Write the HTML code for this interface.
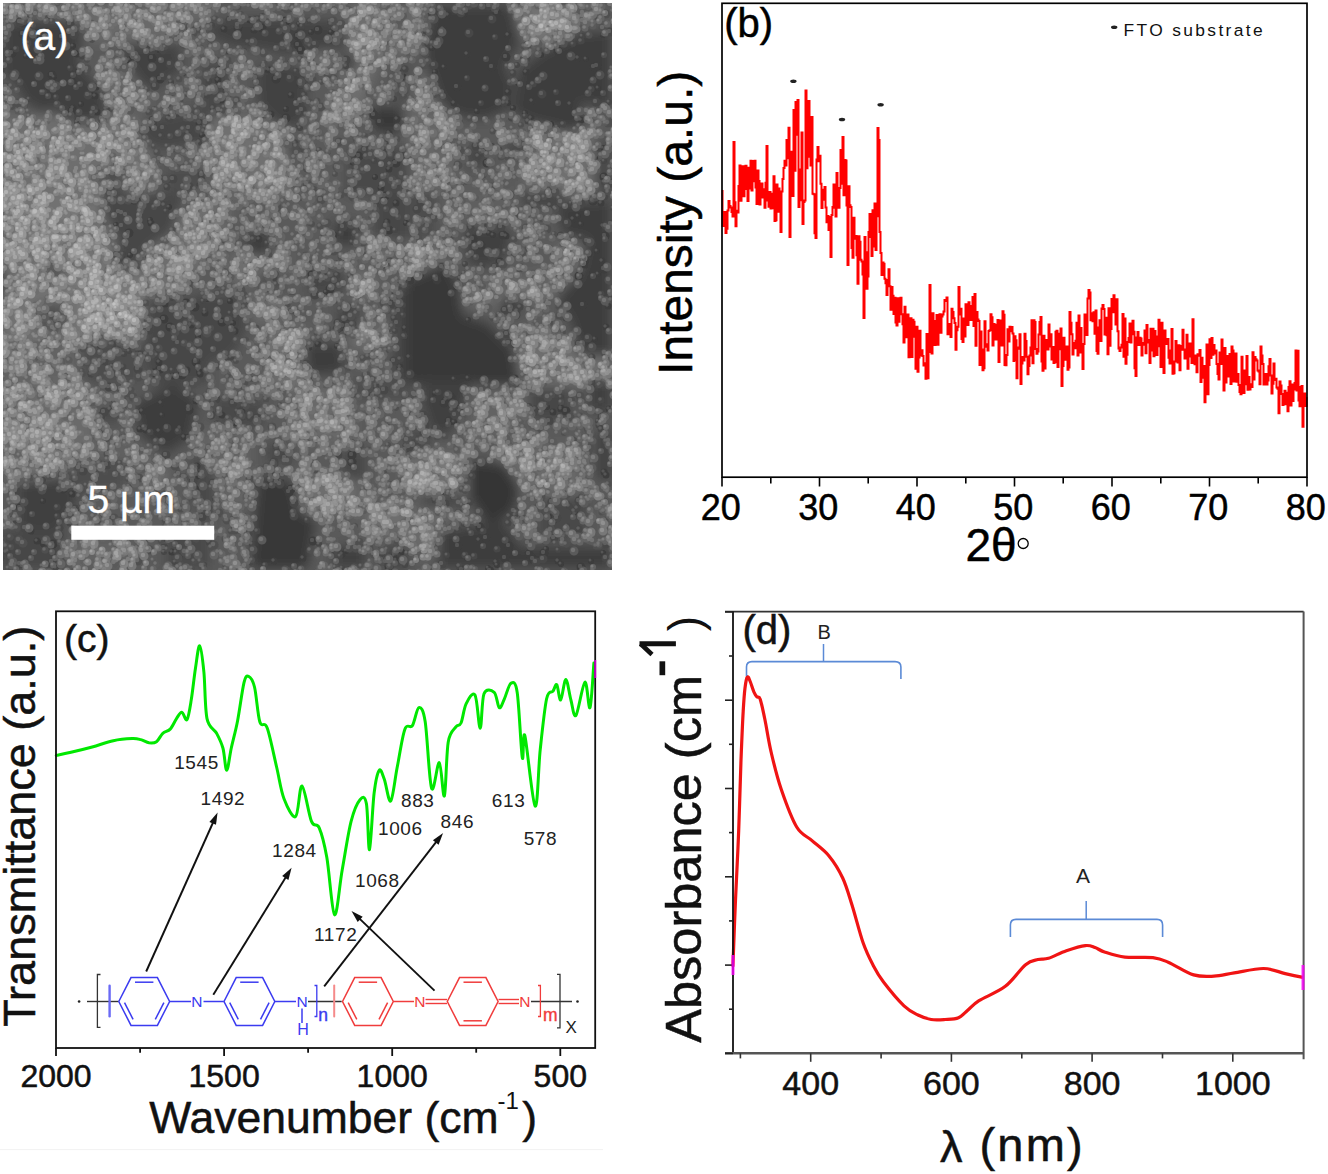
<!DOCTYPE html>
    <html><head><meta charset="utf-8"><style>html,body{margin:0;padding:0;background:#fff;width:1328px;height:1174px;overflow:hidden}
    svg{display:block} text{font-family:"Liberation Sans", sans-serif}</style></head><body>
    <svg width="1328" height="1174" viewBox="0 0 1328 1174">
    <defs><clipPath id="semclip"><rect x="3" y="3" width="609" height="567"/></clipPath><filter id="semblur" x="-5%" y="-5%" width="110%" height="110%"><feGaussianBlur stdDeviation="6"/></filter><filter id="semp" x="-5%" y="-5%" width="110%" height="110%"><feGaussianBlur stdDeviation="0.7"/></filter></defs>
<g clip-path="url(#semclip)"><g filter="url(#semblur)">
<rect x="-20" y="-20" width="660" height="620" fill="#5a5a5a"/>
<rect x="3" y="3" width="207" height="17" fill="#696969"/>
<rect x="90" y="10" width="86" height="32" fill="#696969"/>
<rect x="100" y="66" width="50" height="37" fill="#696969"/>
<rect x="0" y="116" width="150" height="79" fill="#6e6e6e"/>
<rect x="196" y="116" width="14" height="42" fill="#696969"/>
<polygon points="350,3 380,3 380,60 360,110 333,130 325,115 350,70" fill="#6e6e6e"/>
<rect x="293" y="50" width="40" height="16" fill="#696969"/>
<rect x="200" y="116" width="91" height="79" fill="#707070"/>
<rect x="383" y="42" width="27" height="16" fill="#696969"/>
<polygon points="513,5 571,5 571,37 546,47 521,37" fill="#757575"/>
<rect x="578" y="80" width="34" height="23" fill="#696969"/>
<rect x="405" y="0" width="25" height="50" fill="#696969"/>
<rect x="405" y="75" width="50" height="120" fill="#666666"/>
<rect x="468" y="91" width="40" height="17" fill="#696969"/>
<rect x="525" y="126" width="68" height="69" fill="#707070"/>
<rect x="3" y="193" width="140" height="147" fill="#727272"/>
<rect x="80" y="273" width="63" height="67" fill="#797979"/>
<polygon points="146,240 190,207 210,207 210,260 170,290 146,290" fill="#6e6e6e"/>
<rect x="0" y="340" width="80" height="45" fill="#646464"/>
<rect x="200" y="190" width="30" height="50" fill="#696969"/>
<rect x="233" y="253" width="53" height="30" fill="#707070"/>
<rect x="350" y="273" width="24" height="25" fill="#707070"/>
<rect x="366" y="240" width="25" height="16" fill="#6e6e6e"/>
<rect x="270" y="330" width="38" height="55" fill="#6e6e6e"/>
<rect x="350" y="323" width="50" height="25" fill="#6e6e6e"/>
<rect x="250" y="296" width="33" height="27" fill="#696969"/>
<rect x="405" y="243" width="42" height="33" fill="#6b6b6b"/>
<polygon points="463,290 560,270 588,276 588,300 500,306 463,306" fill="#696969"/>
<rect x="560" y="243" width="19" height="23" fill="#757575"/>
<rect x="518" y="340" width="94" height="45" fill="#6e6e6e"/>
<rect x="438" y="190" width="83" height="38" fill="#5f5f5f"/>
<rect x="3" y="383" width="90" height="97" fill="#6b6b6b"/>
<rect x="100" y="443" width="50" height="28" fill="#626262"/>
<rect x="146" y="466" width="20" height="22" fill="#6e6e6e"/>
<rect x="50" y="540" width="83" height="23" fill="#646464"/>
<rect x="300" y="476" width="58" height="37" fill="#6e6e6e"/>
<rect x="366" y="505" width="44" height="25" fill="#6e6e6e"/>
<rect x="291" y="386" width="62" height="57" fill="#696969"/>
<rect x="200" y="430" width="50" height="75" fill="#646464"/>
<rect x="405" y="453" width="63" height="43" fill="#6e6e6e"/>
<rect x="496" y="446" width="83" height="50" fill="#6b6b6b"/>
<rect x="405" y="510" width="42" height="45" fill="#696969"/>
<rect x="471" y="388" width="54" height="50" fill="#646464"/>
<polygon points="3,25 22,18 73,20 83,33 78,63 105,93 106,116 93,123 70,123 55,108 41,113 23,100 15,83 3,75" fill="#414141"/>
<polygon points="120,45 179,43 183,70 159,86 150,93 136,80 126,63" fill="#424242"/>
<polygon points="141,120 166,116 199,108 210,116 210,150 191,145 166,150 145,146 136,133" fill="#464646"/>
<rect x="166" y="166" width="44" height="29" fill="#4d4d4d"/>
<rect x="100" y="169" width="26" height="26" fill="#505050"/>
<polygon points="207,23 242,17 300,20 333,20 350,47 325,50 293,56 263,50 233,47 210,37" fill="#424242"/>
<polygon points="255,66 293,63 316,75 306,91 308,116 293,130 271,123 258,103" fill="#424242"/>
<rect x="200" y="63" width="30" height="53" fill="#494949"/>
<polygon points="371,106 403,108 403,133 373,133" fill="#383838"/>
<polygon points="286,143 303,143 305,158 290,158" fill="#3c3c3c"/>
<polygon points="341,55 358,56 354,71 343,70" fill="#3c3c3c"/>
<rect x="346" y="146" width="64" height="49" fill="#494949"/>
<rect x="396" y="63" width="14" height="40" fill="#464646"/>
<polygon points="432,5 513,5 521,42 505,66 513,83 511,108 485,120 455,116 438,100 427,66 423,42" fill="#3c3c3c"/>
<polygon points="518,70 555,42 579,33 612,30 612,108 579,103 588,125 571,133 538,125 513,113" fill="#3c3c3c"/>
<polygon points="463,146 488,146 491,166 468,169" fill="#464646"/>
<polygon points="505,141 531,141 528,158 508,158" fill="#464646"/>
<rect x="596" y="141" width="16" height="54" fill="#464646"/>
<polygon points="100,193 183,193 174,232 150,248 133,276 113,270 116,240 103,215" fill="#464646"/>
<polygon points="146,300 191,298 210,290 210,385 150,385 141,340" fill="#464646"/>
<polygon points="80,340 116,336 141,348 141,385 83,385" fill="#4d4d4d"/>
<rect x="0" y="273" width="10" height="20" fill="#494949"/>
<rect x="36" y="303" width="30" height="28" fill="#505050"/>
<rect x="46" y="263" width="17" height="17" fill="#4d4d4d"/>
<polygon points="241,233 271,233 271,256 250,256" fill="#3c3c3c"/>
<polygon points="333,220 358,223 358,246 333,245" fill="#3c3c3c"/>
<rect x="374" y="193" width="36" height="47" fill="#464646"/>
<polygon points="200,296 241,293 250,323 233,356 200,364" fill="#464646"/>
<polygon points="308,270 350,273 346,293 308,296" fill="#464646"/>
<polygon points="338,306 358,306 358,331 338,331" fill="#3f3f3f"/>
<polygon points="303,343 341,343 346,373 306,376" fill="#3c3c3c"/>
<rect x="391" y="290" width="19" height="95" fill="#464646"/>
<rect x="258" y="270" width="25" height="26" fill="#4d4d4d"/>
<polygon points="405,280 447,261 460,290 463,315 488,323 513,348 521,385 405,385" fill="#383838"/>
<polygon points="463,227 511,227 508,256 488,268 468,265" fill="#3f3f3f"/>
<polygon points="555,203 612,200 612,356 579,356 571,323 555,298 579,273 588,240 563,236" fill="#3c3c3c"/>
<polygon points="501,298 521,298 521,311 505,313" fill="#313131"/>
<rect x="405" y="190" width="33" height="50" fill="#4d4d4d"/>
<rect x="521" y="190" width="42" height="17" fill="#424242"/>
<polygon points="133,403 174,383 199,400 191,438 166,455 141,438" fill="#3c3c3c"/>
<polygon points="17,483 66,476 80,496 66,521 50,538 17,526" fill="#3f3f3f"/>
<rect x="0" y="530" width="66" height="39" fill="#464646"/>
<rect x="66" y="460" width="59" height="28" fill="#4d4d4d"/>
<rect x="166" y="526" width="44" height="43" fill="#494949"/>
<rect x="100" y="407" width="20" height="16" fill="#464646"/>
<rect x="191" y="455" width="19" height="50" fill="#494949"/>
<polygon points="258,476 291,480 300,510 316,521 308,569 250,569 255,505" fill="#383838"/>
<polygon points="213,397 266,400 263,430 233,430 213,421" fill="#494949"/>
<rect x="266" y="443" width="27" height="20" fill="#464646"/>
<rect x="341" y="450" width="25" height="30" fill="#464646"/>
<rect x="333" y="546" width="33" height="23" fill="#3f3f3f"/>
<rect x="383" y="546" width="27" height="23" fill="#424242"/>
<rect x="350" y="380" width="60" height="20" fill="#4d4d4d"/>
<rect x="200" y="471" width="16" height="50" fill="#494949"/>
<polygon points="468,460 505,463 521,488 513,513 488,526 468,496" fill="#353535"/>
<polygon points="422,380 471,380 463,413 447,438 430,430 422,405" fill="#3f3f3f"/>
<polygon points="438,530 505,521 521,546 612,546 612,569 438,569" fill="#3c3c3c"/>
<rect x="588" y="380" width="24" height="33" fill="#3f3f3f"/>
<rect x="596" y="430" width="16" height="50" fill="#3f3f3f"/>
<rect x="530" y="388" width="41" height="33" fill="#464646"/>
<rect x="422" y="493" width="41" height="13" fill="#424242"/>
<rect x="538" y="496" width="50" height="42" fill="#494949"/>
<rect x="405" y="430" width="25" height="25" fill="#494949"/>
</g>
<g filter="url(#semp)" stroke-linecap="round" fill="none">
<path d="M444 12h0m-145 12h0m12 8h0m20 0h0m2-3h0m270 6h0m-597 1h0m31 4h0m36 6h0m-47 10h0m108 1h0m298-9h0m109 7h0m45 4h0m-372 12h0m220-6h0m10 2h0m-393 15h0m3-5h0m381-5h0m83 11h0m-427 12h0m507-7h0m-517 16h0m427-1h0m-222 6h0m191 2h0m36-3h0m12 5h0m26 11h0m-349 11h0m401 13h0m-228 29h0m-214 20h0m441 0h0m-433 10h0m-53 18h0m34-5h0m191 3h0m65 0h0m172-7h0m3 8h0m-97 6h0m5 3h0m4 2h0m104 16h0m-467 4h0m291 20h0m177-1h0m-391 25h0m119-7h0m-96 9h0m3 22h0m235-3h0m-270 16h0m139 10h0m2 0h0m66-9h0m190 2h0m-286 9h0m-110 23h0m255 8h0m14-1h0m-33 15h0m112 14h0m-385 8h0m298-7h0m-6 14h0m22 43h0m-195 16h0m-238 20h0m511 20h0m-348 14h0m140 16h0m200-2h0m-152 7h0m0-2h0m2 6h0m6-8h0m65 6h0m124 3h0m12-8h0m-214 13h0m99 2h0m9-3h0m64-1h0" stroke="#3c3c3c" stroke-width="6"/>
<path d="M250 20h0m198-5h0m-417 16h0m193-2h0m30 1h0m189-1h0m65 6h0m-177 5h0m109 2h0m-410 12h0m47 0h0m83-4h0m307 4h0m111 4h0m-449 2h0m5 5h0m85 5h0m46-1h0m4 1h0m-51 10h0m308-8h0m-430 15h0m195 8h0m217-3h0m-413 4h0m126 4h0m233 3h0m78-2h0m38 3h0m-497 4h0m24 4h0m174 2h0m101-3h0m25 8h0m134-1h0m-379 9h0m429-7h0m-192 13h0m-36 29h0m42 1h0m-6 6h0m-8 19h0m-247 13h0m262 2h0m205 0h0m-475 12h0m250-9h0m-225 17h0m236-1h0m186-3h0m30 7h0m-344 13h0m75-4h0m172 1h0m-385 21h0m372-3h0m96 0h0m13 7h0m-158 8h0m4 0h0m137-4h0m-129 22h0m-126 2h0m-165 15h0m443 2h0m-403 7h0m-19 12h0m5 0h0m44 6h0m170-3h0m201-1h0m-288 17h0m-180 10h0m271 3h0m-250 5h0m28 8h0m123-1h0m90-2h0m-227 9h0m27-2h0m315 4h0m76 9h0m-430 16h0m35-2h0m250-1h0m-304 11h0m80 4h0m331-3h0m8-4h0m0 1h0m48 0h0m-469 20h0m6 1h0m13 1h0m21-3h0m55-5h0m-51 14h0m13 29h0m407 6h0m2 3h0m-410 14h0m-124 5h0m503 20h0m-26 3h0m8 1h0m-526 13h0m6 10h0m442-1h0m-307 12h0m7 5h0m95 4h0m29-3h0m39-4h0m45 5h0m109 3h0m62-1h0" stroke="#3c3c3c" stroke-width="7"/>
<path d="M491 6h0m-468 17h0m263-2h0m177-7h0m34-1h0m-474 21h0m215-6h0m24 0h0m56 2h0m-256 7h0m236 8h0m0-9h0m-286 17h0m122 5h0m18 0h0m149-8h0m205 7h0m52-6h0m-478 19h0m412-3h0m102 0h0m3-1h0m-545 9h0m20 7h0m88-3h0m116 0h0m127-1h0m-102 6h0m156 3h0m-385 24h0m214 7h0m88-3h0m-174 8h0m180-1h0m-21 34h0m37 7h0m91 0h0m114-4h0m3 18h0m-219 19h0m208 5h0m-464 32h0m260-3h0m84 9h0m30-4h0m102 1h0m-124 9h0m19 17h0m85-2h0m-273 15h0m292-6h0m-194 11h0m27 0h0m142-4h0m-249 13h0m-144 14h0m9 4h0m388-2h0m-419 14h0m58 3h0m-52 5h0m170 0h0m3-1h0m-183 43h0m36-7h0m-42 11h0m28 2h0m262 28h0m7-6h0m-262 13h0m51 3h0m1-1h0m325-1h0m-399 16h0m282-6h0m-260 17h0m163 17h0m0 7h0m-155 13h0m-134 14h0m228 0h0m-2 3h0m-269 16h0m529 2h0m-69 17h0m6 11h0m-442 5h0m9 1h0m260-3h0m145 5h0m51 0h0m-4 12h0m24-4h0m4 5h0m11-6h0m-155 14h0m73 3h0m28 1h0m91-4h0" stroke="#3c3c3c" stroke-width="9"/>
<path d="M28 19h0m20 1h0m214-4h0m68 5h0m-298 13h0m180-9h0m90 1h0m-238 18h0m85 1h0m161 1h0m24-9h0m161 0h0m78 7h0m9-8h0m-544 22h0m45-6h0m49 0h0m3 1h0m109-2h0m-174 17h0m226 3h0m50-5h0m171-1h0m-435 7h0m89 10h0m38-1h0m191-8h0m67 5h0m48 3h0m-471 11h0m172-5h0m37 3h0m182-1h0m121 3h0m-527 7h0m27-2h0m338 2h0m87 4h0m128-1h0m-501 6h0m60 10h0m10-4h0m27 4h0m320-2h0m-448 6h0m77 2h0m51 3h0m95 1h0m257-1h0m-173 22h0m108-3h0m-118 15h0m230 0h0m-252 10h0m55 16h0m197-5h0m-33 21h0m-405 8h0m447-3h0m-189 11h0m3 8h0m-86 6h0m20-5h0m34 2h0m186 6h0m-314 7h0m85-1h0m-229 12h0m342 10h0m-150 21h0m81 1h0m64-8h0m-288 20h0m230-4h0m-226 16h0m27-9h0m2 9h0m198-5h0m-173 8h0m11-1h0m162 3h0m109 3h0m-316 6h0m142 6h0m2-2h0m8 5h0m47-2h0m-295 15h0m24 8h0m5-3h0m28 4h0m70 3h0m-115 8h0m60 4h0m7-1h0m17-9h0m-42 21h0m222 4h0m0 2h0m95 3h0m120-6h0m-348 22h0m286 0h0m11 1h0m6-3h0m15-7h0m-459 20h0m135-6h0m303 11h0m58-1h0m-173 13h0m-67 15h0m-7 13h0m-156 9h0m79 7h0m-231 2h0m410 17h0m12 5h0m-388 12h0m438 1h0m29-8h0m-487 9h0m250 4h0m157 4h0m14-7h0m89 9h0m-401 13h0m278-10h0m25 1h0m82 6h0m13 1h0m-556 14h0m40-7h0m204 0h0m67 0h0m239 6h0m-394 2h0m11 10h0m1-10h0m164 4h0m42-2h0m65 1h0m-433 12h0m1-1h0m1-2h0m40 4h0m128 1h0m20-4h0m61 0h0m77 3h0m46 3h0m17-6h0m33 6h0m146 1h0" stroke="#464646" stroke-width="6"/>
<path d="M443 10h0m-185 9h0m52 2h0m-54 6h0m75-3h0m95 7h0m-398 12h0m220-1h0m180 2h0m153-3h0m-573 15h0m8-7h0m66 7h0m70-5h0m75 0h0m59 14h0m5-3h0m114 7h0m122-3h0m-14 7h0m-306 22h0m94-10h0m3 10h0m89-10h0m140-1h0m58 5h0m-87 14h0m-398 6h0m64 10h0m43-11h0m-9 23h0m95-6h0m229-4h0m35 3h0m-402 12h0m27-3h0m2 3h0m9 6h0m96 1h0m84 3h0m7 0h0m0-2h0m16 11h0m97-5h0m99-2h0m-208 16h0m88-8h0m-312 24h0m1 7h0m0-7h0m23 6h0m163 1h0m253-6h0m-14 19h0m-428 5h0m370 1h0m16-1h0m-204 14h0m124 7h0m-217 13h0m11-6h0m8 2h0m61 4h0m136-4h0m2-7h0m-344 18h0m-6 12h0m202 17h0m14 0h0m145-10h0m-161 17h0m258 2h0m-374 14h0m34-3h0m30-7h0m332 6h0m-253 13h0m169 4h0m3-4h0m-284 10h0m158 1h0m172 0h0m-386 12h0m19-6h0m148 5h0m6-5h0m-240 20h0m291-8h0m-286 14h0m108 8h0m5-1h0m169 2h0m192-2h0m-487 5h0m18 5h0m277 3h0m-309 4h0m21-2h0m326 20h0m-249 15h0m24-6h0m41-1h0m347 0h0m-503 15h0m12-6h0m18 2h0m7 7h0m84-7h0m23 6h0m8 1h0m202-8h0m8 1h0m75-2h0m67 3h0m-424 19h0m39-7h0m209 1h0m173 0h0m2 4h0m-451 3h0m277 5h0m-88 18h0m67-9h0m0 3h0m205 10h0m1 1h0m-140 16h0m-257 22h0m220 2h0m27 2h0m8 0h0m112-5h0m-525 10h0m510-3h0m2 2h0m5 5h0m3-3h0m-507 15h0m96 3h0m6-2h0m17 3h0m263 0h0m56-4h0m1-7h0m-449 12h0m0 7h0m130 1h0m3-3h0m56 1h0m8-3h0m201-1h0m25 1h0m96-2h0m-370 13h0m130 6h0m158 1h0m115-5h0m-611 14h0m5-6h0m244 10h0m81-8h0m59 8h0m75-7h0m9 1h0m-426 8h0m301 6h0m110-4h0m76 8h0" stroke="#464646" stroke-width="7"/>
<path d="M489 6h0m-469 16h0m1 0h0m4-3h0m205 1h0m25 0h0m176-8h0m30 1h0m31 6h0m-460 7h0m38-2h0m4 11h0m164-10h0m231 8h0m141-1h0m-569 15h0m274-3h0m21-6h0m-173 12h0m363 9h0m-525 10h0m169-5h0m176-4h0m88 5h0m-271 11h0m22-4h0m71 6h0m34 0h0m19-2h0m-221 19h0m67-9h0m72 5h0m315 3h0m54 8h0m-502 7h0m208 1h0m210 7h0m-433 3h0m74 0h0m10 8h0m26 0h0m176 22h0m26 5h0m85-9h0m8 6h0m119 3h0m-248 6h0m-182 18h0m29-4h0m-1 10h0m194-2h0m217 0h0m-474 17h0m283 2h0m183-6h0m-485 16h0m3 1h0m4 2h0m250-8h0m41 2h0m164-5h0m-459 22h0m221 1h0m43-1h0m97 1h0m18 0h0m66-4h0m39 3h0m5-2h0m-50 12h0m26 5h0m-95 15h0m-50 11h0m53 0h0m-222 10h0m125 9h0m6-3h0m-89 12h0m81-2h0m215 2h0m-220 9h0m5-3h0m3 10h0m106-1h0m6 1h0m-173 12h0m59 0h0m119-8h0m-367 15h0m25-2h0m58 3h0m105-2h0m11-3h0m159 8h0m-329 9h0m331 0h0m5 1h0m65 0h0m9-6h0m-447 17h0m-3 14h0m168-5h0m46-1h0m42-2h0m-80 15h0m96-2h0m181 9h0m-482 4h0m275 3h0m-168 9h0m17 4h0m140-7h0m-269 16h0m107 3h0m46 3h0m166-3h0m3 3h0m29-3h0m78-3h0m69 5h0m-478 3h0m43 8h0m269 0h0m113-7h0m19-1h0m-144 13h0m-258 22h0m111-9h0m132 1h0m-302 18h0m167-1h0m0-2h0m11-4h0m-202 13h0m110 0h0m78 5h0m-255 15h0m177-10h0m20 2h0m46 1h0m18-2h0m3 2h0m14 19h0m146-8h0m112 7h0m27-1h0m-504 8h0m370-5h0m69 7h0m-503 12h0m2-3h0m189-3h0m92-1h0m160 11h0m103-9h0m-532 10h0m184 0h0m231 8h0m114 2h0m3-4h0m-393 14h0m442-4h0m-554 18h0m334 0h0m150 0h0m7-3h0m63-1h0m-586 6h0m324 10h0m98-10h0" stroke="#464646" stroke-width="9"/>
<path d="M222 1h0m60 7h0m9 1h0m19-2h0m31-6h0m120 6h0m49 4h0m-486 11h0m28-1h0m189-7h0m152 4h0m201 0h0m-561 7h0m205 8h0m45-9h0m56 1h0m247 3h0m-494 12h0m64-1h0m9 8h0m18-1h0m249-3h0m-346 6h0m36 3h0m86 6h0m56-7h0m25-2h0m38 5h0m85 4h0m12-5h0m62 6h0m118-4h0m-517 5h0m147 7h0m15-2h0m15-2h0m11 3h0m67-3h0m2 1h0m163 2h0m105 2h0m-539 7h0m14-3h0m148 11h0m86-1h0m80-8h0m7 8h0m-366 10h0m34-5h0m4-3h0m22 11h0m45-6h0m24-1h0m15 6h0m249 1h0m94-8h0m74 6h0m-595 6h0m4 8h0m13-1h0m23-10h0m20 2h0m104 0h0m52 9h0m164-10h0m1 7h0m1-4h0m14-4h0m154 7h0m-466 10h0m62-4h0m68 2h0m76 1h0m8 2h0m58-1h0m-222 15h0m139-7h0m123-1h0m1 11h0m99-8h0m17 2h0m15-1h0m71-2h0m-437 14h0m122 3h0m73-4h0m27 4h0m84 4h0m2-1h0m-324 4h0m13 0h0m3 8h0m149-4h0m9 2h0m52-7h0m81 10h0m5-6h0m15 2h0m-313 8h0m29 5h0m115-5h0m78 5h0m75-8h0m-304 22h0m41-5h0m115-5h0m18 6h0m51 1h0m-281 14h0m199-9h0m10 9h0m81-5h0m72-2h0m17 7h0m122-7h0m-295 17h0m192-2h0m41 0h0m15 1h0m-405 9h0m232 2h0m135 0h0m14 3h0m8-5h0m12 1h0m1 1h0m-247 14h0m3 1h0m74 1h0m12-8h0m130 0h0m85 7h0m-374 10h0m82 4h0m49-6h0m92-3h0m92 5h0m51 5h0m-274 10h0m166 2h0m8 0h0m14-1h0m31-2h0m-218 4h0m4 11h0m140-6h0m47-3h0m30 0h0m-330 13h0m53 7h0m34-8h0m20 1h0m117-3h0m17 9h0m37-8h0m-286 19h0m61 0h0m31-4h0m43-4h0m35 0h0m16 6h0m3-6h0m31 1h0m158-1h0m-403 14h0m58 7h0m216-2h0m-304 7h0m319 9h0m28-9h0m-313 20h0m305-8h0m6 5h0m45 4h0m-405 4h0m66 1h0m113 2h0m13 0h0m53-1h0m173 3h0m-465 11h0m13 1h0m279-3h0m2-5h0m190 10h0m-357 11h0m-143 14h0m30-1h0m95 1h0m29-10h0m104-1h0m7 7h0m2 1h0m15 1h0m-281 5h0m18 4h0m5-4h0m146 5h0m85-1h0m45-4h0m4 3h0m205 4h0m-398 14h0m58-2h0m123 1h0m3-1h0m88-3h0m51 0h0m23 4h0m13 1h0m47-10h0m1-1h0m-486 17h0m141 2h0m4-6h0m21 8h0m74-9h0m28 1h0m51 3h0m40 4h0m88-2h0m-292 7h0m108 1h0m19-2h0m12 0h0m-285 14h0m21 5h0m243-1h0m61-2h0m90-1h0m-431 16h0m23-7h0m58 10h0m164 0h0m7-1h0m7-3h0m47-2h0m5 4h0m54 1h0m92-8h0m10 7h0m-298 6h0m26 6h0m86-7h0m-284 19h0m16-1h0m82-1h0m93-5h0m86 3h0m2 1h0m209 1h0m-487 10h0m23 7h0m74-3h0m177-7h0m-293 16h0m5-2h0m30 8h0m8-5h0m82 1h0m82-7h0m97 4h0m75 7h0m-379 6h0m113 6h0m1-5h0m16 2h0m232-7h0m0 1h0m91 7h0m74-9h0m-581 22h0m67 1h0m39-5h0m60 4h0m240-9h0m24 0h0m54 7h0m21 0h0m-534 15h0m97-6h0m13 6h0m124-11h0m7 0h0m6 5h0m90 4h0m6-2h0m9 3h0m161-2h0m-513 15h0m55-10h0m70 6h0m16-2h0m24 4h0m29-5h0m2-4h0m130 8h0m63-1h0m79-2h0m52-5h0m-512 19h0m150-6h0m6 8h0m181-7h0m8-1h0m4 0h0m6 8h0m4-6h0m17 6h0m96-3h0m72-3h0m47-2h0m-408 20h0m6 0h0m52-1h0m65-8h0m90 1h0m-399 15h0m34-2h0m62-2h0m88 4h0m33-3h0m16 3h0m76 6h0m18-7h0m26-1h0m9 4h0m23 3h0m33-3h0m2-1h0m9 1h0m31 5h0m33-5h0m67 2h0" stroke="#505050" stroke-width="6"/>
<path d="M238 7h0m81 4h0m268-11h0m11 7h0m-586 14h0m18 2h0m14-6h0m0 1h0m32 1h0m139 0h0m228-6h0m-414 18h0m170-1h0m5-4h0m61 7h0m14-2h0m15-4h0m295 8h0m-449 6h0m60 4h0m11 1h0m216-8h0m97 8h0m40-2h0m1-3h0m-457 7h0m192 11h0m222-3h0m17-6h0m-530 10h0m171 10h0m37-10h0m11 0h0m168 3h0m28 3h0m4-5h0m-408 21h0m51 0h0m82-2h0m17-2h0m9 1h0m74-3h0m3-3h0m78 5h0m58-1h0m118 5h0m83-2h0m18-3h0m-600 9h0m297 3h0m97 2h0m80-3h0m103 5h0m-569 10h0m38 1h0m49 0h0m62 0h0m28 3h0m33-3h0m32 0h0m56-3h0m188-2h0m-434 16h0m8-3h0m34-3h0m36 3h0m37 6h0m284 0h0m-381 4h0m94 7h0m99-7h0m83-2h0m7 11h0m121 0h0m86-5h0m-436 6h0m166 11h0m47-4h0m2 0h0m39 0h0m113-1h0m11 1h0m-364 13h0m25-3h0m114-3h0m36-1h0m39 4h0m19 5h0m-217 9h0m3-2h0m190-5h0m32 2h0m103-1h0m10 9h0m10-4h0m76 1h0m13 4h0m-247 3h0m120 5h0m31-1h0m-319 15h0m266-6h0m31 3h0m29 2h0m-408 11h0m0-3h0m15 5h0m171-3h0m42-3h0m48-1h0m141 5h0m78-7h0m-232 18h0m139 5h0m21-9h0m-268 21h0m52-1h0m52-9h0m38 8h0m10 1h0m121-7h0m-373 18h0m4-7h0m73 9h0m56-8h0m3 0h0m25 6h0m26-4h0m159 6h0m-292 6h0m56-1h0m56-3h0m186 8h0m50-9h0m-422 15h0m117 2h0m85-3h0m102 9h0m131-6h0m-446 9h0m258-1h0m24 10h0m101-6h0m2-2h0m-195 11h0m-175 18h0m31-3h0m20 1h0m20-1h0m1-4h0m41 8h0m27-5h0m48 2h0m46-5h0m65 4h0m-305 10h0m98 4h0m2-5h0m94 7h0m47 2h0m172-5h0m52-6h0m-364 12h0m41 2h0m68-1h0m146 9h0m8-6h0m21-2h0m-386 13h0m111 1h0m61 5h0m11-4h0m24-5h0m2 5h0m38-3h0m165-1h0m-467 22h0m22-8h0m72 4h0m52-3h0m78-1h0m5-1h0m179-2h0m7 7h0m-371 5h0m12 6h0m13-6h0m190 11h0m14-1h0m5-2h0m18-6h0m-266 14h0m20 1h0m111 6h0m125-7h0m-148 13h0m105 3h0m50 3h0m8-7h0m-260 14h0m36 3h0m39 2h0m176-10h0m102-1h0m3 2h0m1 5h0m19-6h0m11 0h0m16 7h0m74-7h0m-490 22h0m5-7h0m123 6h0m2-8h0m1 1h0m17 0h0m0 0h0m106 8h0m52-9h0m-196 20h0m14-2h0m128-3h0m9 2h0m27-7h0m2 3h0m116 1h0m56 4h0m-480 9h0m4 5h0m26-8h0m106-2h0m134 1h0m1 7h0m92 3h0m76-4h0m48 1h0m1 2h0m-466 8h0m12 0h0m22 3h0m38-4h0m45-5h0m137 9h0m61-4h0m8-1h0m161 5h0m-409 6h0m164-1h0m7 4h0m221 4h0m-509 11h0m15-1h0m4-1h0m57-3h0m24-4h0m23 6h0m270 5h0m-443 11h0m19-1h0m17-3h0m55-2h0m65 5h0m4-3h0m71-5h0m2 4h0m3-4h0m23 0h0m26 1h0m24 3h0m44 4h0m-324 12h0m2-6h0m37 6h0m115-5h0m45-1h0m7 3h0m7-1h0m124 6h0m66-2h0m5-8h0m141 3h0m-529 12h0m17-4h0m61 5h0m30 5h0m4-5h0m206-5h0m195 1h0m-433 20h0m22-4h0m112 3h0m11-1h0m8 4h0m221-5h0m66-5h0m3 7h0m-537 4h0m171 1h0m219-1h0m150 4h0m-595 17h0m7-9h0m63 0h0m33 8h0m78 1h0m5 2h0m22-6h0m13-2h0m111-2h0m11 9h0m89 1h0m94-8h0m12 0h0m20 3h0m-562 12h0m39 4h0m15-8h0m90 7h0m61-2h0m99 3h0m23-8h0m48 3h0m7-5h0m49 9h0m2-4h0m66-5h0m58 3h0m3 1h0m30 2h0m3 0h0m-350 11h0m132 6h0m14-11h0m-363 18h0m15 4h0m61-10h0m4 9h0m44 0h0m25-8h0m22 2h0m40 0h0m40 7h0m4-4h0m30 2h0m15-6h0m53 7h0m5-7h0m41 2h0m139 5h0m23-3h0" stroke="#505050" stroke-width="7"/>
<path d="M213 3h0m56 6h0m18 0h0m1-1h0m52-8h0m129 5h0m26 3h0m15 0h0m-479 13h0m302 0h0m101-2h0m172-5h0m-604 20h0m187 1h0m1-8h0m3 6h0m8-8h0m85 4h0m55-5h0m262 4h0m-419 8h0m27 2h0m42 4h0m30 3h0m25-4h0m131 0h0m88 5h0m-286 6h0m23 1h0m161 0h0m146 3h0m-484 13h0m145-2h0m14-2h0m18 1h0m-249 8h0m24 2h0m172-2h0m17 9h0m32-10h0m41 9h0m11-2h0m16-6h0m215 2h0m57-1h0m-594 12h0m50-1h0m146 3h0m48 2h0m186 1h0m-419 11h0m91-2h0m71 0h0m50-1h0m8 1h0m3 4h0m69-2h0m12 4h0m-300 3h0m81 9h0m94-1h0m23-8h0m45 4h0m182-4h0m168 8h0m-415 11h0m7-6h0m0-1h0m146 7h0m107-6h0m75 1h0m74-1h0m-269 19h0m-165 6h0m123 5h0m74 2h0m89-6h0m65-4h0m83 4h0m-448 10h0m177 8h0m44-11h0m77 9h0m50-9h0m106 11h0m-501 7h0m53 5h0m141-11h0m49 4h0m1-4h0m45 6h0m-95 10h0m53 7h0m32-11h0m93 9h0m64 2h0m-439 3h0m211 6h0m26-8h0m6 5h0m52-5h0m105 3h0m45-3h0m6 10h0m34-5h0m-454 10h0m136 0h0m-16 20h0m8-6h0m58 2h0m13-3h0m11 4h0m77 2h0m6-8h0m-174 12h0m158 8h0m33-3h0m75-7h0m4 2h0m15-2h0m2 1h0m-213 22h0m29-9h0m166 6h0m61-6h0m-473 13h0m2 1h0m149-1h0m38 1h0m1 4h0m35-3h0m20-3h0m0-1h0m28 9h0m120-8h0m-194 20h0m69-9h0m1-1h0m65 5h0m1 5h0m51-10h0m-313 20h0m26 0h0m186-1h0m57 3h0m150-6h0m-391 14h0m23-4h0m2 5h0m319-5h0m52-2h0m-435 18h0m4 3h0m0-4h0m104-2h0m52-3h0m45 3h0m154 7h0m-478 10h0m88-1h0m80 1h0m19-8h0m45 0h0m59 4h0m142 1h0m67-1h0m-385 16h0m11-8h0m21 9h0m115-4h0m-132 17h0m55-5h0m59 6h0m288 0h0m-509 1h0m69 6h0m86 1h0m67-5h0m300 3h0m-520 9h0m132 4h0m-123 6h0m45 5h0m11-4h0m46 8h0m48 1h0m84 1h0m38-8h0m7 5h0m142 2h0m-401 5h0m7 2h0m3-2h0m2 6h0m67-9h0m17 8h0m35-4h0m160 7h0m9-1h0m1 1h0m33 0h0m34-5h0m26 0h0m24 1h0m-413 12h0m3 4h0m11-10h0m80 8h0m335-8h0m23 4h0m9-5h0m1 5h0m-453 17h0m112-5h0m180 3h0m150 1h0m-370 10h0m20-2h0m52 2h0m270 2h0m-435 8h0m18 1h0m282 2h0m19 1h0m166-5h0m17 5h0m-501 13h0m86-9h0m156 1h0m240 2h0m-498 17h0m22-1h0m61 2h0m92 1h0m6-3h0m12-3h0m3 0h0m-226 14h0m17-7h0m49 1h0m11 9h0m40-4h0m5 3h0m19-4h0m47 5h0m16-6h0m17 3h0m100-1h0m-341 16h0m39 0h0m304-2h0m-361 14h0m133-7h0m4 2h0m3 3h0m0-5h0m0 7h0m7-10h0m1 8h0m267 2h0m20 1h0m82-6h0m25-2h0m38 7h0m-588 13h0m5-5h0m50 5h0m11-11h0m105 4h0m32 5h0m222-8h0m18 8h0m20-1h0m60-6h0m8 5h0m-433 7h0m6 3h0m46-1h0m7 6h0m54-6h0m6 0h0m14 7h0m276-8h0m-409 9h0m30 11h0m50-3h0m32 3h0m9-9h0m4-1h0m5 8h0m194-8h0m96 5h0m2-3h0m15-1h0m-532 10h0m4 3h0m126 7h0m65-5h0m39 5h0m96-2h0m5-4h0m2 4h0m4 0h0m9 0h0m29-7h0m130 2h0m18-3h0m17 0h0m-494 15h0m69 6h0m40-3h0m7-6h0m3 0h0m186 2h0m-366 19h0m68-3h0m126-4h0m22 6h0m11-2h0m50 0h0m69-2h0m145 5h0" stroke="#505050" stroke-width="9"/>
<path d="M23 7h0m3 3h0m181-1h0m12-4h0m26-2h0m139-1h0m12 2h0m2 4h0m2 2h0m33-4h0m32 4h0m53-8h0m53 1h0m13 4h0m9-6h0m-588 17h0m35-3h0m6 6h0m31 0h0m141-9h0m186 4h0m21-1h0m151-3h0m-397 14h0m4 1h0m152 1h0m6 4h0m0 0h0m79 1h0m-417 12h0m106 1h0m1-2h0m85 3h0m331-1h0m-373 2h0m45 8h0m28 2h0m13-10h0m18 1h0m19-1h0m6 11h0m13-5h0m60 0h0m1 5h0m152-11h0m23 3h0m16 0h0m12 0h0m-523 10h0m125-1h0m41 3h0m100 5h0m16 3h0m17-1h0m-256 2h0m17 6h0m7 3h0m79-8h0m51 8h0m164-6h0m17 8h0m-397 7h0m17-6h0m77 11h0m80-7h0m2-2h0m0-2h0m27 1h0m18 4h0m77-3h0m17 6h0m54-5h0m55 5h0m79-8h0m-496 22h0m85-10h0m52 9h0m2-2h0m10-4h0m10 6h0m17-7h0m28 8h0m3-6h0m65 3h0m4-3h0m27-4h0m64 2h0m20 0h0m32-2h0m-415 15h0m1 5h0m33-8h0m23 11h0m71-9h0m41 2h0m16 0h0m37-3h0m327 9h0m17-8h0m-140 11h0m58 7h0m19-5h0m15 8h0m29-2h0m22-6h0m8 0h0m-456 19h0m186-10h0m117 8h0m5-2h0m14-2h0m-167 10h0m24 5h0m1-2h0m29-3h0m46 2h0m115-3h0m-216 17h0m7-3h0m163 5h0m44-6h0m75 5h0m-415 6h0m119 9h0m29-10h0m58 8h0m91-7h0m4 5h0m24-1h0m13 0h0m-332 13h0m126 0h0m31-2h0m54 2h0m4-4h0m89 0h0m20 3h0m28 2h0m-438 6h0m44 0h0m9-1h0m45 1h0m10 2h0m83 4h0m160-7h0m28 6h0m34-3h0m83-3h0m1 4h0m-325 18h0m3-9h0m15 2h0m2 8h0m181-1h0m63-10h0m1 11h0m53-2h0m-287 8h0m107-4h0m22 4h0m11-3h0m29 3h0m68 0h0m-373 18h0m3-1h0m59-7h0m104 1h0m28 4h0m106 3h0m81-5h0m0 4h0m26-4h0m-405 7h0m131 2h0m7 5h0m15 3h0m45-2h0m21-5h0m11 7h0m15-9h0m33 2h0m118 0h0m3-1h0m-247 12h0m40-3h0m37 10h0m5-9h0m57 6h0m11-4h0m3-2h0m58 5h0m-413 6h0m80 10h0m24-3h0m5 3h0m46-10h0m34 1h0m25 9h0m20-3h0m2-3h0m56 4h0m1 0h0m148 2h0m-557 4h0m11 2h0m236 3h0m69-7h0m18 4h0m5 5h0m13-7h0m0 3h0m52 4h0m79 1h0m75-4h0m1 3h0m20-9h0m-404 15h0m3 1h0m206 2h0m0-6h0m132 1h0m85 9h0m-558 13h0m134-4h0m2-7h0m41 2h0m100 7h0m19-9h0m1 2h0m19 6h0m11-6h0m112 5h0m28 0h0m38-6h0m-244 11h0m13 7h0m1 4h0m26-5h0m19 1h0m0 2h0m10-6h0m21-3h0m142 10h0m-387 4h0m49-1h0m33 3h0m71 3h0m47 3h0m-234 4h0m8 5h0m32-3h0m19-2h0m140 0h0m39-2h0m168 2h0m61 5h0m-547 16h0m34-10h0m8 1h0m23 2h0m15-2h0m19 5h0m79-6h0m12 4h0m123 2h0m6 1h0m16-6h0m11 0h0m9-1h0m-375 15h0m72-2h0m6 4h0m105 1h0m8 3h0m58-5h0m98 0h0m10-3h0m-254 10h0m14 10h0m26-4h0m73 3h0m5-6h0m3-1h0m3 3h0m22 3h0m43-1h0m20 4h0m8-3h0m43 1h0m224-3h0m6-3h0m-478 10h0m58 4h0m83-1h0m12 5h0m33-4h0m39-2h0m13-2h0m28 8h0m147-9h0m-331 12h0m33 6h0m164 5h0m46-4h0m32-4h0m15 4h0m7 1h0m9-2h0m-421 8h0m37 5h0m76-5h0m9 3h0m31 1h0m22-5h0m1 8h0m9-6h0m5 8h0m68-8h0m16 1h0m37-2h0m133 2h0m35 1h0m5-4h0m-483 20h0m2-8h0m20 0h0m3 10h0m121-4h0m47 3h0m63-9h0m35 0h0m11 6h0m85-2h0m2-1h0m34-3h0m-430 17h0m31 1h0m2-2h0m70-3h0m5 6h0m43-7h0m6 5h0m32-4h0m3-1h0m252 6h0m31-7h0m11 2h0m3-2h0m-448 21h0m17-7h0m3 5h0m4-3h0m34-1h0m24 7h0m91-3h0m77-7h0m5 5h0m9 6h0m78-10h0m2 9h0m15-9h0m3 8h0m85-8h0m22 6h0m-494 8h0m18 3h0m21-3h0m55-3h0m109 9h0m17-6h0m82-2h0m179 1h0m-527 21h0m13-6h0m1 5h0m56-8h0m78-1h0m61 10h0m130-2h0m-373 4h0m204 2h0m16 8h0m116-2h0m20 2h0m6-6h0m-248 13h0m15 3h0m235-2h0m58-7h0m99 0h0m46 3h0m-584 9h0m84 1h0m6 4h0m2 3h0m45-5h0m52 0h0m112 7h0m45-2h0m8-1h0m74 2h0m-379 9h0m84 0h0m41 2h0m144-5h0m21 0h0m127 4h0m39-2h0m58-4h0m-429 22h0m64 0h0m2-2h0m118-1h0m13-8h0m20 7h0m14 1h0m28 3h0m40-6h0m119 1h0m32-1h0m12-4h0m-513 15h0m29 0h0m53 0h0m142 7h0m47-2h0m44-8h0m12 10h0m12-9h0m130 1h0m38-2h0m-590 15h0m8-4h0m13 6h0m3-6h0m18 0h0m8 9h0m51-1h0m34 3h0m8-3h0m1-5h0m34 1h0m46 1h0m84-1h0m52 5h0m25 2h0m73-5h0m47-5h0m10 10h0m-480 8h0m159-2h0m22 0h0m11-5h0m57 2h0m31 2h0m14 2h0m136-1h0m37 2h0m25-2h0m4 6h0m24-1h0m41 0h0m7-8h0" stroke="#5a5a5a" stroke-width="6"/>
<path d="M57 3h0m71 2h0m121 1h0m19-1h0m57-4h0m6 1h0m73-1h0m36 7h0m42-2h0m35-4h0m57 5h0m21-2h0m18 6h0m-605 11h0m0-4h0m16-1h0m8 0h0m144 2h0m7-5h0m37 7h0m10-9h0m11 9h0m27 2h0m52-11h0m78 4h0m22 4h0m11-1h0m144 4h0m5-6h0m-392 17h0m16-9h0m5 2h0m220 5h0m164-6h0m-587 13h0m20 8h0m84-2h0m40-3h0m13-3h0m41 3h0m83 2h0m105-4h0m-384 13h0m33 3h0m43-5h0m6 6h0m1-6h0m46 7h0m101-4h0m88-1h0m9 5h0m203-4h0m-419 14h0m133-3h0m21 5h0m50-2h0m14-4h0m52 0h0m3-3h0m-340 22h0m147-10h0m53 4h0m26-2h0m51-3h0m54 11h0m9-6h0m122 4h0m24-1h0m73-8h0m-558 17h0m88 4h0m2-5h0m35-1h0m1 7h0m3-6h0m45 7h0m80-8h0m88 2h0m37 4h0m-430 14h0m101-10h0m57 10h0m7-5h0m36 2h0m14-4h0m96 4h0m72-5h0m113 3h0m-480 9h0m142 3h0m42 2h0m157 2h0m81-10h0m135 5h0m24 0h0m1 5h0m-511 6h0m214-1h0m62 0h0m32 4h0m9 3h0m50-8h0m31 0h0m16 4h0m90 1h0m12-7h0m-460 18h0m33-5h0m27 7h0m110-1h0m4 0h0m26 3h0m16-7h0m21 2h0m70 4h0m8 2h0m54-11h0m83 2h0m-284 10h0m174 10h0m28-1h0m86 2h0m-414 9h0m5-2h0m102-5h0m25 6h0m279 0h0m-478 9h0m36 2h0m1 2h0m263 3h0m17-7h0m56 6h0m22 0h0m82-8h0m-444 21h0m55 0h0m1 0h0m86-7h0m11-4h0m44 2h0m57 2h0m19 0h0m25 6h0m9-6h0m21-1h0m22 1h0m5 0h0m25 6h0m-430 12h0m10-1h0m22-5h0m109 7h0m39-2h0m42-8h0m8 4h0m67-3h0m11 1h0m41 2h0m7 4h0m3 0h0m32-3h0m12 0h0m-399 11h0m33 2h0m145-5h0m4-1h0m18 8h0m41 2h0m19-2h0m138-6h0m9-1h0m-408 16h0m126 4h0m13-2h0m14 2h0m2-4h0m6-3h0m37 6h0m63 2h0m49-9h0m5 3h0m37-1h0m5 6h0m18-2h0m28-6h0m-274 17h0m34-4h0m24 4h0m34-4h0m98-1h0m100 3h0m35 5h0m-397 2h0m109 5h0m16 3h0m5-5h0m79 0h0m12 0h0m65 2h0m19-4h0m7 5h0m5-2h0m55-3h0m-282 19h0m31 2h0m16-7h0m25 1h0m111 7h0m9-6h0m11-4h0m132 0h0m-536 20h0m3-8h0m71 3h0m91 6h0m50 0h0m80-2h0m28-8h0m13 5h0m8 3h0m8 3h0m2-10h0m62 4h0m92 3h0m-509 6h0m133 9h0m47-10h0m4 10h0m7-5h0m44-5h0m12 8h0m99-6h0m-227 15h0m138 5h0m4-9h0m11 7h0m20-1h0m6-1h0m8 2h0m104-8h0m-308 21h0m7-1h0m3-7h0m30-1h0m111 0h0m41 3h0m122 0h0m-404 17h0m128-3h0m100-1h0m76-5h0m116 0h0m4 0h0m15 11h0m7-5h0m43-2h0m-497 14h0m228-2h0m29 2h0m8 4h0m182-10h0m20 8h0m16-7h0m9 2h0m62 4h0m-508 7h0m3 6h0m15-2h0m14 1h0m0 0h0m5 4h0m108-3h0m16-1h0m48 1h0m77-2h0m0-3h0m-384 18h0m75-3h0m96-3h0m25 4h0m58 3h0m89-6h0m35-1h0m130 8h0m8-3h0m58-8h0m-576 21h0m15-8h0m53-1h0m31 1h0m147 8h0m2-3h0m7 5h0m104-2h0m7-1h0m-296 9h0m79 3h0m6-7h0m12 4h0m45 5h0m103-9h0m3 7h0m203 3h0m1-8h0m-293 10h0m36 8h0m60-8h0m79 9h0m61 0h0m56-7h0m66 0h0m-496 16h0m8 1h0m6 0h0m119-6h0m57 9h0m65-11h0m12 1h0m11 2h0m41 3h0m55 5h0m-343 4h0m146 8h0m85-5h0m38-1h0m13-3h0m8 5h0m3 4h0m45 0h0m15-4h0m2-5h0m42 2h0m12 2h0m79-2h0m3-4h0m-230 16h0m6 6h0m133-3h0m8-3h0m18 4h0m-448 8h0m13 7h0m48-2h0m27 0h0m3-7h0m43 6h0m28 3h0m0-5h0m20 5h0m24-1h0m8-4h0m3 2h0m67 0h0m9-2h0m72-4h0m25 8h0m66-9h0m36 8h0m-460 13h0m98-8h0m105 4h0m22-6h0m99 6h0m-395 17h0m10-7h0m22 3h0m3-3h0m58 1h0m2-5h0m95 7h0m254-3h0m-470 17h0m27 2h0m7-11h0m64 11h0m42-3h0m7-6h0m9 6h0m9-1h0m16-6h0m8 7h0m77-2h0m93-5h0m-392 18h0m23-1h0m12-1h0m87 2h0m49-2h0m11 1h0m66 4h0m46-5h0m48-3h0m31 8h0m5 1h0m17-9h0m182 4h0m14 0h0m-475 9h0m50 8h0m7-10h0m62-1h0m134 5h0m29-4h0m15 6h0m12-4h0m26 1h0m72 2h0m3-2h0m60 4h0m19-8h0m-453 13h0m32 1h0m29 3h0m3-4h0m28 1h0m174 4h0m31 5h0m81-4h0m21 0h0m2 2h0m37 2h0m7-7h0m4 3h0m4 2h0m-602 3h0m1 4h0m39 6h0m26-5h0m13 3h0m2-7h0m6-1h0m5 2h0m5 7h0m44-9h0m18 0h0m178 9h0m1-1h0m1-2h0m75-6h0m34 5h0m60-2h0m13 0h0m20-2h0m-466 13h0m8 5h0m42-1h0m21-6h0m8 2h0m43-1h0m23 7h0m17-2h0m123 2h0m30 2h0m60 1h0m73-8h0m59 1h0m-586 12h0m135 4h0m4-5h0m102-1h0m76 8h0m16-10h0m264 4h0m13 1h0m-497 18h0m103-11h0m3 0h0m1 10h0m12-5h0m146 3h0m-357 4h0m39 10h0m13-8h0m4 5h0m44-6h0m2 0h0m14 8h0m17-9h0m22 3h0m62-2h0m26 10h0m30-3h0m5-3h0m69-3h0m63 7h0m20 1h0m19-6h0m75 3h0m17 0h0m20 2h0" stroke="#5a5a5a" stroke-width="7"/>
<path d="M289 5h0m16 0h0m43 5h0m108-1h0m3-3h0m15-3h0m15-2h0m25 0h0m51 0h0m32 7h0m17-1h0m-584 5h0m6 2h0m47 4h0m150-3h0m11 3h0m32-1h0m14 1h0m110 2h0m42-6h0m141 2h0m0-3h0m0 8h0m-576 13h0m3-7h0m23 7h0m50-5h0m8-5h0m90 2h0m77 0h0m43 9h0m37 0h0m83-11h0m6 2h0m15 6h0m-376 14h0m51-5h0m3 4h0m48-7h0m9 2h0m3-2h0m11 4h0m0-3h0m145 2h0m50 0h0m29-4h0m22 7h0m101 0h0m22-5h0m2-2h0m-524 12h0m75 4h0m21 2h0m109-2h0m11-3h0m83 6h0m72-4h0m-369 8h0m85 8h0m6 3h0m2-6h0m19 2h0m95 2h0m31-2h0m8-1h0m24 4h0m0-10h0m6 8h0m25-8h0m81 2h0m102 0h0m-510 14h0m87 2h0m29 5h0m57-2h0m3-5h0m17-1h0m102 2h0m28 6h0m12-9h0m60 5h0m8-1h0m-368 7h0m43 2h0m76 6h0m1-5h0m11 3h0m20 4h0m14-5h0m17-6h0m85 4h0m54 5h0m18-2h0m16-6h0m30 0h0m-258 16h0m23-3h0m50-1h0m161 6h0m5 2h0m14-1h0m-299 6h0m46-1h0m14 8h0m47-6h0m72 4h0m49 2h0m3-3h0m94 4h0m44 0h0m5-1h0m8-2h0m68-4h0m7 0h0m6 0h0m-510 9h0m12 6h0m188-4h0m59 4h0m26 3h0m43-2h0m36 3h0m9-4h0m48-1h0m1 5h0m26-1h0m-223 9h0m157 5h0m57-11h0m88 7h0m-440 16h0m24-10h0m94-1h0m15 0h0m77 3h0m65 1h0m47 6h0m10 0h0m-385 12h0m37-4h0m1-1h0m139 1h0m13-6h0m13 10h0m10-5h0m17-1h0m117-1h0m58 3h0m-423 15h0m25-4h0m66-5h0m19 8h0m0-8h0m83 11h0m27-7h0m20-4h0m11 5h0m126-1h0m8 0h0m29-2h0m-326 10h0m15 8h0m1 2h0m3-5h0m89 0h0m122-4h0m30-1h0m37 7h0m48 4h0m63-5h0m-474 14h0m9-2h0m4 1h0m51 4h0m10-10h0m35 4h0m127 4h0m4-8h0m83 2h0m41 7h0m-343 3h0m321 6h0m85 0h0m28-4h0m-334 10h0m42-1h0m12 1h0m70 6h0m4 0h0m44 4h0m40-1h0m6-10h0m31 10h0m23 0h0m20-10h0m-301 20h0m5-7h0m5 4h0m1 1h0m24-6h0m38 2h0m63 3h0m75 3h0m96-3h0m3-5h0m19 10h0m2-1h0m45-9h0m-395 12h0m0 11h0m20-4h0m38-7h0m46 2h0m12 6h0m27-5h0m163 5h0m9-6h0m-319 19h0m46-2h0m31-3h0m22 0h0m7 1h0m37-4h0m1 5h0m21-1h0m113-5h0m7 1h0m82 8h0m-528 4h0m85 0h0m10 0h0m65 4h0m16 4h0m1 0h0m44-4h0m26-1h0m41-2h0m3 2h0m83 2h0m24 3h0m27-3h0m60 4h0m73-7h0m-604 14h0m181 4h0m46 2h0m39-10h0m1 7h0m21-2h0m9-6h0m4 6h0m99-5h0m76 7h0m15-3h0m67-2h0m6-3h0m11 8h0m-399 14h0m29-4h0m30 1h0m1 0h0m2 4h0m158-5h0m112 5h0m-448 9h0m95-7h0m134-1h0m94 9h0m13-6h0m71-2h0m18 7h0m41 2h0m19-6h0m2 0h0m55-3h0m-570 15h0m4 6h0m6-4h0m105 3h0m121 1h0m20-3h0m12 0h0m201 1h0m28-3h0m-479 11h0m132 1h0m22 1h0m54 4h0m281-7h0m35 4h0m-497 10h0m56 2h0m62-1h0m20-5h0m43 0h0m40 10h0m224-11h0m-407 16h0m45 4h0m86-3h0m18 5h0m343-4h0m-549 8h0m34 0h0m86 6h0m31 1h0m87-8h0m8 9h0m34 1h0m41-4h0m-316 10h0m89 5h0m70-1h0m7 0h0m8 2h0m99 0h0m10-7h0m32-3h0m103 7h0m29 0h0m30 3h0m-310 4h0m9 8h0m153-7h0m22-2h0m114 0h0m-441 15h0m41 6h0m6-6h0m11-5h0m54 8h0m56-8h0m8 11h0m11-9h0m110 3h0m66 3h0m15-5h0m-347 11h0m16 7h0m154-1h0m88 1h0m147-1h0m-396 7h0m127-2h0m28 4h0m110-2h0m139 4h0m13 2h0m12-8h0m8 3h0m11-3h0m-465 22h0m138-4h0m119-4h0m2 0h0m50 5h0m33 3h0m51-4h0m3 4h0m4-11h0m5 6h0m35 4h0m37-9h0m-455 19h0m3-3h0m5 1h0m4 2h0m62-4h0m39-2h0m35 0h0m55-2h0m64 7h0m207-6h0m-398 16h0m87-5h0m17 10h0m19-3h0m43-7h0m89 7h0m2 0h0m13-1h0m-417 9h0m1 6h0m78-8h0m47 3h0m402-4h0m-576 16h0m3-3h0m45 4h0m0 2h0m119-6h0m2 4h0m18 1h0m161-2h0m221 7h0m-400 12h0m33-2h0m29-4h0m118-4h0m0 3h0m10 6h0m26-10h0m52 1h0m72 6h0m8 1h0m51 3h0m-515 8h0m35 1h0m46 2h0m160-2h0m9 2h0m25 0h0m94-5h0m95 5h0m-448 13h0m33-5h0m4 2h0m28-3h0m63 3h0m13-7h0m14-1h0m100 6h0m0 5h0m102-3h0m83 3h0m-412 4h0m41 3h0m45-3h0m49 8h0m80-11h0m3 3h0m22-3h0m22 3h0m71-1h0m4-1h0m69 7h0m19 1h0m40 0h0m35 0h0m-567 3h0m18 4h0m51-2h0m43 7h0m77 1h0m6-5h0m21-5h0m70 0h0m49 1h0m0 2h0m9-3h0m44 11h0m97-5h0m5-6h0m10 0h0m28 11h0m16-11h0m3 1h0m20 8h0m-600 13h0m59-10h0m5 5h0m37 6h0m17-7h0m67-1h0m32 6h0m187-3h0m17-4h0m179 3h0m-601 8h0m209 6h0m24-5h0m115 7h0m147-7h0m59 9h0m17-4h0" stroke="#5a5a5a" stroke-width="9"/>
<path d="M33 6h0m12-1h0m12-3h0m49 0h0m19 8h0m57 1h0m6-11h0m34 1h0m8 7h0m49 0h0m14 0h0m10-4h0m45-4h0m28 8h0m47 2h0m9-7h0m83 2h0m60 0h0m13 2h0m-585 15h0m77-3h0m75 4h0m134-3h0m71-8h0m1 0h0m60 0h0m0 5h0m172 5h0m-524 9h0m18-6h0m40 4h0m63 1h0m1-6h0m2 7h0m199-1h0m12-2h0m-219 11h0m9 7h0m17 1h0m162-10h0m6 9h0m26-1h0m1-8h0m150 9h0m11-8h0m0-2h0m5 0h0m-498 17h0m44 0h0m28-2h0m77 1h0m135 4h0m30 0h0m2 0h0m6-2h0m7-1h0m-399 12h0m103 3h0m18-8h0m70 0h0m140 0h0m27 6h0m-262 12h0m23 0h0m133 4h0m56-7h0m22 4h0m278-3h0m-494 12h0m4 7h0m20-3h0m29-6h0m26 5h0m40-7h0m5 6h0m92-4h0m49 1h0m43-1h0m-310 20h0m149 1h0m51-4h0m60-7h0m45 5h0m-356 12h0m54-3h0m16 9h0m37-6h0m1 3h0m81-2h0m15 3h0m41-3h0m48-1h0m8 4h0m86-5h0m5-2h0m28 9h0m111-3h0m-502 10h0m60 2h0m108-2h0m50-6h0m58 7h0m42 1h0m43-3h0m144-3h0m-573 15h0m62 3h0m15-8h0m104 0h0m99 0h0m13 0h0m3 7h0m106 1h0m1 3h0m37-4h0m42-6h0m7 5h0m16-2h0m71-2h0m-455 18h0m41 2h0m15 0h0m77-3h0m26-5h0m24 1h0m72 2h0m93 3h0m-375 6h0m1 4h0m30-1h0m27-4h0m23 5h0m268 2h0m23-1h0m-367 15h0m9-7h0m15 5h0m151 1h0m8 0h0m98 1h0m12-6h0m105 4h0m66-7h0m-480 13h0m78 5h0m65 1h0m39 3h0m78-1h0m13-6h0m29 2h0m25-3h0m26-2h0m38 1h0m51-1h0m56 6h0m-497 12h0m4-6h0m23-1h0m1 3h0m76-3h0m9 2h0m8-1h0m7 4h0m14 2h0m13 3h0m3-2h0m93-5h0m41 1h0m53 5h0m30-7h0m37 0h0m27 1h0m15-3h0m11 10h0m-461 13h0m25 0h0m154-2h0m26-7h0m162-1h0m1 2h0m40 3h0m43-4h0m-454 21h0m77-9h0m11-2h0m19 2h0m106 4h0m39-1h0m77-5h0m18 11h0m43-10h0m0 5h0m5 1h0m-390 6h0m85 10h0m5-4h0m25 4h0m30-9h0m53 0h0m12 0h0m153 3h0m37-4h0m3 3h0m6-1h0m12-1h0m4 6h0m-427 9h0m20 6h0m69-3h0m33 1h0m32 2h0m19-4h0m2 2h0m13-3h0m24-6h0m6 10h0m55-5h0m155 1h0m-399 8h0m71 0h0m10 0h0m2 2h0m6 7h0m13-2h0m16 0h0m80-6h0m61 2h0m22 4h0m21-9h0m-326 21h0m48 1h0m23 0h0m7-2h0m29-7h0m18 10h0m27-8h0m61-1h0m67 2h0m7-3h0m9 0h0m88 10h0m16 0h0m61-5h0m-532 14h0m136 1h0m53 1h0m74-2h0m198-7h0m32 10h0m11-4h0m-539 11h0m40 3h0m3 0h0m6 2h0m140-11h0m5 3h0m44 4h0m7 3h0m7-3h0m15-3h0m10-1h0m40 5h0m40-1h0m15 1h0m8 1h0m92 0h0m11-8h0m114 3h0m-608 8h0m307 3h0m45 2h0m1-5h0m11 6h0m9 1h0m90-5h0m20 2h0m72-4h0m-550 20h0m49-1h0m313-6h0m11-1h0m116 8h0m34 0h0m15-3h0m-407 15h0m110-4h0m5 1h0m15-4h0m33 4h0m2-3h0m76 9h0m169-7h0m-508 13h0m43-1h0m29-3h0m23 3h0m256 3h0m124 0h0m-501 5h0m33 8h0m0-1h0m95 2h0m6 2h0m113-4h0m36 0h0m8 0h0m35-7h0m5 0h0m171 2h0m99 2h0m-598 14h0m25-1h0m4 2h0m16 1h0m11-1h0m35 1h0m151 0h0m92-5h0m6-3h0m25 2h0m142-2h0m7 3h0m-529 10h0m2 4h0m21 5h0m18-7h0m21 3h0m35 1h0m77-3h0m47 5h0m13 1h0m0-8h0m7 3h0m19 5h0m3-1h0m36-7h0m27 7h0m2-2h0m7-3h0m11 3h0m204 3h0m10-8h0m45 6h0m-591 5h0m4 8h0m68-1h0m9-3h0m25 4h0m64-9h0m103 9h0m8-1h0m6-6h0m4 7h0m32-8h0m15 6h0m139-5h0m19 4h0m8 0h0m6-2h0m-406 11h0m165 7h0m67 1h0m23-8h0m10 6h0m8 1h0m5-2h0m16-2h0m54 3h0m31 2h0m11-5h0m63 2h0m-571 5h0m1 4h0m8 4h0m19-3h0m63 4h0m0-3h0m21-2h0m22 3h0m0-4h0m60 6h0m23-9h0m129 4h0m21 5h0m17-9h0m93 10h0m52-1h0m29-1h0m38-6h0m8 6h0m-600 4h0m212 4h0m4 5h0m17-7h0m6 8h0m4-3h0m77-3h0m54 5h0m7 1h0m4-10h0m8 2h0m1 8h0m0-7h0m57 2h0m26-6h0m33 9h0m1-9h0m63 6h0m10 2h0m-561 11h0m96 4h0m5 0h0m1-3h0m71 0h0m13 3h0m3-10h0m46 3h0m34 4h0m12-4h0m21 2h0m8-1h0m4-1h0m2 3h0m43-2h0m6 0h0m4-1h0m3 0h0m65-1h0m11 1h0m17 5h0m41-7h0m43 1h0m2 4h0m-561 16h0m16-2h0m51-7h0m31 8h0m13-4h0m61 5h0m51-10h0m4 1h0m17 7h0m14 0h0m16-8h0m11-1h0m3 0h0m13 0h0m63 5h0m29-5h0m25 1h0m46-1h0m28 5h0m7 5h0m56-10h0m-556 23h0m130-8h0m34 5h0m0-6h0m41 8h0m13-6h0m4 3h0m8-3h0m50-2h0m56 9h0m34-4h0m9 1h0m107-3h0m20-2h0m86 5h0m-595 13h0m13-7h0m68 5h0m19-1h0m141 5h0m5 0h0m51-3h0m10 1h0m11-6h0m47 7h0m77-2h0m82-7h0m15 8h0m37-6h0m-547 16h0m29-2h0m3 3h0m49 1h0m6-8h0m20 8h0m70-1h0m74-1h0m138 0h0m26-6h0m62 4h0m4 1h0m10 1h0m0 1h0m1 1h0m39-4h0m-566 15h0m78 1h0m3 2h0m41-9h0m59-1h0m9 8h0m2 0h0m50-2h0m2-6h0m55 9h0m50 0h0m25-2h0m20-2h0m5 1h0m56 0h0m76 1h0m42-2h0m5 0h0m-523 17h0m59-4h0m3-1h0m32 2h0m1-2h0m17-3h0m32 6h0m18-7h0m1 3h0m138-2h0m3 2h0m12-3h0m1 6h0m15-6h0m12-1h0m189 2h0m10 2h0m2-2h0m-608 15h0m18-2h0m55 7h0m5-9h0m7 1h0m18 1h0m57-3h0m46 8h0m39 2h0m81-9h0m14 8h0m55-1h0m3-1h0m9-2h0m34-3h0m1 8h0m24-3h0m5-3h0m61-4h0m76-1h0m-518 14h0m12 9h0m6-6h0m30-1h0m15 4h0m6 1h0m11 2h0m161-10h0m68 4h0m5 3h0m23-5h0m-346 12h0m29 2h0m19 1h0m27 1h0m11-7h0m58 1h0m9 10h0m8-2h0m4-7h0m114 9h0m5-7h0m34 5h0m26-3h0m178-6h0m-549 18h0m53 1h0m18-6h0m62-1h0m33 9h0m13-4h0m97-1h0m5 5h0m41-1h0m0-2h0m34-5h0m-395 16h0m29-5h0m8 1h0m46 0h0m10 7h0m13-3h0m11 5h0m119-4h0m78-2h0m48 5h0m32-1h0m29 0h0m18 1h0m136-6h0m22 0h0" stroke="#646464" stroke-width="6"/>
<path d="M79 5h0m10 1h0m2 0h0m1-4h0m6 1h0m12-2h0m48 9h0m8-1h0m26 1h0m68-5h0m7-1h0m57 6h0m16-7h0m52 7h0m20-1h0m14-9h0m0 0h0m0 10h0m70-6h0m15 6h0m27-4h0m14 0h0m28-1h0m2-3h0m20 4h0m-548 9h0m12-1h0m0 1h0m3-1h0m28-2h0m4 11h0m21-10h0m28 3h0m39-2h0m2 6h0m43-6h0m19 6h0m10-2h0m38-3h0m16 3h0m76 2h0m127-6h0m81 4h0m-527 11h0m25-4h0m25 2h0m58 8h0m22-8h0m146 4h0m38 4h0m10-3h0m187-4h0m20 5h0m2-9h0m-562 13h0m149 10h0m4-6h0m3-3h0m87-2h0m112 1h0m5 1h0m-317 19h0m33-3h0m76 5h0m38-7h0m80-1h0m14 7h0m55 1h0m8-10h0m11 10h0m13-7h0m-305 14h0m1-4h0m12-2h0m61 9h0m3 2h0m10-10h0m15 10h0m16 0h0m7-6h0m4 2h0m88-3h0m70-2h0m14-2h0m-349 23h0m130-9h0m162 1h0m15 8h0m21 0h0m-242 12h0m38-11h0m60 6h0m83-4h0m11 0h0m3 8h0m18-7h0m25 2h0m7-4h0m38 2h0m179 1h0m-490 18h0m10-6h0m48 5h0m79 2h0m47-8h0m23-2h0m15 10h0m6-9h0m56 9h0m24-11h0m-380 17h0m171 3h0m13-1h0m11-6h0m17 4h0m5 1h0m49-5h0m13 4h0m115-2h0m74 7h0m79-2h0m-549 5h0m16 0h0m12 10h0m30-7h0m20 7h0m18-1h0m2-7h0m6 0h0m119 7h0m11-1h0m3-8h0m42 0h0m147 5h0m26-4h0m50 3h0m-412 16h0m1-4h0m143-3h0m1 9h0m28-2h0m63-3h0m57 4h0m10 0h0m63-2h0m3-4h0m10-4h0m21 7h0m29-5h0m18 5h0m5-1h0m12-3h0m-423 14h0m6 3h0m15 3h0m108-3h0m73-8h0m57 5h0m31 3h0m19-7h0m20 7h0m25-2h0m66-5h0m-595 11h0m110 0h0m195 5h0m2 4h0m47-4h0m117 3h0m15-1h0m124-1h0m-598 12h0m113-5h0m2 7h0m76-8h0m82 2h0m38 7h0m30-4h0m2 4h0m54 1h0m20-8h0m5 2h0m25 2h0m32 2h0m5-8h0m24 6h0m87-2h0m-483 13h0m7 3h0m67-7h0m25 10h0m42 0h0m9-4h0m25-7h0m8 7h0m125-2h0m40-1h0m68 3h0m51-2h0m-493 9h0m45 6h0m11 3h0m23-9h0m71-1h0m7-1h0m35 3h0m11 1h0m1 2h0m6-4h0m69 0h0m4 7h0m40-1h0m13-7h0m20 10h0m3-2h0m77-3h0m37 1h0m-467 10h0m75 5h0m9 0h0m2-3h0m0 0h0m14-3h0m15-1h0m6 5h0m32-4h0m40 2h0m9-5h0m3 8h0m125-7h0m24 0h0m29-2h0m-388 13h0m37 3h0m1 6h0m44-9h0m3 7h0m22 1h0m7-7h0m41 4h0m50-4h0m2 3h0m11-4h0m107 3h0m26 0h0m-341 12h0m14 3h0m93-5h0m3 1h0m25 7h0m10-6h0m72 3h0m54-3h0m17 7h0m33-5h0m22 0h0m26-5h0m3 1h0m68 8h0m-550 2h0m123 2h0m77 3h0m1-4h0m79 2h0m5 1h0m9-4h0m16 11h0m17-9h0m40 9h0m12-3h0m2-8h0m10 10h0m18 0h0m2-10h0m2 6h0m30-3h0m76 8h0m4-8h0m-518 19h0m132-5h0m165 6h0m1-5h0m0-1h0m49 6h0m6-7h0m5 4h0m10-5h0m43 4h0m19 0h0m20-4h0m1 6h0m117 2h0m-373 1h0m21 1h0m32 1h0m3 4h0m42-3h0m53 1h0m28-3h0m160 9h0m33-9h0m-422 13h0m29 9h0m2 0h0m2-11h0m2 1h0m9 8h0m91-4h0m24-2h0m11-2h0m9 10h0m34-6h0m29 0h0m8-5h0m90 4h0m0-2h0m70 5h0m-552 8h0m38 7h0m104-2h0m120-3h0m42-3h0m47 4h0m129-4h0m8 8h0m17 1h0m-343 10h0m45 1h0m37 1h0m25 0h0m40-6h0m6-1h0m155 6h0m66-1h0m-543 9h0m47 5h0m186-11h0m10 8h0m230-4h0m16-1h0m9 1h0m33 0h0m5-3h0m10 4h0m-405 16h0m17 1h0m19-8h0m18 6h0m74-2h0m7-4h0m16 0h0m31 2h0m12-3h0m25-1h0m137 11h0m0-9h0m20 3h0m3 2h0m12-2h0m12-4h0m-547 14h0m3 4h0m23 4h0m32-5h0m2 3h0m15-3h0m2 0h0m66-5h0m114 3h0m14 3h0m53 4h0m2-9h0m16 6h0m40-2h0m150-3h0m-508 15h0m29-3h0m52 5h0m88-6h0m6 2h0m39 2h0m1 3h0m62-5h0m41 5h0m39 1h0m15-10h0m120 11h0m55-11h0m-566 19h0m42-2h0m2-5h0m44 9h0m71-1h0m18 0h0m42 3h0m150-7h0m0 7h0m209-10h0m-577 11h0m21 6h0m23 2h0m11 3h0m4-5h0m58 3h0m139-2h0m22-5h0m22 9h0m0-11h0m6 0h0m38 11h0m249-11h0m6 6h0m-593 11h0m4-3h0m39 0h0m19 4h0m8-6h0m104 9h0m57 0h0m21-2h0m113 0h0m20-5h0m119 7h0m19-6h0m74-1h0m-604 16h0m2-1h0m6 6h0m94-11h0m100 9h0m67-9h0m17 0h0m4 5h0m51 3h0m7-3h0m10 6h0m45-1h0m109-9h0m64 5h0m8-4h0m-581 21h0m14-6h0m77 4h0m19-5h0m143-1h0m3 6h0m25-8h0m49 5h0m0 3h0m13 2h0m10-4h0m118-5h0m27 0h0m-490 17h0m12 0h0m27 0h0m2 0h0m40 3h0m8-5h0m135 2h0m6 3h0m60 1h0m6 0h0m3-5h0m4-5h0m15 9h0m17-1h0m51 1h0m105 0h0m1-3h0m-506 12h0m26 1h0m12 2h0m54-8h0m131 0h0m5 4h0m7 5h0m2-9h0m5 8h0m41-5h0m8 1h0m21-6h0m25 10h0m32-4h0m27-3h0m11-2h0m21-1h0m40 10h0m2-1h0m18-3h0m9-3h0m104 0h0m2-2h0m-544 16h0m20-3h0m142 7h0m17-1h0m43-4h0m130 7h0m3-1h0m1-5h0m16 2h0m17-6h0m13 2h0m35 2h0m9-3h0m5 3h0m29 2h0m27-1h0m16 4h0m-582 3h0m67 5h0m5-2h0m4-2h0m5-1h0m1 7h0m56-4h0m35 4h0m0-2h0m41-6h0m26 1h0m132 9h0m95 1h0m65-8h0m9 4h0m40 4h0m3-3h0m1-7h0m-448 12h0m10 5h0m13-3h0m49 0h0m29 4h0m51 0h0m50 4h0m6-4h0m34-2h0m9-4h0m13-1h0m17 5h0m17 5h0m25 1h0m112-10h0m4 10h0m5-9h0m2 2h0m5 3h0m-511 14h0m62 0h0m14-9h0m5 8h0m138 1h0m36-8h0m17 2h0m20 4h0m10-2h0m4 0h0m82 3h0m104-2h0m-457 13h0m27-3h0m13 6h0m35-6h0m7 7h0m28-4h0m23 2h0m46-2h0m80-4h0m3-1h0m13 9h0m8-5h0m12-5h0m111 7h0m29-7h0m15 2h0m27 2h0m-522 8h0m4 6h0m98 1h0m29-3h0m16-4h0m25 2h0m69 2h0m2 5h0m12-7h0m89 1h0m31 0h0m15 7h0m6-7h0m125 2h0m-578 16h0m3-9h0m227 4h0m8 3h0m4-6h0m74 6h0m29-8h0m59 3h0m108 8h0m5-11h0m23 6h0m31-1h0m29-3h0m-534 13h0m13-1h0m16 7h0m11 1h0m10-3h0m94-5h0m19-1h0m126 5h0m9-6h0m57 1h0m133-1h0m20 3h0m-535 14h0m73 4h0m64-6h0m54-3h0m85 9h0m2-9h0m40 10h0m9-7h0m5 8h0m13-1h0m184-8h0m-555 21h0m61 0h0m25-9h0m111 0h0m7 4h0m18 3h0m179-3h0m-351 7h0m24 9h0m54-4h0m0-1h0m170-4h0m96 7h0m19 2h0m10-2h0m19-4h0m73 2h0" stroke="#646464" stroke-width="7"/>
<path d="M4 3h0m28 0h0m9 2h0m3-2h0m1-1h0m78 1h0m7 5h0m11-2h0m20-4h0m22-2h0m15 6h0m16-4h0m22-1h0m0 4h0m36 2h0m46-1h0m20-3h0m30-1h0m93 1h0m49 0h0m6 8h0m71-9h0m-546 14h0m19-1h0m15-1h0m135-2h0m23 3h0m36-1h0m27-1h0m18 6h0m47-6h0m15 8h0m5-4h0m0 5h0m37-1h0m99-4h0m0 0h0m53-4h0m16 10h0m-581 6h0m83-5h0m0 3h0m5 7h0m4-3h0m21 4h0m119 0h0m187-8h0m132 8h0m13-9h0m-426 18h0m15 2h0m58 0h0m72-8h0m40 1h0m-245 12h0m20 8h0m27-10h0m58 4h0m12-3h0m9 5h0m47-4h0m132 4h0m30-7h0m6 3h0m-245 14h0m26-2h0m35 8h0m11-3h0m9 3h0m18-6h0m15-4h0m16 8h0m60-7h0m27 6h0m1-2h0m-396 10h0m220-3h0m12 4h0m71-5h0m39 2h0m17-1h0m39 5h0m19 4h0m8-1h0m8-3h0m-329 9h0m14 2h0m83 0h0m7 1h0m4-2h0m20 4h0m6 0h0m10 0h0m131-1h0m10 3h0m13-4h0m19 0h0m14 0h0m-215 7h0m20 9h0m3-8h0m17 8h0m174-1h0m-434 14h0m178-11h0m3 4h0m57 7h0m20-7h0m172-1h0m20 2h0m7 5h0m-420 6h0m29 5h0m67-6h0m3 0h0m8 6h0m1-6h0m157-2h0m41 0h0m16-1h0m62 6h0m3 5h0m34-6h0m88 0h0m9 6h0m34 0h0m-456 9h0m54-2h0m140 4h0m31-1h0m30-4h0m24 3h0m55-8h0m32 1h0m10 6h0m7 3h0m12 1h0m3-2h0m19-5h0m-533 16h0m24-6h0m23 9h0m78-7h0m46-3h0m140-1h0m23 8h0m2-4h0m20-3h0m8 10h0m8-7h0m128 7h0m14-4h0m73 3h0m3-5h0m-572 11h0m91-1h0m2-3h0m44 10h0m7-6h0m135 2h0m14-1h0m14-5h0m56 1h0m22 3h0m12 7h0m2 0h0m55-5h0m14 5h0m21-1h0m-430 12h0m5-9h0m11 0h0m82 2h0m122 6h0m127 2h0m4-2h0m-356 10h0m27-3h0m16 6h0m3-4h0m74 4h0m111-6h0m2-3h0m5 5h0m6 4h0m2-6h0m17-2h0m80-2h0m8 5h0m27-5h0m17 6h0m14 0h0m55-1h0m18 6h0m-427 7h0m16-2h0m24 1h0m5 3h0m41-4h0m6 0h0m4 7h0m1-5h0m8 1h0m26 3h0m35-3h0m20 3h0m30-9h0m14 6h0m29-3h0m3 5h0m-230 12h0m52-9h0m9 2h0m30 9h0m0-2h0m17 2h0m11-7h0m62-4h0m36 8h0m56-2h0m7-4h0m22 6h0m27 2h0m29-2h0m-407 8h0m78 1h0m20-2h0m120-2h0m10 6h0m19-7h0m42 5h0m1-1h0m77-2h0m52 2h0m-436 16h0m44-8h0m57 7h0m14 3h0m9-2h0m8-7h0m24 2h0m12 4h0m2 2h0m28-2h0m22-1h0m36 1h0m46-6h0m25 10h0m10-6h0m14-5h0m-354 12h0m68 9h0m20-9h0m27 8h0m52-7h0m6 10h0m51-11h0m32 0h0m21 7h0m7 3h0m14 0h0m37 1h0m10-2h0m11-5h0m91 6h0m14-2h0m-442 14h0m32-10h0m3 1h0m49 9h0m13-2h0m15-5h0m30 7h0m16 1h0m66-6h0m4-1h0m49-1h0m29 7h0m9-4h0m93 1h0m-426 11h0m11 0h0m80 0h0m21 2h0m31 3h0m3-10h0m24-1h0m13 5h0m32 0h0m55-2h0m69-3h0m0 4h0m23 6h0m9-4h0m65 3h0m9-3h0m-368 11h0m17 6h0m52-5h0m203 3h0m35 1h0m17 1h0m2-10h0m32 3h0m15 4h0m5-2h0m-399 17h0m18-9h0m49 1h0m118-3h0m37 5h0m78 3h0m32 2h0m63-10h0m-524 18h0m4 4h0m9-8h0m128 7h0m13-3h0m47 0h0m36 4h0m266-3h0m28-1h0m-410 16h0m21-7h0m8-2h0m31 3h0m29-4h0m3 2h0m24 9h0m25-2h0m22 1h0m190-2h0m5-5h0m47-3h0m6 5h0m-284 15h0m35-4h0m15 6h0m22-1h0m0 0h0m8-3h0m3 5h0m8-10h0m138 6h0m11-4h0m6 0h0m3 3h0m25-6h0m-536 20h0m4-2h0m10 4h0m10-9h0m4 9h0m15-2h0m10-1h0m16-3h0m11 4h0m148 1h0m76-8h0m9 0h0m217 0h0m8 1h0m0-1h0m10 7h0m2-8h0m-566 14h0m16 8h0m20-7h0m2 4h0m67 1h0m38-8h0m113 9h0m14-2h0m13 2h0m7-5h0m55 0h0m32 3h0m169-5h0m-550 12h0m11 7h0m11-2h0m8-4h0m6 3h0m3 3h0m4-1h0m9-6h0m5 0h0m79 1h0m1-3h0m73 6h0m56 2h0m7-3h0m89 3h0m24-3h0m200 1h0m17 1h0m-568 13h0m26-2h0m13-1h0m3 6h0m31-9h0m11 5h0m24-4h0m39-3h0m26 6h0m106-1h0m21-4h0m1 8h0m5-2h0m32-7h0m5 7h0m8-6h0m9 2h0m4 8h0m140-1h0m42-5h0m23-2h0m6-1h0m-579 17h0m17-6h0m6 7h0m3-4h0m44-4h0m109 9h0m16 0h0m20-3h0m10 0h0m9 3h0m52-8h0m48 0h0m97 4h0m31-5h0m7 10h0m3-6h0m20 0h0m5 0h0m5 1h0m23 1h0m32-1h0m-584 18h0m10-11h0m25 0h0m22 2h0m27-2h0m8 1h0m3 3h0m15 6h0m4-10h0m79 3h0m15-3h0m36 3h0m46 8h0m2-9h0m3 0h0m52 9h0m40-2h0m28-8h0m59 8h0m1-5h0m25 7h0m36-1h0m-476 10h0m48-3h0m17 2h0m144-4h0m57 7h0m6 0h0m3-5h0m17 5h0m22-4h0m26-4h0m71 5h0m48 1h0m4-6h0m0 0h0m62 0h0m13 7h0m-389 14h0m14-7h0m62-4h0m10 7h0m47 3h0m7-2h0m15-4h0m2 4h0m38-7h0m14-1h0m39 7h0m12-1h0m7-1h0m0-5h0m61 2h0m22 1h0m7 3h0m17-4h0m-582 14h0m15-1h0m1 3h0m9-1h0m19 0h0m11 0h0m67 4h0m70 2h0m24-7h0m44-1h0m30 3h0m60-2h0m77-3h0m35 5h0m16 4h0m30-5h0m1 4h0m16-7h0m38 6h0m-562 15h0m6-2h0m120 1h0m56 1h0m29 0h0m9-4h0m15 2h0m46-1h0m38-7h0m1 0h0m3 10h0m3-7h0m11-1h0m8 0h0m0-2h0m11 8h0m7 0h0m5-6h0m51 2h0m37 6h0m18-10h0m64 4h0m23-5h0m4 9h0m5-3h0m35 1h0m-586 14h0m6-6h0m5 8h0m1-1h0m47-3h0m2 1h0m62 2h0m59 0h0m171-5h0m19-4h0m186 5h0m9-4h0m-542 11h0m82 8h0m14-2h0m45-7h0m39 0h0m5 1h0m5 6h0m18-3h0m29-2h0m12 3h0m18 5h0m21-3h0m61-2h0m133 3h0m33 3h0m-499 5h0m11 4h0m56-5h0m20-2h0m61 6h0m33 1h0m10-6h0m72 3h0m30-2h0m5-1h0m13-2h0m5 6h0m18 2h0m6 0h0m125 1h0m48-9h0m-568 19h0m83-2h0m53 3h0m28 0h0m19-6h0m28 4h0m30-4h0m49 8h0m10-1h0m57-8h0m5 1h0m60-2h0m0 2h0m6 5h0m114-3h0m1 5h0m48 2h0m-513 3h0m1-1h0m41 6h0m30-4h0m4 5h0m19-4h0m21-4h0m31 9h0m14-6h0m86 1h0m4 6h0m7 1h0m13-10h0m22 3h0m65 3h0m152-6h0m-595 13h0m113 6h0m5 0h0m16 2h0m4-3h0m32-7h0m1 7h0m7-6h0m11 0h0m2 7h0m50-5h0m117 8h0m40-4h0m5-3h0m46 5h0m3-8h0m9 3h0m51 2h0m14-4h0m7-1h0m42-1h0m11 2h0m-563 10h0m29 7h0m50-5h0m45 5h0m43-2h0m16 3h0m2-3h0m7-1h0m125-4h0m3 5h0m36 1h0m55-5h0m88 5h0m19 0h0m39 4h0m25-5h0m-546 14h0m19-1h0m107 3h0m41 0h0m193-1h0m3 0h0m11-7h0m136-1h0m35 1h0m-542 15h0m8 5h0m3-8h0m24 0h0m26 7h0m7-5h0m78 0h0m175 4h0m14 1h0m208 3h0m-562 10h0m12-9h0m18 4h0m26 2h0m63-4h0m18 2h0m55 1h0m80-1h0m3-2h0m32 6h0m8 0h0m2-1h0m2-5h0m9 3h0m18 4h0m18 1h0" stroke="#646464" stroke-width="9"/>
<path d="M28 10h0m7-5h0m34-5h0m1 6h0m6-6h0m103 5h0m1 4h0m82-3h0m0-3h0m5 8h0m30-6h0m44-1h0m15 5h0m16-7h0m12 3h0m20 5h0m8-7h0m16 1h0m87 2h0m12-1h0m18 5h0m3-10h0m0 6h0m50 0h0m3 5h0m9-8h0m-609 14h0m69 0h0m44-1h0m124 0h0m42 2h0m81-6h0m60 10h0m138-9h0m17 5h0m18-3h0m5 6h0m-510 3h0m5 0h0m10 4h0m37-3h0m29 1h0m33 6h0m186-1h0m6-5h0m25 3h0m125 0h0m12 1h0m-439 9h0m2 7h0m31-2h0m19-3h0m24 5h0m32 0h0m120-4h0m77-3h0m137 3h0m-330 9h0m92 8h0m4-6h0m54 1h0m137 3h0m8-2h0m-394 10h0m60 4h0m3-3h0m25 4h0m4-4h0m57-4h0m34 8h0m81-4h0m4-6h0m125 1h0m-521 15h0m231 3h0m10-3h0m3-3h0m1-1h0m73 1h0m32 2h0m16 8h0m-360 9h0m135 0h0m66-4h0m26 0h0m123 2h0m-352 8h0m18 4h0m93-2h0m2 5h0m19-8h0m110 10h0m81-11h0m6 10h0m7-2h0m25-4h0m2 2h0m-364 12h0m16-3h0m11 6h0m152-9h0m34 7h0m130 3h0m5-3h0m12-4h0m109 8h0m127-1h0m-599 11h0m4-2h0m8 3h0m17 1h0m5-1h0m40-4h0m15-5h0m11 0h0m23 1h0m95 5h0m5-2h0m36 1h0m14 5h0m72-2h0m66-5h0m3 3h0m37-4h0m82 6h0m-508 3h0m49 3h0m23 0h0m5 2h0m132-4h0m14 1h0m7 1h0m58-2h0m134 6h0m58-1h0m6-1h0m10 1h0m11 0h0m5-5h0m16 6h0m15 4h0m25-7h0m12-2h0m-584 14h0m11-4h0m47 10h0m2 0h0m12-7h0m5 0h0m29 7h0m75-2h0m10-8h0m23 8h0m13-5h0m62 1h0m94 7h0m1-9h0m3 7h0m13-1h0m24-7h0m6 1h0m94 4h0m16-2h0m13 6h0m11 1h0m0-6h0m2 5h0m19-10h0m-602 17h0m18 0h0m35 5h0m4-2h0m2-1h0m1-4h0m36 7h0m74-7h0m36 4h0m168 1h0m49 1h0m92-3h0m1 2h0m49 2h0m-524 5h0m8-1h0m47 5h0m17-4h0m17-3h0m12 3h0m2-1h0m2-2h0m30 0h0m36 11h0m28-3h0m2-6h0m13 5h0m160 1h0m4-8h0m1 8h0m4 3h0m4 0h0m18-4h0m3-7h0m-403 16h0m28-2h0m7 5h0m2 0h0m20 0h0m17-6h0m24 4h0m87 1h0m0-3h0m18 8h0m27-7h0m128 0h0m14 2h0m28-4h0m81 8h0m10-4h0m14-2h0m18-2h0m-569 21h0m0-6h0m35-1h0m92-2h0m110-2h0m4 3h0m71-2h0m7 5h0m9 4h0m3-6h0m16-1h0m56-1h0m74 9h0m5-3h0m27 2h0m1-10h0m48 2h0m48 2h0m-605 10h0m71 0h0m3 8h0m3-8h0m137-2h0m11 3h0m11 5h0m2-8h0m6 3h0m16 0h0m47 1h0m9 2h0m19-2h0m86 3h0m57-1h0m3-1h0m39 4h0m-432 9h0m83 5h0m20-10h0m32 3h0m16 3h0m12-1h0m45-6h0m55 2h0m15 2h0m66-4h0m18 7h0m21-2h0m39 3h0m22-7h0m-529 11h0m185 10h0m52-9h0m54 10h0m65-4h0m17 4h0m3 0h0m49-1h0m105-9h0m25 7h0m-524 14h0m51-10h0m117 11h0m6-8h0m23 1h0m52-1h0m22 2h0m24 4h0m29-9h0m28 8h0m12 2h0m43-7h0m5 8h0m2-6h0m70-3h0m9 7h0m21 0h0m-526 4h0m18 10h0m8-5h0m113 1h0m73-7h0m5 11h0m19-4h0m6 2h0m9-8h0m0 5h0m4-5h0m3 0h0m1 6h0m0 3h0m37-10h0m21 9h0m44-7h0m46-2h0m78 1h0m57 7h0m11 3h0m-549 4h0m3-1h0m101 7h0m111-2h0m17 3h0m8-10h0m33 1h0m0 2h0m31-3h0m33 4h0m28-3h0m5 10h0m2-8h0m96 6h0m-484 6h0m7 6h0m18-4h0m78-5h0m52 0h0m48 4h0m8 0h0m53 7h0m15-5h0m46 1h0m6 4h0m3-4h0m20 3h0m31-7h0m76 4h0m12 2h0m36 0h0m41-6h0m-561 20h0m68-8h0m65 8h0m48-7h0m75 6h0m9 0h0m26-1h0m23-2h0m40-7h0m15 7h0m7 2h0m95 2h0m45-11h0m22 2h0m-504 12h0m10-2h0m198 0h0m52 7h0m184-6h0m41 2h0m-500 15h0m25-4h0m11 4h0m221-2h0m17 2h0m252 0h0m0-3h0m-532 11h0m53 9h0m58-3h0m146-2h0m52 4h0m55-6h0m147 3h0m10-3h0m-516 18h0m4-5h0m1 2h0m5-6h0m17 6h0m13 3h0m3-9h0m58 9h0m117-5h0m29-4h0m30 4h0m5-5h0m35 1h0m26 1h0m167 2h0m19 1h0m1 3h0m-544 15h0m13-8h0m17-3h0m1 10h0m31-8h0m205-1h0m6 3h0m243 2h0m27-6h0m1 7h0m8 3h0m18-3h0m3 1h0m24-2h0m-589 8h0m41-2h0m235 1h0m2 1h0m3 4h0m51-6h0m16 3h0m176 5h0m29 2h0m-533 13h0m10-1h0m69-8h0m9-2h0m20 10h0m144-7h0m18 6h0m26-1h0m12 2h0m12-3h0m25-2h0m178 5h0m43-7h0m-604 19h0m33-1h0m8-1h0m14-3h0m5 2h0m2-2h0m25-3h0m25 0h0m9 4h0m23-2h0m89 5h0m284-3h0m4 2h0m40-5h0m9 7h0m-530 12h0m57-3h0m17 2h0m126-6h0m80 6h0m55 0h0m86 1h0m56-7h0m-515 10h0m2 7h0m16-8h0m18 6h0m1 4h0m34-3h0m15-6h0m33 7h0m212-7h0m19 6h0m8 3h0m16-7h0m86 2h0m20-2h0m43 0h0m60-3h0m-566 22h0m17-5h0m24 2h0m10-3h0m36 3h0m15-5h0m150 6h0m43-1h0m76 1h0m17-4h0m10-1h0m3 5h0m54 3h0m64-8h0m62-1h0m5 5h0m-594 9h0m5-1h0m8 8h0m56-10h0m18 0h0m20 7h0m91-7h0m13 5h0m31 5h0m24 0h0m10-11h0m10 3h0m8 1h0m14 5h0m23-5h0m42 0h0m70 1h0m5-5h0m24 4h0m7 4h0m5 1h0m28-5h0m47 3h0m14 4h0m5-4h0m-588 16h0m31-11h0m28 2h0m6 3h0m1-4h0m11 0h0m39 0h0m9 6h0m19 1h0m85 3h0m33-10h0m18 1h0m54 3h0m84 2h0m3 1h0m132-4h0m18 0h0m-561 16h0m6-3h0m4-2h0m4-2h0m11 7h0m89-4h0m30 0h0m68 1h0m80-3h0m11 7h0m126-9h0m110 0h0m8 6h0m1 2h0m8-8h0m-530 15h0m2 2h0m2-2h0m53 8h0m28-6h0m39 0h0m55-5h0m80 6h0m13 0h0m8 2h0m19-1h0m40-6h0m62 10h0m24-10h0m64 7h0m12 2h0m30-6h0m22-1h0m-583 15h0m3-4h0m68 5h0m19 2h0m206-3h0m5-4h0m4-1h0m25 7h0m51 3h0m65-2h0m73-2h0m45 1h0m0-6h0m10 3h0m8-3h0m6 6h0m-452 12h0m5-5h0m5 4h0m4-1h0m15 0h0m3 4h0m41-7h0m5 0h0m32 8h0m54 0h0m108-9h0m49 7h0m67-6h0m38-2h0m-561 17h0m66 1h0m28 2h0m4-3h0m96-3h0m5 1h0m122 5h0m0-1h0m18-2h0m43-1h0m18 6h0m17-5h0m95 3h0m15 1h0m77-5h0m-546 12h0m101 2h0m210-5h0m6 8h0m32-10h0m6 5h0m3 4h0m159-6h0m-478 13h0m16-2h0m14 1h0m6 3h0m60-2h0m142-2h0m29 8h0m34-8h0m7-1h0m9 8h0m10 2h0m151-3h0m8-2h0m-524 8h0m4 9h0m107-4h0m53-3h0m2 5h0m90-2h0m8 2h0m34-1h0m66-4h0m-358 13h0m49-3h0m241-2h0m48 11h0m-352 9h0m49 2h0m35-6h0m26 1h0m71 1h0m22-1h0m115 5h0m156 0h0m69-1h0" stroke="#6e6e6e" stroke-width="6"/>
<path d="M18 1h0m13 5h0m10 5h0m10-8h0m15 0h0m25 6h0m68-7h0m84 1h0m20 1h0m45 2h0m5-2h0m12 3h0m5-4h0m2 0h0m61-2h0m0 3h0m7 5h0m32 2h0m99-9h0m25-1h0m4-1h0m22 6h0m28-4h0m-559 13h0m19 4h0m10-6h0m2 4h0m39 0h0m26-5h0m0 0h0m155 8h0m44-8h0m33 9h0m36 1h0m103-5h0m11-4h0m13 9h0m35-1h0m0 2h0m13-5h0m-493 9h0m14-1h0m11 7h0m6-2h0m19 0h0m222-7h0m3 10h0m48-7h0m110 6h0m-422 4h0m3 7h0m38-8h0m4 1h0m6 2h0m9 3h0m24 1h0m0 1h0m13-8h0m221 4h0m119 0h0m2-2h0m3 2h0m-369 17h0m33 2h0m55-1h0m38-5h0m19 3h0m44 3h0m9-9h0m149 3h0m-427 9h0m112-2h0m42 10h0m49-9h0m32 6h0m0-7h0m15 11h0m160-5h0m-313 16h0m49-7h0m118 3h0m-265 6h0m16 11h0m126-7h0m86-4h0m14 0h0m29 7h0m8-2h0m43 2h0m-400 10h0m85 2h0m0-6h0m10-1h0m5 6h0m20-1h0m24-3h0m88 8h0m103-3h0m8-1h0m15 0h0m59 3h0m-432 9h0m25 5h0m84-7h0m50-1h0m84 6h0m4-3h0m82 2h0m4-4h0m81 2h0m24 5h0m-405 3h0m20 4h0m179 1h0m50 2h0m58-3h0m3-6h0m18 3h0m39-3h0m5 1h0m15 8h0m14 0h0m1-2h0m0-1h0m74-6h0m77 6h0m5-3h0m-582 15h0m28 3h0m21-8h0m24 10h0m30-7h0m123 6h0m7-5h0m21 0h0m21 1h0m10-1h0m4 2h0m108 1h0m13-4h0m24-3h0m27 3h0m32-3h0m68 5h0m0 1h0m-501 5h0m22 7h0m7 0h0m65-1h0m24 2h0m13-7h0m69 2h0m29-2h0m47 2h0m72 2h0m2-2h0m26 0h0m30-2h0m13 6h0m17 3h0m73-6h0m-545 18h0m0 0h0m42-2h0m11 3h0m35-5h0m0-2h0m76-4h0m5 8h0m4-4h0m3 1h0m15 1h0m5-6h0m1 0h0m10 7h0m7 3h0m29-8h0m17 9h0m20-11h0m2 8h0m95 3h0m14-1h0m1-10h0m4 3h0m99-3h0m4 2h0m3 2h0m9-1h0m21 7h0m-534 12h0m57-8h0m60-2h0m4 4h0m27-4h0m35 9h0m17-5h0m1-1h0m9 0h0m33 0h0m9 0h0m3-1h0m74-2h0m63 4h0m1 0h0m66 7h0m31-4h0m22-6h0m20 7h0m37 3h0m-527 4h0m7 8h0m129-7h0m6 7h0m5 0h0m16-6h0m55-2h0m52 7h0m20 1h0m41-4h0m4 4h0m6-11h0m10 7h0m57-1h0m49 2h0m27-5h0m20 2h0m-553 10h0m11 3h0m1 3h0m5 0h0m52 0h0m84-8h0m58 8h0m47-6h0m42 1h0m20-2h0m83 1h0m69-2h0m3 4h0m1 6h0m79-6h0m-548 11h0m39 4h0m122 3h0m50-5h0m113-3h0m64 1h0m2-4h0m47 8h0m23-3h0m47 0h0m-476 18h0m20-8h0m83-3h0m58 3h0m23 6h0m17-2h0m34-2h0m53 3h0m59-6h0m109-1h0m5 4h0m18-3h0m10 0h0m-524 19h0m2-1h0m16-5h0m135 7h0m99-9h0m12-1h0m6 1h0m-280 19h0m77-7h0m16 7h0m34-5h0m1 6h0m12-2h0m3 2h0m1-2h0m4-7h0m32 0h0m28 1h0m62 7h0m35-1h0m62-3h0m61-1h0m2 6h0m60 2h0m14-9h0m19 9h0m-539 8h0m13 1h0m25-4h0m13-2h0m3 7h0m11 1h0m26 0h0m55-9h0m19 2h0m7 3h0m35-1h0m67-5h0m33 11h0m59-1h0m9-4h0m5-5h0m37 2h0m9-2h0m85 5h0m7 1h0m58-1h0m-537 7h0m67 3h0m6-1h0m6 8h0m25-3h0m20-8h0m15 2h0m35-2h0m48 3h0m40 0h0m33-3h0m113 9h0m37-3h0m18 1h0m14-3h0m20-2h0m7 1h0m-539 15h0m30 4h0m101-2h0m33-8h0m64 9h0m49-4h0m18 1h0m167 5h0m3-9h0m9 0h0m74 0h0m10 1h0m-562 13h0m10 4h0m4-5h0m13-2h0m107 6h0m33 1h0m14-6h0m72 2h0m35 7h0m81 0h0m91-11h0m-458 22h0m29-6h0m232-3h0m2 7h0m3-6h0m13-2h0m41 3h0m32-2h0m7 8h0m16 0h0m1-9h0m98 8h0m74-6h0m-534 19h0m113-7h0m8-2h0m176 6h0m49 1h0m110-6h0m27 10h0m27-11h0m-500 23h0m11-3h0m9 2h0m12-8h0m202 1h0m37 8h0m214-3h0m-510 14h0m7-1h0m5-9h0m16 1h0m34 3h0m12 6h0m13-3h0m32 0h0m167 0h0m5 4h0m44-2h0m25 1h0m5-1h0m1-8h0m20 3h0m160-2h0m-553 14h0m24 1h0m14 3h0m75-5h0m118 2h0m44 4h0m22-8h0m53 6h0m21 0h0m9 2h0m140-6h0m19-1h0m8 2h0m21 7h0m2 0h0m43-9h0m-592 11h0m57 2h0m4-3h0m13 4h0m172 4h0m10-3h0m13 1h0m230-3h0m1-1h0m15 6h0m12-2h0m19-4h0m1 8h0m20-7h0m14 5h0m-561 13h0m36-6h0m169 3h0m33 2h0m5 3h0m5-8h0m77 7h0m149-1h0m69 0h0m23 1h0m-586 8h0m4 4h0m35-8h0m2 2h0m11 4h0m27 2h0m109-9h0m38 5h0m23-1h0m33 0h0m16 6h0m15-6h0m4-4h0m4 8h0m7 1h0m14-1h0m104-3h0m53 5h0m3-11h0m1 9h0m47 0h0m10-7h0m-573 16h0m49 2h0m2-3h0m28-2h0m26 7h0m3-1h0m119-6h0m66 7h0m22-3h0m8-6h0m42 5h0m99 2h0m21 1h0m-489 9h0m15 3h0m20-6h0m0-3h0m5 6h0m41 1h0m7 1h0m116-1h0m136-4h0m14 4h0m56-3h0m77 7h0m-492 12h0m11-1h0m6-1h0m1 0h0m39-7h0m137 3h0m43-3h0m9 9h0m63-4h0m42-1h0m17 3h0m11 1h0m138 0h0m47-9h0m38-1h0m-597 18h0m17-2h0m1 4h0m17 1h0m8-3h0m14-1h0m53-4h0m85 2h0m23 8h0m20-3h0m49-5h0m11 0h0m22 7h0m25 1h0m3-10h0m9 5h0m3-5h0m89 7h0m23 2h0m42-9h0m18 7h0m5 1h0m2-1h0m-532 7h0m7-2h0m60 3h0m21 0h0m47 4h0m54-6h0m32 4h0m9 5h0m9-10h0m60-1h0m25 8h0m22-8h0m43 9h0m39-3h0m26 3h0m1-7h0m28 9h0m26 0h0m17-10h0m41 9h0m-565 7h0m17 5h0m7-4h0m21 4h0m75-5h0m22-2h0m27 6h0m20-4h0m92-5h0m75 7h0m9-3h0m0 4h0m78-4h0m3 0h0m29 0h0m66 1h0m16-5h0m9 3h0m31-1h0m-609 13h0m91 6h0m26-9h0m12 4h0m84-2h0m7-2h0m33 5h0m4-3h0m16 6h0m2-6h0m21 1h0m12-1h0m9 5h0m50 0h0m24-6h0m23 10h0m14-3h0m92-4h0m24 3h0m35 0h0m-469 11h0m30 3h0m26-4h0m59-5h0m20 3h0m136-2h0m178 6h0m17-6h0m8 10h0m17-5h0m2 2h0m-521 11h0m56 1h0m163-5h0m16-1h0m16 9h0m22-3h0m13-7h0m3 5h0m35 4h0m153-9h0m3 10h0m17-1h0m14-10h0m15 3h0m-496 11h0m8 1h0m34 5h0m8-4h0m138 2h0m45 4h0m5-5h0m22 0h0m55 5h0m13 1h0m23-3h0m85-5h0m-547 19h0m138-5h0m7 2h0m37 2h0m56-9h0m132 11h0m26-3h0m64-4h0m9-3h0m5 2h0m50 1h0m75 1h0m-472 15h0m116 0h0m72 3h0m61 0h0m6-7h0m128 0h0m16-2h0m27 3h0m-436 10h0m20 6h0m17-1h0m70-7h0m160 0h0m-315 20h0m8-8h0m54 2h0m91 4h0m20-3h0m71-3h0m9 0h0m50 0h0m61 1h0m-392 10h0m27 11h0m110-6h0m8 3h0m157-1h0m7-2h0m19 6h0m132-2h0" stroke="#6e6e6e" stroke-width="7"/>
<path d="M2 6h0m50 2h0m16 1h0m1-3h0m32 4h0m11-5h0m14 4h0m18-8h0m7 0h0m8 9h0m19-6h0m4 3h0m9-5h0m9 4h0m8-2h0m8 2h0m91 1h0m35 1h0m18 1h0m2-7h0m0 7h0m14-5h0m19 6h0m16-6h0m115 7h0m43-4h0m-557 6h0m66 1h0m9 4h0m15 1h0m3-7h0m2 7h0m7 3h0m12-2h0m18-7h0m11 9h0m52-8h0m66 3h0m112 6h0m142 0h0m26-7h0m22 1h0m17-2h0m-502 19h0m12-8h0m6 8h0m56-6h0m6 4h0m182-7h0m23 2h0m9 7h0m2-2h0m1 2h0m24-4h0m110-3h0m40 7h0m9-10h0m-466 23h0m11-7h0m4 3h0m7 3h0m18-5h0m19-2h0m191 6h0m11-9h0m21 1h0m14 9h0m1 1h0m8-11h0m1 10h0m159-9h0m-373 15h0m12 0h0m162 2h0m44-2h0m112 2h0m-445 13h0m24-6h0m91 2h0m0-1h0m26 0h0m58 5h0m34 2h0m24-3h0m-237 13h0m14-4h0m119 7h0m126-10h0m51 8h0m-405 10h0m125-1h0m48 1h0m47-5h0m2 2h0m30 3h0m92-4h0m-243 12h0m48-2h0m44 5h0m129 3h0m37 3h0m20-10h0m45 5h0m174 5h0m-602 11h0m46-1h0m11 1h0m47-4h0m15 2h0m22-8h0m14 9h0m30-7h0m43 2h0m96 2h0m15-3h0m7 4h0m21-6h0m47-1h0m172 11h0m18-10h0m4 4h0m-604 15h0m99-1h0m105 1h0m32 3h0m4-7h0m6 7h0m21-5h0m8-2h0m46-1h0m5 6h0m16-6h0m57 7h0m9-10h0m23 1h0m-424 16h0m24-2h0m1 8h0m11-7h0m30-4h0m4 4h0m39 5h0m98 0h0m13-4h0m20-5h0m3 8h0m13 1h0m96 1h0m28 0h0m13-9h0m27 0h0m41 5h0m12 4h0m19-2h0m18-5h0m10-1h0m17 9h0m15-8h0m20 3h0m-550 7h0m2 7h0m1-3h0m24 0h0m4 6h0m27-11h0m50 1h0m48 2h0m2 1h0m9 4h0m4-3h0m5 3h0m12 2h0m58-3h0m97 2h0m33-2h0m4 3h0m2-2h0m31-2h0m9 5h0m31-9h0m8 3h0m26 6h0m7-6h0m-495 13h0m34 3h0m18-5h0m10-3h0m11 5h0m37 5h0m9-1h0m43-1h0m60-9h0m32 7h0m13-6h0m8 8h0m113-4h0m124-5h0m17 10h0m28-9h0m-570 22h0m2-11h0m6 7h0m10 3h0m15 0h0m6-4h0m16-2h0m1-3h0m53 0h0m27 8h0m66-4h0m7 0h0m5 0h0m82-5h0m112 10h0m15 0h0m4-7h0m53 5h0m19-3h0m15 5h0m41-7h0m-508 9h0m14 4h0m72 2h0m52 2h0m200-3h0m4-3h0m10 9h0m34-11h0m67 8h0m15 1h0m31-1h0m-483 10h0m1 3h0m7 1h0m5-9h0m0 8h0m6 2h0m34-11h0m106 8h0m229-3h0m25-1h0m11-2h0m93 2h0m-601 9h0m38 4h0m156-1h0m11 3h0m20-2h0m1-1h0m48 1h0m87-4h0m9 1h0m157 3h0m-517 14h0m3-1h0m13 0h0m162-6h0m56 4h0m8 7h0m12-10h0m12-1h0m26 7h0m38-4h0m107 2h0m10 1h0m27-3h0m70 0h0m-366 20h0m2-5h0m42 1h0m40-3h0m92-4h0m0 11h0m50-7h0m30-2h0m-443 12h0m26 9h0m28-1h0m11-3h0m30 2h0m50-2h0m33-3h0m34 6h0m1-3h0m32 2h0m2 1h0m1-1h0m75-9h0m14 7h0m91-7h0m11 3h0m9 7h0m5 0h0m78-9h0m-502 20h0m122 1h0m5-5h0m36 0h0m4-2h0m3 0h0m6-2h0m33 8h0m40-8h0m115 10h0m17-8h0m1 6h0m10-4h0m10 6h0m78-3h0m25-1h0m-516 10h0m114-4h0m30 7h0m23-2h0m19-5h0m31 5h0m17 1h0m20 3h0m24-2h0m4-2h0m92 0h0m61-2h0m53 7h0m5-4h0m48-3h0m-544 11h0m10 6h0m18 0h0m81-8h0m62 0h0m65 6h0m12 4h0m6 0h0m12-6h0m11-2h0m91-3h0m2 10h0m32-10h0m108 9h0m-491 6h0m33 8h0m76-9h0m16-1h0m21 1h0m2 0h0m28 7h0m18-4h0m29 1h0m6-6h0m73 8h0m34 0h0m23-8h0m81 2h0m12 9h0m22-6h0m3 3h0m25-6h0m12 0h0m6-2h0m-551 16h0m41 5h0m19 0h0m196-9h0m21 3h0m65 4h0m120-5h0m73 5h0m-504 16h0m3-3h0m105-5h0m0 0h0m100-2h0m22 0h0m21 5h0m31 3h0m1-4h0m10 1h0m41-2h0m13 4h0m-341 15h0m26-6h0m63 6h0m169-1h0m23-5h0m26 1h0m16-4h0m174 6h0m9 0h0m-515 15h0m35-8h0m3 0h0m0 5h0m7 1h0m216-9h0m91 6h0m3-5h0m138 10h0m40-8h0m3 8h0m-559 6h0m82-2h0m20 3h0m110 3h0m37 0h0m11-9h0m7 0h0m76 11h0m15-10h0m180 8h0m33-8h0m-568 14h0m44 0h0m37 6h0m24-3h0m94 2h0m38 0h0m57-1h0m2 2h0m44-9h0m26 2h0m186 8h0m9-9h0m-495 20h0m189-7h0m14 0h0m9 2h0m1 7h0m9-1h0m28 1h0m60-5h0m140 1h0m3-5h0m12-1h0m2 5h0m14-4h0m26 5h0m13-3h0m7-1h0m-556 9h0m2 7h0m8-1h0m5-3h0m151 5h0m15-6h0m2 8h0m27-6h0m10 3h0m0-1h0m4-2h0m0 0h0m17-1h0m22 2h0m2 6h0m32-7h0m74 5h0m100-2h0m19 0h0m1-7h0m74 11h0m-607 3h0m66-1h0m36 0h0m8 0h0m132-1h0m26 0h0m27 5h0m11-5h0m16 6h0m57 3h0m30-3h0m2 4h0m62-8h0m-427 11h0m26 3h0m190-2h0m34 3h0m8-3h0m10 5h0m49-5h0m35 0h0m63 1h0m17-2h0m16 3h0m83 7h0m-571 4h0m29 3h0m14-2h0m44-2h0m25 1h0m4 8h0m67-1h0m18-3h0m7 1h0m8-1h0m30 2h0m29 0h0m3-7h0m23 3h0m13 5h0m0-10h0m43 2h0m18 8h0m30-8h0m3 5h0m58 0h0m26 3h0m1-6h0m51 2h0m19-4h0m10 1h0m-568 18h0m15 1h0m34-4h0m20 1h0m1 0h0m11-2h0m9-5h0m85 7h0m54-2h0m2 1h0m10 3h0m27-5h0m7-1h0m2 4h0m18-4h0m49 1h0m9-2h0m24 5h0m31-6h0m12 1h0m33-2h0m30 9h0m-497 7h0m24 4h0m40 0h0m44 1h0m85-1h0m107 0h0m0-3h0m34-5h0m38 2h0m108 2h0m27 1h0m19-2h0m41 8h0m-569 9h0m31 2h0m2-3h0m66 4h0m56 0h0m4-6h0m53 1h0m25 4h0m103-3h0m51-2h0m4-1h0m6-1h0m39-1h0m6 4h0m15-4h0m37-2h0m8 9h0m15-5h0m1 2h0m44-1h0m4-1h0m8 3h0m-569 15h0m9-4h0m5-4h0m38-2h0m29 1h0m101 3h0m26 1h0m37 0h0m14-4h0m25 7h0m28-5h0m1 5h0m2-4h0m6-1h0m5 4h0m30 1h0m99-6h0m46 1h0m18 4h0m28 3h0m1-3h0m-546 13h0m26-7h0m118 0h0m17 1h0m18 4h0m25-3h0m4-1h0m12 0h0m73 0h0m14 4h0m76 4h0m10-4h0m13 1h0m0 2h0m10 2h0m7-3h0m4 2h0m81-8h0m43 1h0m15 0h0m12 1h0m-575 15h0m127 3h0m27-2h0m17-7h0m140 4h0m36-2h0m7-1h0m20 8h0m8 0h0m160-8h0m35-1h0m-280 17h0m17-2h0m96 4h0m32 3h0m75-5h0m8-5h0m-532 19h0m99-1h0m85-1h0m21-5h0m23 6h0m6-5h0m7 9h0m72-6h0m48 3h0m2-6h0m80-2h0m137 6h0m-470 10h0m12 1h0m7 6h0m5-7h0m16-1h0m191 2h0m19 1h0m24 2h0m9-2h0m3 1h0m28 1h0m95-1h0m8 1h0m4 3h0m18-6h0m14 1h0m-499 12h0m13 1h0m8 1h0m31-6h0m212 5h0m76-1h0m12-6h0m190 8h0m-554 6h0m6-1h0m67 0h0m94 9h0m5-4h0m12-5h0m-218 15h0m140 0h0m171 4h0m49 2h0m39-6h0m10-1h0" stroke="#6e6e6e" stroke-width="9"/>
<path d="M74 8h0m8-7h0m49-1h0m34 5h0m22 4h0m75-2h0m1 0h0m2-2h0m38 2h0m26-1h0m59-6h0m10 6h0m142-6h0m10 1h0m4 8h0m3-5h0m53-1h0m-586 13h0m45 3h0m38 1h0m10-1h0m5 2h0m14-5h0m30-2h0m7 1h0m35 5h0m142-8h0m26 2h0m5 5h0m162 3h0m1 0h0m46-6h0m15-3h0m-471 13h0m8 6h0m34 0h0m21-7h0m154 2h0m37 5h0m152-1h0m11 1h0m-400 7h0m216 3h0m2 2h0m7-7h0m5 1h0m21 5h0m7 1h0m9-6h0m108 0h0m9 2h0m13 5h0m3 2h0m5-9h0m-468 11h0m124 8h0m30 1h0m90-6h0m25 3h0m-153 5h0m38 8h0m83 2h0m9 1h0m59-3h0m12-8h0m-276 14h0m106-1h0m15 0h0m90 9h0m27-7h0m44 5h0m0-2h0m-159 17h0m61-7h0m27 3h0m46-3h0m27 0h0m14 4h0m-425 6h0m114 5h0m50-5h0m247 5h0m15 1h0m-303 6h0m62-2h0m69 3h0m0 3h0m79-5h0m264 2h0m-584 10h0m278 9h0m66-6h0m90 1h0m141-4h0m-571 18h0m24-3h0m3-4h0m54 2h0m27-1h0m86 1h0m4 4h0m7 3h0m10 0h0m29-8h0m19 2h0m48 5h0m14 2h0m77-8h0m8-1h0m17 0h0m86 9h0m55-4h0m23-4h0m-591 12h0m5 3h0m7 6h0m32-11h0m36 8h0m2-4h0m41 5h0m61 2h0m7-5h0m2-1h0m32 0h0m36 5h0m32-8h0m101 3h0m44 3h0m69-4h0m2 6h0m22-5h0m8-4h0m37 3h0m-522 10h0m1 0h0m40 2h0m22 4h0m115-6h0m2 9h0m30 0h0m30-5h0m2-4h0m111 3h0m13 2h0m2 4h0m109 0h0m18-3h0m6 1h0m-547 10h0m5-2h0m10-1h0m49-4h0m52 11h0m154-8h0m115 8h0m4-4h0m1 0h0m64 1h0m45-5h0m0 0h0m25 0h0m-547 20h0m22 0h0m29-7h0m9 7h0m66-8h0m9 7h0m7-10h0m13 2h0m67 3h0m10 1h0m25 0h0m9-6h0m7 10h0m1-9h0m5 1h0m14 8h0m7-1h0m27 0h0m96 0h0m69-4h0m83 5h0m17-5h0m-589 10h0m31 2h0m24 4h0m3-9h0m5 9h0m16-6h0m7 4h0m125-4h0m66-2h0m36-1h0m179 3h0m49-3h0m66 1h0m-614 19h0m14 1h0m9-5h0m1 4h0m1-3h0m41 3h0m11-4h0m128 1h0m20 1h0m111 1h0m4 0h0m141 1h0m20 3h0m-449 10h0m48-7h0m93 9h0m21-5h0m16 4h0m30-6h0m42 1h0m147 1h0m12-5h0m29 2h0m5 2h0m26-5h0m-497 18h0m7 0h0m39-4h0m26 0h0m83 0h0m15 2h0m24 4h0m4 0h0m3 2h0m98-6h0m116 1h0m87 1h0m-510 16h0m25 0h0m17-2h0m91 3h0m8 0h0m11-3h0m13-4h0m113 4h0m8-7h0m70 2h0m54-2h0m14 2h0m20 0h0m76 7h0m13-2h0m-543 6h0m33 6h0m17 3h0m1-8h0m60 5h0m27 3h0m92-3h0m3-1h0m4-3h0m5 4h0m67-2h0m29-1h0m63 2h0m13-5h0m8 8h0m3 1h0m7-10h0m17 8h0m-453 10h0m11-1h0m8 3h0m23-4h0m21 0h0m5 2h0m2-1h0m37-3h0m37-1h0m23 0h0m34 7h0m15-6h0m34 5h0m3-8h0m18 1h0m80 6h0m53 2h0m92-3h0m19 5h0m40-11h0m-540 14h0m2-2h0m37 7h0m5-6h0m12 0h0m2 5h0m8-4h0m47 0h0m22 9h0m7-1h0m39-1h0m4-2h0m16-3h0m2-1h0m5-1h0m17-2h0m4 1h0m9 7h0m96-4h0m54-3h0m64 8h0m26-7h0m51 8h0m-518 2h0m35 10h0m10 1h0m54-6h0m22-2h0m5 0h0m8-2h0m115 4h0m16-2h0m15 8h0m222-3h0m4 2h0m-530 10h0m30-2h0m49 0h0m32 1h0m4 4h0m159 0h0m0-10h0m16 8h0m-277 4h0m100 8h0m168-9h0m12 1h0m6 6h0m6-6h0m10-1h0m216 1h0m10 9h0m1-1h0m-544 6h0m11 3h0m3-3h0m42-2h0m6 6h0m1-4h0m21-1h0m36 3h0m23-4h0m108 0h0m39-1h0m65 8h0m18 1h0m11-2h0m141-3h0m2 1h0m34-1h0m-558 17h0m7 1h0m10-6h0m9 5h0m27-8h0m13 6h0m9-3h0m204 2h0m11-4h0m48 2h0m1 3h0m19-7h0m0 4h0m14 5h0m146-8h0m39 5h0m-555 7h0m40 8h0m16-2h0m12-5h0m3 6h0m174-5h0m29 5h0m20 1h0m50-3h0m170 3h0m65 2h0m19-1h0m-383 9h0m77 1h0m267-8h0m3 11h0m9-11h0m14 5h0m-542 7h0m20 5h0m185 2h0m2-7h0m47 2h0m63 4h0m163 5h0m-521 9h0m7 2h0m2-4h0m6-4h0m6 3h0m17 2h0m3-3h0m24-2h0m13-1h0m27 3h0m12-3h0m115 9h0m42-6h0m14 2h0m38-2h0m4 1h0m-297 12h0m30-4h0m212 9h0m4-6h0m116 2h0m83 2h0m-429 13h0m237-4h0m2 4h0m8-8h0m23 8h0m22-5h0m7 4h0m6 0h0m25 3h0m18-5h0m76 5h0m31-3h0m6-4h0m4-1h0m61 8h0m-526 8h0m16 1h0m20 2h0m1 0h0m35-6h0m2-3h0m102 10h0m67-8h0m7-2h0m3 8h0m20-3h0m64-5h0m122 9h0m14-8h0m6 5h0m-469 15h0m9-9h0m23 10h0m37-5h0m61 5h0m14-6h0m52-1h0m52 3h0m35-6h0m47 5h0m120-5h0m67 4h0m-578 13h0m12-3h0m31 6h0m1-3h0m2 2h0m20-2h0m14 5h0m5-1h0m20-7h0m16 6h0m64-7h0m18 6h0m10-8h0m7 1h0m35 6h0m42-2h0m20 3h0m4-2h0m30 0h0m39-3h0m96 6h0m33-3h0m13 5h0m2 0h0m12-6h0m-550 13h0m13 0h0m53-6h0m8 0h0m64 11h0m67-11h0m10 10h0m98-3h0m21 4h0m49-6h0m13 2h0m4-1h0m58 3h0m49-2h0m25 4h0m21 0h0m12-2h0m0-6h0m-539 12h0m24 4h0m98-3h0m92-1h0m62-1h0m2 8h0m1 1h0m98-1h0m12 1h0m4-10h0m3 3h0m12-4h0m80 6h0m4 2h0m23 0h0m16-1h0m4 0h0m5 0h0m8-6h0m-576 15h0m13-2h0m75 9h0m8-1h0m49-5h0m38-1h0m38 5h0m7-6h0m73 7h0m21-10h0m23 0h0m0 5h0m20-2h0m50 5h0m6-5h0m6 2h0m3 5h0m13-4h0m3 0h0m14-6h0m77 2h0m-526 12h0m93-2h0m49 5h0m94-5h0m4 2h0m84 8h0m17-4h0m49 4h0m203 0h0m-592 5h0m64 7h0m12-8h0m72 3h0m16-3h0m52 1h0m6 7h0m78-5h0m26 1h0m2 4h0m1-1h0m13-6h0m35 7h0m7-2h0m3 0h0m6-2h0m38-1h0m23-2h0m143 5h0m2-4h0m-531 15h0m1-3h0m6 4h0m38 2h0m11-9h0m31 3h0m8-3h0m8 1h0m146 3h0m86 1h0m11 5h0m4-7h0m9 3h0m12-6h0m8-1h0m58 10h0m94-10h0m-522 21h0m292-4h0m29 0h0m0 5h0m16-10h0m113 11h0m71-11h0m-537 14h0m19 2h0m21 6h0m2-7h0m7 7h0m2-6h0m201 7h0m6-5h0m85 3h0m7-9h0m3 6h0m4 1h0m0-7h0m180 3h0m-508 11h0m22 8h0m29-10h0m222 3h0m-298 13h0m7 1h0m17-2h0m31-3h0m99 4h0m11 3h0m79-7h0" stroke="#787878" stroke-width="6"/>
<path d="M21 8h0m19-1h0m8-2h0m34-5h0m50 8h0m16-4h0m11-3h0m65 9h0m45-5h0m65 6h0m43 0h0m42-6h0m1-1h0m94 3h0m46 2h0m12-2h0m-560 7h0m33-2h0m62 5h0m33 5h0m11-3h0m27-2h0m9-3h0m15 1h0m0 7h0m1-1h0m162-7h0m13-1h0m9 3h0m9 1h0m19-3h0m102-2h0m21 11h0m27-10h0m22 4h0m27 4h0m-507 14h0m27-8h0m211 4h0m13-4h0m14 7h0m2-9h0m31 8h0m118 0h0m23-7h0m5 4h0m26-1h0m-454 11h0m12-4h0m50 8h0m2 1h0m168-2h0m37 0h0m6-5h0m23 1h0m126 0h0m12-1h0m-201 21h0m13-5h0m154 0h0m-414 12h0m139-3h0m54 1h0m18 2h0m1 5h0m-212 1h0m4 8h0m2 0h0m12-4h0m10 7h0m187-3h0m58-6h0m-267 15h0m15-4h0m9 7h0m31-3h0m196-3h0m21 1h0m-277 17h0m8 1h0m13-2h0m14 0h0m183-6h0m11 8h0m78-6h0m10-3h0m-424 20h0m112-8h0m10 0h0m82 10h0m43-7h0m9 3h0m53 2h0m31-7h0m98 8h0m-399 7h0m10 7h0m14 0h0m0-8h0m11 8h0m2 0h0m48-7h0m1-1h0m79 5h0m27-8h0m76 11h0m2-5h0m2-1h0m7-3h0m27 4h0m68 2h0m18-7h0m146 8h0m-510 9h0m2 2h0m5-8h0m28 1h0m0 0h0m4 5h0m1 3h0m100-1h0m7 1h0m0-3h0m7 0h0m32-5h0m89 1h0m1-1h0m12 8h0m11-2h0m46 1h0m44-3h0m13 1h0m64-5h0m52 1h0m9-2h0m10 8h0m-570 6h0m18 6h0m78 1h0m107-1h0m18-8h0m6 10h0m55 0h0m13-9h0m6 6h0m88-6h0m103 10h0m52-2h0m-564 3h0m32 1h0m112 3h0m45 3h0m19-3h0m24 4h0m23 1h0m42 2h0m20-9h0m70 4h0m26-4h0m91 8h0m14-7h0m6 8h0m48-11h0m-583 20h0m30 2h0m48-6h0m32 1h0m33-1h0m6 4h0m61-1h0m13 2h0m44-3h0m17-6h0m0 1h0m33 5h0m114-2h0m6 4h0m46-4h0m13-3h0m25 2h0m38-1h0m15 0h0m9 1h0m-556 10h0m39 6h0m7-2h0m30-1h0m14 3h0m9-5h0m17 5h0m64-2h0m13-4h0m6 6h0m30 4h0m51-11h0m100 2h0m4 3h0m64 4h0m8 2h0m29 0h0m9-9h0m-528 10h0m43 9h0m13-9h0m3 0h0m3 2h0m28-2h0m111 4h0m11-3h0m14 8h0m13-5h0m26-4h0m46 1h0m134 3h0m3 7h0m10-3h0m27 1h0m13-5h0m4-4h0m86 0h0m-586 14h0m5 7h0m30-4h0m11 1h0m18 4h0m115-1h0m28-5h0m11 4h0m12-5h0m69 5h0m28-5h0m8-2h0m111 8h0m18-2h0m46 1h0m-485 6h0m8 7h0m25-9h0m12 8h0m6 3h0m107-4h0m20-5h0m28 2h0m14 5h0m3 2h0m200-3h0m60-6h0m7 5h0m12 4h0m7-1h0m-497 3h0m4 4h0m34-3h0m36 6h0m58-2h0m34 4h0m13-2h0m59-4h0m21 5h0m221-1h0m15 1h0m-530 10h0m51-3h0m121-4h0m13 3h0m47 6h0m50-3h0m1-2h0m148-3h0m103 3h0m20 7h0m7-8h0m8-2h0m2 8h0m-575 14h0m15-8h0m13 5h0m16-2h0m32 2h0m11 2h0m69 1h0m9-8h0m27 6h0m2-6h0m11-3h0m57 9h0m6 1h0m11-5h0m26 2h0m18 3h0m43-5h0m3-4h0m9 1h0m41 3h0m3-1h0m13 0h0m125 7h0m-538 7h0m48 2h0m44-8h0m36 2h0m37 4h0m25 4h0m2-10h0m2 11h0m2-7h0m48 1h0m36 4h0m86-1h0m35-8h0m95 3h0m10 7h0m35-9h0m0-1h0m-530 20h0m1 2h0m39-7h0m8 4h0m5-6h0m14 2h0m8 3h0m2 1h0m69-2h0m3 2h0m2-6h0m1 9h0m309 1h0m26-5h0m31-5h0m15-1h0m-502 19h0m5-5h0m25 9h0m6-1h0m4-7h0m29 5h0m3 3h0m4-6h0m8 0h0m120 5h0m281-2h0m-518 12h0m57-7h0m33 3h0m139 1h0m23 4h0m42-9h0m40 9h0m106-9h0m66 0h0m-515 22h0m15-4h0m0 0h0m19-3h0m56-3h0m155 7h0m55-3h0m56-4h0m-377 22h0m12-3h0m9-5h0m1 3h0m15-4h0m49 4h0m11 1h0m23-3h0m11 3h0m4 2h0m116-1h0m11 3h0m121-8h0m0 6h0m121-6h0m19 1h0m31 0h0m-552 10h0m1 6h0m6-5h0m32 7h0m7-3h0m0-3h0m24 3h0m9 3h0m26-8h0m11 0h0m139 0h0m1 3h0m3-1h0m96-3h0m161 5h0m27-3h0m-530 18h0m10 2h0m15-6h0m25-1h0m212 8h0m16-10h0m9 3h0m246 3h0m-491 13h0m7 0h0m157-5h0m9 6h0m36 1h0m14 0h0m77-4h0m5 0h0m215-5h0m27 2h0m-594 13h0m32 7h0m1-6h0m16-2h0m0 7h0m200-4h0m270-2h0m1 1h0m16 3h0m12-1h0m-531 8h0m35 0h0m29 4h0m138 2h0m118-8h0m139 7h0m9 3h0m10 0h0m-493 1h0m20 8h0m14 0h0m35-7h0m16 4h0m109-5h0m72 1h0m59 10h0m138-6h0m24-1h0m8 0h0m76 7h0m-569 5h0m38 4h0m26-2h0m9 4h0m3-2h0m25-7h0m11 4h0m144-5h0m47 0h0m6 1h0m12 10h0m38-2h0m38-9h0m67 8h0m0 2h0m2-9h0m-436 11h0m7 10h0m188 1h0m1-1h0m42-1h0m12-5h0m14 4h0m1-5h0m11-1h0m30 0h0m60 5h0m56-3h0m55 7h0m-518 8h0m17 4h0m0-9h0m0 0h0m49 8h0m129-4h0m20 4h0m9-7h0m47-1h0m2 8h0m68 0h0m51-7h0m3-3h0m72 2h0m0 3h0m19 1h0m28-1h0m-487 18h0m43-8h0m9 7h0m129-5h0m78-3h0m102 3h0m22 5h0m13-3h0m3 2h0m63-4h0m56 6h0m1-7h0m35 0h0m-582 14h0m21-2h0m20-3h0m20 0h0m65 6h0m6-1h0m22-1h0m1-3h0m2 6h0m17-5h0m5-3h0m1 10h0m23-4h0m1-4h0m14 9h0m6-4h0m2-7h0m160 3h0m11 8h0m16-1h0m16-9h0m2 8h0m15-3h0m3 0h0m59 0h0m2-1h0m36 1h0m6 5h0m-554 1h0m126 2h0m27 5h0m135-6h0m9 6h0m81-7h0m6 9h0m13-8h0m14 1h0m22-1h0m13 8h0m75-9h0m66 0h0m-587 18h0m3 4h0m6-7h0m116 8h0m53-10h0m50 8h0m21-3h0m85 2h0m6 3h0m39 0h0m15-8h0m7 2h0m24-4h0m5-1h0m6 4h0m100-3h0m19 7h0m-383 5h0m128 5h0m8-4h0m53-1h0m22 0h0m151-1h0m2 4h0m63 0h0m-595 16h0m102 1h0m5-7h0m48-1h0m0 7h0m71-2h0m116-4h0m62 0h0m1 8h0m10-2h0m109 0h0m83-6h0m-522 18h0m5-4h0m10 6h0m0-10h0m43 1h0m26 3h0m156-2h0m87 0h0m112 8h0m4-1h0m-449 14h0m5-6h0m32 3h0m5-1h0m8 0h0m15-6h0m7 7h0m86-7h0m111 9h0m10-5h0m21-5h0m133 0h0m71 8h0m20 2h0m-541 11h0m17-4h0m10-3h0m35 8h0m1 1h0m9-9h0m8 7h0m202-7h0m52 1h0m25-2h0m-329 19h0m1-6h0m16 5h0m-89 14h0m24 1h0m17-3h0m58 3h0m119-3h0m91 1h0m110 3h0m84 0h0m68-1h0" stroke="#787878" stroke-width="7"/>
<path d="M7 2h0m71 2h0m50 7h0m27-7h0m5 5h0m36-1h0m6 2h0m35-9h0m62 10h0m66-3h0m4-5h0m44 7h0m114-2h0m25-4h0m2-1h0m41 2h0m2 5h0m-585 8h0m55-3h0m14-2h0m3 10h0m3-4h0m85 1h0m219-8h0m9 3h0m168 1h0m7 3h0m12-3h0m-235 17h0m3 2h0m41-2h0m17-6h0m121 2h0m15-5h0m26 5h0m-487 8h0m50-1h0m19 6h0m26 0h0m3 1h0m6 3h0m19-9h0m139 6h0m4-7h0m15 4h0m27-2h0m21 0h0m0 4h0m-328 10h0m21 2h0m100 0h0m32 5h0m128 0h0m23-7h0m13-2h0m-288 12h0m119 6h0m6-1h0m77 2h0m52 0h0m22-6h0m-295 13h0m10 6h0m7-6h0m76 5h0m54-7h0m-140 13h0m85 7h0m3-6h0m57 5h0m65-7h0m23 9h0m2-2h0m-330 7h0m98-3h0m1 6h0m20-3h0m1 2h0m34 2h0m9-3h0m6-5h0m49 8h0m123 1h0m3-3h0m26-1h0m2-5h0m28 6h0m10-1h0m2 2h0m6-6h0m-425 18h0m2-7h0m116 5h0m1-1h0m1-4h0m211 8h0m16-2h0m9-4h0m65 1h0m18 5h0m148-3h0m-572 10h0m96 6h0m15 1h0m5-2h0m89-7h0m29 10h0m3-5h0m56 2h0m40 3h0m53-3h0m23-6h0m15 6h0m55-2h0m39-1h0m6 3h0m-520 9h0m12 3h0m82 3h0m12-10h0m81 1h0m15 9h0m16-8h0m44-3h0m44 4h0m5-4h0m46 10h0m73-8h0m18 3h0m31 4h0m1-9h0m7 6h0m48-1h0m23 0h0m-546 16h0m4 0h0m2-8h0m12-1h0m9 1h0m1 6h0m5-6h0m13 1h0m19 2h0m42 3h0m49 3h0m14-7h0m32-1h0m36 9h0m41 0h0m274-9h0m-544 12h0m21-2h0m20 11h0m58-1h0m3-8h0m22 4h0m41-6h0m21 11h0m3-9h0m17 1h0m33 0h0m1-1h0m25 7h0m0-1h0m17-6h0m119 3h0m66 2h0m23-4h0m2-2h0m17 5h0m1-6h0m36 5h0m6 4h0m-596 7h0m27-1h0m3-2h0m3 0h0m2 8h0m23 1h0m0-9h0m1 9h0m19-2h0m5-2h0m36-6h0m16 1h0m73 0h0m0 2h0m49 5h0m1 2h0m15-7h0m20 4h0m22-2h0m193 2h0m17-4h0m8 3h0m7-6h0m19 11h0m34-9h0m-581 16h0m24 5h0m2-10h0m29 10h0m14-10h0m21 9h0m3-6h0m34 6h0m3-6h0m86 2h0m7 1h0m26-2h0m30-4h0m137 2h0m32 6h0m19-6h0m-474 15h0m1 2h0m10-3h0m3-5h0m3 11h0m75-2h0m96-6h0m28 5h0m45 0h0m5-7h0m4 5h0m14-4h0m131 2h0m35-3h0m54 2h0m69 3h0m-544 9h0m16 4h0m25 0h0m178 1h0m105-6h0m6-1h0m72 6h0m14 1h0m7 3h0m10-8h0m9 5h0m9-3h0m-471 15h0m30 3h0m1-7h0m3-3h0m18 10h0m21-11h0m0 8h0m1-5h0m98 1h0m1-3h0m33 4h0m46 2h0m8 3h0m25-9h0m156 5h0m0-5h0m17 4h0m41-1h0m-505 11h0m11-2h0m24 1h0m5 8h0m14 0h0m12-4h0m28-3h0m81 3h0m95-3h0m24-1h0m79 8h0m151-5h0m-521 15h0m11 3h0m2 0h0m8-11h0m38 5h0m13-5h0m1 7h0m7-2h0m99 4h0m13-2h0m3 3h0m4-6h0m18 2h0m2 1h0m51 1h0m32-3h0m47 6h0m21-9h0m6-1h0m30 6h0m95 0h0m4 2h0m32 0h0m31 2h0m-525 8h0m3-1h0m5 5h0m9-9h0m0 3h0m36 3h0m46 2h0m44-8h0m2-1h0m21 2h0m30 1h0m33 3h0m47 4h0m17-6h0m33 1h0m63-4h0m15 2h0m73-2h0m8 5h0m15-1h0m4-4h0m9 6h0m-535 8h0m26-1h0m38-2h0m2 3h0m22 7h0m13-5h0m42-3h0m26 2h0m83-4h0m16-1h0m18 3h0m53 8h0m47-8h0m15-3h0m36 11h0m70-2h0m28-3h0m-551 16h0m8-6h0m20-4h0m58 7h0m15 2h0m9 1h0m13 0h0m13-6h0m17 6h0m26-8h0m16 7h0m9-3h0m36-2h0m97 7h0m4-9h0m18 7h0m89-7h0m31 8h0m3-4h0m2-6h0m40 3h0m-528 18h0m13-1h0m78-7h0m4 3h0m28 6h0m17-7h0m9 2h0m112 6h0m91-10h0m102 1h0m64 3h0m-515 15h0m15-1h0m39-7h0m48 9h0m3 1h0m3 0h0m19 0h0m144-10h0m18 1h0m28-1h0m148 7h0m59-6h0m-509 11h0m46 6h0m53 1h0m6-4h0m237-1h0m-346 17h0m50 4h0m63-8h0m137-2h0m87 2h0m7-2h0m161 5h0m13 1h0m-538 7h0m119 2h0m8 4h0m144-2h0m25 1h0m212-7h0m-508 15h0m259 0h0m297 4h0m6-6h0m46 8h0m-608 11h0m12 0h0m5-6h0m205 3h0m59 2h0m65-2h0m-329 7h0m12 8h0m230 0h0m5 1h0m37-6h0m69-3h0m190 9h0m10 0h0m10-2h0m22-5h0m2-2h0m-608 13h0m6 8h0m23 1h0m47-5h0m46 2h0m92 2h0m22-9h0m40 11h0m22-2h0m45 0h0m129-2h0m8 4h0m23-4h0m106-7h0m-599 19h0m26 1h0m36-3h0m49 2h0m83 3h0m96 0h0m40 1h0m28-3h0m39-2h0m70 2h0m0 0h0m-444 15h0m54-6h0m199 0h0m59-4h0m22 10h0m19-10h0m24 10h0m97-8h0m3 4h0m9-3h0m-513 19h0m44-8h0m34 0h0m195 8h0m37-6h0m17 2h0m20 2h0m18-6h0m12 5h0m36-5h0m40 6h0m19 2h0m14-10h0m1-1h0m37 2h0m-532 12h0m17 5h0m8 2h0m2-5h0m79 0h0m26 0h0m92 5h0m37-4h0m11-3h0m100 5h0m6 3h0m81 0h0m85-7h0m-520 11h0m19 9h0m15 0h0m143-2h0m16-4h0m29-2h0m57-2h0m16 7h0m5-7h0m13 6h0m55 0h0m73 0h0m4 2h0m1-6h0m4 7h0m11-7h0m31 1h0m36 5h0m-531 11h0m51-1h0m11-6h0m12-1h0m88 9h0m27-3h0m96 3h0m2-5h0m9 6h0m17 0h0m0-5h0m49 5h0m43-10h0m17 7h0m11-5h0m9-1h0m94 3h0m16 1h0m0 3h0m-564 8h0m8 3h0m115 3h0m18-7h0m98 2h0m39-2h0m11 7h0m9-4h0m28 5h0m67-8h0m42 0h0m2 1h0m81-1h0m-435 15h0m36 4h0m42 0h0m71-5h0m55-5h0m22 0h0m6 1h0m13 10h0m9 0h0m225 0h0m7-5h0m7-3h0m-474 12h0m9-2h0m210 6h0m22 2h0m15 0h0m27-2h0m-310 9h0m47 4h0m95-7h0m6 0h0m4 2h0m82 8h0m8-10h0m8-1h0m3 1h0m3 4h0m44-3h0m12 6h0m126-6h0m-447 14h0m8-2h0m39 5h0m66-7h0m46 7h0m83-6h0m29 8h0m40-6h0m34 3h0m7 5h0m34-10h0m143 7h0m-531 6h0m40 0h0m38 8h0m175-7h0m19 0h0m30 3h0m0-4h0m28 1h0m22-2h0m5 0h0m95 0h0m66 3h0m12-1h0m11 5h0m0-6h0m-489 21h0m17 0h0m1-7h0m227-3h0m-285 12h0m21 9h0m38-6h0m287-4h0m-389 20h0m4 3h0m55 0h0m7-9h0m24 0h0m40 5h0m64-7h0m115 7h0m85 3h0m156 0h0" stroke="#787878" stroke-width="9"/>
<path d="M5 6h0m26-5h0m42-1h0m2 2h0m32 9h0m7 0h0m4-8h0m1 6h0m61-6h0m7 1h0m9 7h0m22-7h0m134 7h0m63-11h0m2 10h0m106-7h0m43 8h0m4-5h0m-508 9h0m17 3h0m22 4h0m26-3h0m13-2h0m43 3h0m173-1h0m12 0h0m18-3h0m1 6h0m155-7h0m4 7h0m-454 8h0m13-4h0m43 5h0m21 0h0m5-6h0m8 2h0m7 5h0m158-5h0m33 0h0m153 7h0m-427 3h0m5 7h0m27-7h0m216 7h0m23-4h0m25 5h0m11-8h0m115 7h0m-218 15h0m42-9h0m5 3h0m26-5h0m2 11h0m8-1h0m-80 6h0m19 7h0m44-7h0m8 3h0m2-6h0m-279 13h0m4 0h0m3 18h0m4-8h0m14 1h0m11 7h0m192 2h0m19-7h0m73 1h0m-425 16h0m135 1h0m7-8h0m102-1h0m90 3h0m77 6h0m1-1h0m-407 11h0m109-1h0m2 2h0m291-8h0m15 9h0m-297 13h0m94-7h0m26 1h0m192-1h0m7 6h0m87 2h0m-533 8h0m10-2h0m77 4h0m3-4h0m19-4h0m26 10h0m89-1h0m19-4h0m171 0h0m7-6h0m6 6h0m108-4h0m6-1h0m41 1h0m-515 18h0m7-8h0m24 1h0m37 0h0m283 1h0m26 5h0m5 4h0m6-6h0m105 6h0m3-6h0m18-2h0m-560 12h0m96 5h0m7-1h0m28 0h0m76 4h0m94-1h0m89-5h0m9 6h0m25-7h0m89 4h0m9-3h0m33-3h0m7-1h0m-564 12h0m31 0h0m4 10h0m9-10h0m14 8h0m6-1h0m31-7h0m38 3h0m72 7h0m20-4h0m14-1h0m14-6h0m24 6h0m127-1h0m13-2h0m93 0h0m8 1h0m7 7h0m-538 10h0m54-4h0m3 4h0m17-4h0m1 4h0m9-6h0m37 0h0m11-3h0m139 11h0m141-2h0m27-8h0m3 7h0m9-7h0m29 5h0m-430 7h0m30 8h0m112-1h0m9 0h0m17 2h0m44-6h0m198-1h0m4 0h0m1 2h0m96-4h0m-552 11h0m13 7h0m4 1h0m23 0h0m21-6h0m25 6h0m88-4h0m4-4h0m10 1h0m107 5h0m-297 12h0m0-3h0m2-1h0m5 8h0m8-5h0m8 1h0m49 0h0m92 3h0m36 2h0m7-10h0m38 0h0m232 3h0m7-4h0m-486 13h0m26 10h0m28-10h0m18-1h0m15 11h0m5-11h0m-74 17h0m4 4h0m22-5h0m35 4h0m3-4h0m0 1h0m69 1h0m34-3h0m12 4h0m14 1h0m1 0h0m178 2h0m6-1h0m6 0h0m17-5h0m13 4h0m4 3h0m99-4h0m-525 12h0m26 4h0m5-10h0m5 10h0m23-10h0m7 3h0m11 0h0m51 1h0m10 2h0m8-3h0m20 0h0m37 5h0m38-3h0m2 3h0m20-8h0m127 1h0m5 9h0m15-5h0m-427 10h0m93 7h0m26-2h0m22-4h0m8 2h0m34 3h0m38-1h0m12-2h0m9-1h0m24-4h0m12 3h0m80-2h0m9 2h0m3 2h0m7 2h0m4-9h0m19 4h0m6 1h0m-384 16h0m0-7h0m0 8h0m36-1h0m35-4h0m10 2h0m1-2h0m8-4h0m136 4h0m303 0h0m-544 8h0m43 2h0m44 4h0m6-6h0m8-1h0m32 5h0m218-3h0m6 1h0m2 2h0m96-4h0m2 2h0m8 8h0m8-7h0m-479 10h0m23 2h0m71-3h0m13 10h0m20-7h0m130 6h0m0-5h0m7 4h0m260-6h0m14 3h0m-542 15h0m3-9h0m25 7h0m5 2h0m2-2h0m34-2h0m24 2h0m15-3h0m29 7h0m245-7h0m-364 19h0m25-6h0m45 4h0m24 0h0m151-4h0m9 3h0m5-5h0m13 4h0m28-2h0m43-1h0m12 5h0m147-7h0m-497 11h0m72-1h0m0 2h0m166 8h0m33-9h0m64 6h0m16 1h0m140-6h0m39 4h0m11 2h0m4-5h0m-535 12h0m26 4h0m194 0h0m101-2h0m23 0h0m154 0h0m5 6h0m5-10h0m34 0h0m-525 22h0m227-9h0m260-1h0m4 2h0m3 5h0m19 3h0m-526 7h0m7 3h0m34-3h0m215-4h0m2-2h0m14 11h0m225-1h0m8-7h0m47 3h0m-569 13h0m22-7h0m235 1h0m-267 20h0m43 2h0m34-4h0m212-2h0m7 2h0m12-3h0m7 7h0m1-6h0m12 2h0m6 1h0m66 3h0m87-4h0m23-1h0m-455 10h0m16 3h0m1-2h0m4 5h0m1-9h0m234 10h0m13-10h0m142 0h0m-460 15h0m6 4h0m9-2h0m59-6h0m8 6h0m238-3h0m15 5h0m126-6h0m17 2h0m-491 12h0m7 4h0m4-7h0m3 6h0m76-7h0m142 8h0m66-4h0m14 3h0m155 0h0m13-4h0m16 3h0m19 2h0m10-4h0m-485 14h0m92 3h0m99-7h0m1 5h0m73-7h0m31 2h0m167 3h0m68-5h0m1 6h0m2 4h0m-536 9h0m10 2h0m5-3h0m179-3h0m184-3h0m7 11h0m15-5h0m-425 10h0m115-1h0m108 3h0m186 3h0m109-9h0m14 3h0m2 5h0m-403 13h0m3 0h0m11-4h0m139-4h0m16 1h0m22 0h0m10 8h0m2-2h0m53-8h0m123 9h0m30 0h0m16-2h0m3 0h0m-352 10h0m125 1h0m42 5h0m145-10h0m-428 13h0m131 0h0m84 1h0m3-1h0m25 6h0m2-6h0m25 3h0m5 5h0m-250 3h0m231 5h0m36 3h0m13-3h0m25 5h0m161-6h0m-508 18h0m287-9h0m46 5h0m11-1h0m-350 8h0m33 9h0m1-6h0m3 0h0m2-5h0m4 4h0m14 3h0m268-2h0m-329 12h0m1 0h0m51 3h0m2-4h0m11 7h0m270-3h0m-340 10h0" stroke="#828282" stroke-width="6"/>
<path d="M5 11h0m1-10h0m7 7h0m68-1h0m35 2h0m11-3h0m11-4h0m11 2h0m31 1h0m19-4h0m82 2h0m3 3h0m12 5h0m49-10h0m17 5h0m47-3h0m2 1h0m117-1h0m7-2h0m14 9h0m-528 4h0m78-1h0m2 0h0m64 6h0m21-2h0m180-5h0m49 0h0m-316 17h0m31-4h0m9 3h0m31 4h0m181-7h0m17 8h0m8 2h0m24-2h0m11 1h0m111-8h0m-399 10h0m287 5h0m-52 8h0m33 7h0m-282 9h0m252 5h0m18-8h0m7-2h0m14 1h0m-290 19h0m18-2h0m116-1h0m111 6h0m0 18h0m4 3h0m-219 4h0m197 5h0m1 3h0m104-7h0m-421 13h0m35 8h0m6-10h0m51 3h0m13-3h0m108 3h0m3 6h0m21-7h0m15 6h0m58-8h0m21 7h0m70 1h0m8-6h0m11-2h0m6 4h0m0 7h0m6-4h0m161 3h0m-613 12h0m7-10h0m25 5h0m2 0h0m53 4h0m33-1h0m12 0h0m81-6h0m61 6h0m15-3h0m1 1h0m133 3h0m1 1h0m19-7h0m84 6h0m42-6h0m17 2h0m-571 14h0m13 2h0m2 0h0m1-6h0m31 4h0m2-7h0m4 4h0m30 1h0m25 3h0m130 0h0m2 2h0m198-3h0m84-5h0m41 6h0m-563 10h0m5-1h0m1 4h0m11-4h0m9 6h0m23-5h0m2-6h0m39 3h0m18-3h0m74 3h0m14 4h0m15-3h0m8 7h0m7-11h0m10 10h0m15 1h0m12-11h0m7 6h0m128 5h0m14-5h0m21-4h0m73 7h0m-521 4h0m100 6h0m6-4h0m12 0h0m10 2h0m7 1h0m1-1h0m10-5h0m73 1h0m18 0h0m13-1h0m12 0h0m14 6h0m32-5h0m111 2h0m21 0h0m4 2h0m2 6h0m138 0h0m-569 6h0m7-2h0m1 8h0m63-3h0m39-5h0m16 4h0m108-3h0m28 2h0m8-6h0m4 4h0m250-3h0m22-1h0m-555 20h0m26-8h0m49 9h0m4-4h0m5 1h0m124 4h0m1-6h0m10-4h0m29 5h0m15 6h0m19-6h0m216-4h0m80 2h0m-572 16h0m27-5h0m19 4h0m43 4h0m80-3h0m43-7h0m34 4h0m25 3h0m177-1h0m28-1h0m-468 12h0m14 2h0m18 2h0m40-6h0m110 7h0m61-4h0m14-2h0m176-2h0m24 0h0m-428 15h0m14-4h0m122 0h0m1 10h0m16-6h0m15-4h0m-183 16h0m2-3h0m1 5h0m2 3h0m17-9h0m28 8h0m133-7h0m158 0h0m2 6h0m0-1h0m22 0h0m20-4h0m110 5h0m34-5h0m4 1h0m-525 19h0m44-1h0m85 1h0m9-4h0m147-7h0m66 10h0m6 0h0m12-10h0m1 2h0m6 1h0m-406 13h0m9 1h0m2 4h0m27 2h0m15-9h0m48 2h0m22 4h0m11-2h0m10-5h0m4 2h0m71 2h0m2 2h0m1-3h0m18-2h0m30 3h0m84 6h0m29-8h0m160 3h0m-546 8h0m33 9h0m23-7h0m47 1h0m6 2h0m8-5h0m113-2h0m123 11h0m170-3h0m-520 11h0m29-6h0m38 5h0m33 0h0m7 1h0m36-6h0m14 3h0m306 7h0m41-9h0m6 6h0m12-5h0m-504 18h0m63-1h0m11 3h0m169 0h0m1-1h0m193-10h0m-459 23h0m22-8h0m50 0h0m13 5h0m3-4h0m41-4h0m3 3h0m118-1h0m17 9h0m104-4h0m-361 5h0m54 6h0m32-4h0m151 5h0m13-5h0m18-2h0m19 7h0m57-6h0m151 3h0m41 1h0m-538 9h0m90-2h0m30 1h0m140 4h0m3 2h0m253-5h0m8 0h0m26 6h0m-552 10h0m48-1h0m192-4h0m300 6h0m-551 7h0m13 1h0m1 7h0m231 1h0m14-9h0m17-1h0m243 6h0m65-3h0m1 4h0m24 0h0m-605 15h0m11-10h0m26 0h0m224 2h0m24 2h0m274 2h0m6-1h0m19-1h0m13-5h0m-560 12h0m19 10h0m6-8h0m194-2h0m42 4h0m33 3h0m4 3h0m173 1h0m64-10h0m-572 16h0m15-4h0m34 7h0m10-1h0m8-6h0m218 9h0m206-5h0m1 6h0m12-3h0m6 2h0m-508 5h0m18-3h0m58 4h0m4 2h0m3-2h0m210-1h0m180 1h0m-477 17h0m11-4h0m42 5h0m255-7h0m15 6h0m8-7h0m153-1h0m25 2h0m-513 15h0m26-4h0m6 1h0m10 0h0m23 5h0m31-5h0m18 4h0m101 2h0m6-3h0m27-3h0m0 3h0m53-6h0m3 4h0m233 1h0m-493 9h0m25-1h0m6 1h0m9 0h0m18 2h0m30 6h0m80-10h0m31 6h0m248 5h0m15-5h0m-502 9h0m5-1h0m12 4h0m3-4h0m213 9h0m9-3h0m66-8h0m198 5h0m11 3h0m2-3h0m6 3h0m1-6h0m14 8h0m25-9h0m-560 19h0m16-1h0m14-2h0m89-3h0m1 7h0m23-7h0m77-1h0m4 5h0m68-3h0m124 4h0m98-6h0m-369 14h0m145 8h0m6-11h0m1 0h0m20 8h0m3-3h0m4 4h0m3-5h0m5 6h0m25-4h0m42 3h0m0-3h0m10 2h0m4 1h0m103-4h0m25-4h0m8 0h0m20 7h0m-349 10h0m89 4h0m21-1h0m1 2h0m27-2h0m173-9h0m-381 17h0m165-5h0m7 3h0m8 0h0m31 2h0m1-3h0m13 0h0m52 4h0m-294 12h0m98 0h0m98-4h0m34 3h0m-240 12h0m99 6h0m8-9h0m136 3h0m36 5h0m-186 7h0m178-5h0m2 3h0m7 8h0m-344 11h0m18 0h0m17 0h0m2-7h0m27-2h0m289 4h0m5 0h0m-333 14h0" stroke="#828282" stroke-width="7"/>
<path d="M29 6h0m0 4h0m62-8h0m27 9h0m1-2h0m35-7h0m20 5h0m6-3h0m13 2h0m62-2h0m109-2h0m23-1h0m153 1h0m17 0h0m-544 10h0m114 5h0m20-1h0m13 3h0m10-3h0m19 3h0m156-5h0m8 7h0m31-7h0m135-2h0m27 5h0m12-1h0m10-2h0m-474 12h0m12 8h0m40 0h0m24-3h0m17 4h0m202-8h0m143 1h0m6 3h0m-443 5h0m259 8h0m19-1h0m5-2h0m33-4h0m2 1h0m121 3h0m-223 14h0m47 0h0m-259 13h0m227-6h0m92 9h0m-314 5h0m247-1h0m8 6h0m7-1h0m55 3h0m-252 17h0m178-3h0m79 0h0m8 10h0m-109 12h0m6-3h0m2 1h0m13-2h0m91-6h0m-419 16h0m209-3h0m47 4h0m84-5h0m52 9h0m42-9h0m-423 12h0m34 1h0m40 9h0m129-5h0m40 0h0m5 0h0m2 4h0m75-10h0m68 3h0m78-1h0m66 6h0m21 3h0m3-9h0m2-2h0m-583 14h0m52 0h0m6 2h0m53 0h0m7-3h0m102 1h0m4 7h0m9-3h0m294-6h0m6 4h0m26-2h0m0 6h0m12 1h0m-528 14h0m5-4h0m30-3h0m18 1h0m25-2h0m78 6h0m14-1h0m320-2h0m50 2h0m-508 11h0m49-3h0m2 3h0m92-4h0m54 3h0m1-4h0m150 3h0m33 5h0m62-10h0m3 9h0m-519 12h0m39-6h0m2-3h0m210 4h0m6-3h0m12 0h0m289 10h0m2-2h0m10-1h0m10 2h0m-504 2h0m163 0h0m9 7h0m5-4h0m32 3h0m-292 6h0m39 8h0m19-2h0m20-6h0m1 5h0m126-4h0m15 10h0m0-11h0m223 5h0m44 2h0m13 3h0m10-3h0m-498 6h0m28 6h0m1 4h0m34-1h0m118-6h0m96-4h0m-284 13h0m29 6h0m133 2h0m32-3h0m168 5h0m159-8h0m-525 12h0m16-1h0m6 5h0m21-7h0m38 2h0m3-2h0m8 8h0m2-8h0m0 8h0m5 3h0m70-11h0m8 9h0m24-2h0m8 0h0m16 0h0m140-7h0m6 4h0m16 2h0m8 3h0m49-7h0m-269 19h0m92 1h0m128-8h0m52-1h0m127 1h0m-493 19h0m24-3h0m35-3h0m1 2h0m28 2h0m174-5h0m55 5h0m7 2h0m1-4h0m9-3h0m130 8h0m3-2h0m16-3h0m-562 14h0m22-6h0m4 0h0m17 1h0m12 0h0m1 7h0m8-4h0m15 0h0m7-2h0m50 1h0m11 5h0m24-7h0m345 6h0m38 1h0m-550 14h0m9-9h0m37 0h0m2 9h0m2-4h0m44 4h0m268-3h0m126-6h0m35-1h0m5 7h0m-448 4h0m9 10h0m152-4h0m6 3h0m2-3h0m-251 6h0m10 1h0m77 6h0m12-7h0m12 5h0m154-5h0m1 3h0m9-2h0m1 1h0m245 2h0m17 4h0m-439 6h0m7 9h0m146 0h0m10-5h0m13 4h0m80-4h0m7 3h0m-368 9h0m18 5h0m8-2h0m59-7h0m188 5h0m12 3h0m98-6h0m130 3h0m18 1h0m3-6h0m16 5h0m7 2h0m-557 9h0m30-3h0m16 7h0m217-5h0m264 2h0m1-5h0m1 6h0m12-8h0m-532 21h0m1-9h0m9 3h0m13 4h0m0 4h0m28-2h0m7 1h0m3 1h0m181-2h0m315-7h0m22 0h0m-549 12h0m33 6h0m160-8h0m2 3h0m328 1h0m5 1h0m2 2h0m-559 16h0m12-9h0m54 0h0m174 3h0m50-5h0m28 8h0m14 0h0m175 2h0m1 0h0m16-10h0m-513 21h0m24-6h0m19 7h0m239 0h0m2-3h0m4-7h0m19 2h0m1-1h0m4 5h0m12-1h0m143 0h0m9 4h0m16-3h0m7 4h0m-510 7h0m18-1h0m4-1h0m1 2h0m31-5h0m22 4h0m0 7h0m192-5h0m8-5h0m4 6h0m12-5h0m18 3h0m15 0h0m3 0h0m7-3h0m136 4h0m1-6h0m17 4h0m11-1h0m-506 14h0m8-1h0m27 0h0m6 3h0m44-2h0m216 1h0m20 2h0m20-5h0m142 6h0m14-9h0m-480 18h0m15 5h0m91-7h0m165 1h0m29 2h0m22 2h0m38-6h0m117 8h0m32 0h0m2-3h0m-471 7h0m3 6h0m23-7h0m13-1h0m32 3h0m167-4h0m135 10h0m63-3h0m59 3h0m2-7h0m10 7h0m6-3h0m-565 11h0m40 4h0m43-10h0m18 2h0m23 0h0m8 0h0m24 5h0m54 0h0m13 3h0m10-2h0m58 0h0m88-4h0m15 1h0m26-2h0m73 1h0m17 1h0m8 6h0m10-1h0m21-4h0m-507 6h0m95 0h0m182 11h0m6-1h0m71-3h0m25 4h0m130-8h0m-417 9h0m12 6h0m88 2h0m57-6h0m5 4h0m21-5h0m6 0h0m6 5h0m8-2h0m46 1h0m15 6h0m7-11h0m16 6h0m2 1h0m4 2h0m1 1h0m2-5h0m11-4h0m72 7h0m-289 5h0m90 9h0m20-10h0m252 4h0m-273 11h0m29 5h0m5 0h0m20-2h0m14 0h0m1 2h0m217-2h0m-374 17h0m168-2h0m13-4h0m-301 17h0m251-8h0m56 7h0m-337 5h0m7 2h0m27 0h0m11 6h0m-58 5h0m24 10h0m25 6h0m1-7h0" stroke="#828282" stroke-width="9"/>
<path d="M12 7h0m21-5h0m31 6h0m84-8h0m7 10h0m205-9h0m13 0h0m50 0h0m123 5h0m-387 12h0m200 0h0m1-6h0m172 5h0m5 4h0m3 1h0m0-5h0m5 6h0m7 0h0m14-1h0m-444 5h0m35 2h0m262 6h0m-54 5h0m6 3h0m13 0h0m17 0h0m-37 9h0m5-4h0m2 9h0m-4 12h0m-260 16h0m18 9h0m8-6h0m213 17h0m-109 14h0m-236 6h0m15 0h0m15 3h0m12 2h0m26-2h0m54-1h0m126 2h0m11-9h0m183 0h0m-436 15h0m3 5h0m81 1h0m27-7h0m21 8h0m75-3h0m4-6h0m16 0h0m43 2h0m276-1h0m15 3h0m7-1h0m0 5h0m2-2h0m7-7h0m-561 14h0m10 5h0m10 0h0m13 0h0m3-2h0m35-5h0m12 10h0m2-2h0m98 0h0m53-4h0m7 0h0m-250 9h0m4 0h0m6 8h0m66-9h0m114 7h0m9-2h0m13 6h0m215-1h0m102-9h0m5 5h0m1-1h0m19-3h0m13 1h0m-575 14h0m7 5h0m122-3h0m2 4h0m101-2h0m33 2h0m168-9h0m93 9h0m-533 12h0m14-4h0m34-4h0m7 2h0m10-4h0m4 1h0m16-2h0m9 11h0m125-10h0m10 4h0m31 6h0m21-7h0m259-1h0m14-1h0m-543 12h0m18 4h0m42 4h0m3-6h0m181-2h0m5-2h0m-261 20h0m3-3h0m19-4h0m24 9h0m23-9h0m126 6h0m25-1h0m1 0h0m-211 9h0m73-1h0m0 4h0m118 3h0m5-3h0m-197 13h0m17-7h0m1 1h0m16 7h0m13-7h0m30 10h0m9-10h0m100 6h0m6 0h0m228 12h0m10-2h0m132 2h0m-556 6h0m0 2h0m29 6h0m11-3h0m42-5h0m10-1h0m81 7h0m2 3h0m15-10h0m209 8h0m1 1h0m156-6h0m5 4h0m-555 11h0m5-6h0m10 7h0m3-5h0m50 0h0m58 2h0m9 2h0m97 3h0m25-8h0m-248 18h0m4 3h0m22-6h0m58-2h0m9 1h0m47 0h0m186 2h0m-260 17h0m15-5h0m249 1h0m154-6h0m16 6h0m7-3h0m-527 11h0m23 9h0m37-3h0m6-7h0m13 2h0m8 1h0m15 5h0m0-3h0m24 3h0m-116 4h0m11 9h0m55-1h0m10-3h0m-79 8h0m73 3h0m197 4h0m9-2h0m-296 12h0m45-1h0m10 1h0m1 2h0m239 1h0m76 1h0m-323 9h0m477 1h0m37-4h0m1 4h0m-563 9h0m3-4h0m33 5h0m12 0h0m234 1h0m244 3h0m2-9h0m1 8h0m76 1h0m-590 9h0m16-7h0m251 2h0m6 8h0m254-8h0m18 3h0m43-6h0m-595 19h0m6-2h0m15 2h0m28-3h0m15 3h0m229-7h0m31 7h0m-311 14h0m26-8h0m248 3h0m15 5h0m16-4h0m167 1h0m4-2h0m-486 10h0m60 8h0m14-9h0m232 7h0m30-4h0m152-4h0m-497 14h0m12 7h0m30 0h0m43-7h0m236-1h0m13 7h0m4 0h0m147 0h0m-482 8h0m62 7h0m282-11h0m-326 13h0m35 1h0m17 8h0m59-1h0m89-5h0m282-1h0m23 7h0m31-5h0m-553 17h0m31-7h0m20 1h0m168 3h0m181 3h0m133-9h0m14 10h0m-404 10h0m181-1h0m105 1h0m-278 10h0m9-6h0m158 2h0m236-3h0m-254 20h0m11 3h0m18-10h0m1 5h0m17 0h0m68-6h0m-18 19h0m-36 13h0m24 2h0m22-4h0m18-5h0m-339 35h0" stroke="#8c8c8c" stroke-width="6"/>
<path d="M120 3h0m33 6h0m259-8h0m119 2h0m-445 14h0m16 3h0m19-8h0m0 10h0m18-10h0m12 6h0m395 0h0m18-6h0m-459 14h0m31 6h0m5-6h0m23 2h0m195 17h0m15 1h0m162-5h0m-171 22h0m12 1h0m-251 18h0m2 0h0m219-1h0m19-9h0m2 15h0m-29 14h0m82 2h0m-400 15h0m106 0h0m121 1h0m78-4h0m10 4h0m-293 9h0m74-8h0m110 1h0m39 4h0m73-5h0m88 1h0m19 8h0m-377 9h0m15-3h0m9 1h0m8-2h0m114 9h0m31-11h0m26 4h0m145 5h0m5-1h0m113-1h0m1-2h0m30 4h0m-557 7h0m20 4h0m23 0h0m48-1h0m32 1h0m85-4h0m1 4h0m25 1h0m17-5h0m163 4h0m150-3h0m0 6h0m-521 6h0m12 5h0m27-10h0m132 3h0m30 4h0m2 1h0m13-1h0m264-2h0m21-2h0m6 5h0m29-5h0m-581 12h0m62 6h0m0 2h0m14-6h0m9-4h0m123 1h0m13 3h0m33 4h0m169-3h0m107-2h0m6 1h0m-540 8h0m18 6h0m21-5h0m89-1h0m83 2h0m5 3h0m22 2h0m4-6h0m28 7h0m8-1h0m163-2h0m127-4h0m7 2h0m4 5h0m-537 14h0m168-10h0m8 2h0m49-3h0m-259 13h0m80 9h0m105-7h0m32-3h0m-197 13h0m8 0h0m33 7h0m16-4h0m124-3h0m4 10h0m2-11h0m-195 14h0m22 1h0m18-1h0m2 8h0m130 1h0m4-9h0m15 5h0m2 2h0m10-6h0m-213 20h0m85-10h0m76 9h0m43-9h0m201 8h0m6 1h0m-422 6h0m71 1h0m15 2h0m79-6h0m8 5h0m14-1h0m231-4h0m12 0h0m134 8h0m-469 8h0m50 4h0m31-3h0m1 3h0m235-6h0m-389 19h0m39-6h0m43-4h0m4 8h0m18-3h0m116 1h0m112 0h0m151 0h0m5 3h0m17-4h0m-478 10h0m301 2h0m4 2h0m14-7h0m107 7h0m0 3h0m1-1h0m67-6h0m-518 13h0m53 7h0m28-1h0m21-6h0m3 5h0m3-6h0m6 8h0m114 0h0m7-4h0m-243 15h0m47-10h0m5 8h0m8 3h0m15-7h0m7 5h0m30-4h0m-45 15h0m10 3h0m28-4h0m175 4h0m-295 10h0m24 0h0m23 0h0m13-2h0m14-2h0m205-2h0m94 3h0m164-2h0m5 4h0m-543 11h0m31-2h0m12-1h0m230 5h0m5 1h0m12-10h0m229 11h0m-453 9h0m199-6h0m286 1h0m11-1h0m9 7h0m26-4h0m3 3h0m-305 5h0m3 1h0m241 6h0m10-7h0m23 2h0m0-2h0m9 4h0m6-4h0m-565 14h0m17 5h0m6-1h0m12-6h0m23 5h0m1 2h0m-83 10h0m7-2h0m48-3h0m26 7h0m223-8h0m14 3h0m23 2h0m0 4h0m-338 9h0m16-5h0m19 0h0m40 7h0m226 2h0m174-5h0m30 1h0m-509 16h0m7-10h0m15 7h0m4-7h0m45 9h0m222-2h0m28-5h0m1 7h0m4-6h0m6 1h0m142 0h0m13 6h0m-461 5h0m2-3h0m9 5h0m13-3h0m22 0h0m228-1h0m-289 17h0m2-5h0m6 1h0m5 7h0m11 2h0m3 0h0m46-7h0m357 6h0m69-4h0m5 3h0m3-6h0m26 7h0m13-2h0m-546 9h0m1 4h0m12-2h0m23-2h0m3-4h0m10 6h0m181-4h0m3 6h0m176-1h0m7 1h0m5-3h0m16 4h0m63-10h0m1 3h0m43 4h0m-331 7h0m7 7h0m5-2h0m172 0h0m20 0h0m9-5h0m16 1h0m2-3h0m3 3h0m72 7h0m18-9h0m20 0h0m-260 14h0m9-2h0m97 4h0m15-4h0m5 3h0m105 0h0m-209 8h0m4 6h0m6 0h0m-15 16h0m7-3h0m19-6h0m19 1h0m25 3h0m24 12h0m4-2h0m16 2h0m-25 9h0m12 6h0m-325 14h0m320-3h0m2 3h0m-306 7h0" stroke="#8c8c8c" stroke-width="7"/>
<path d="M18 8h0m29 0h0m6 2h0m43 1h0m5-10h0m60 0h0m382 5h0m30 2h0m-441 15h0m48-8h0m196 7h0m41-10h0m136 3h0m-410 17h0m16-8h0m16 3h0m189 1h0m7 5h0m0 2h0m36-11h0m-46 13h0m15 7h0m-11 16h0m15 2h0m-253 29h0m227-4h0m65 5h0m-300 9h0m2 2h0m13-7h0m201 10h0m22 1h0m61 0h0m-188 12h0m7 0h0m201-4h0m-436 14h0m3-4h0m25-4h0m33 7h0m31-2h0m10 5h0m10-10h0m20 4h0m112-4h0m2 1h0m8 2h0m184 0h0m-431 19h0m3-4h0m5-3h0m10 5h0m19-6h0m31 8h0m47-9h0m1-1h0m8 2h0m107 5h0m36-6h0m149-1h0m13 10h0m5-7h0m131 3h0m5-1h0m-547 17h0m2-6h0m69 5h0m17-6h0m135 7h0m22-5h0m171-3h0m-446 12h0m21 5h0m29-3h0m8 1h0m84-4h0m80 7h0m3-9h0m18 7h0m26 3h0m164-9h0m99 7h0m26-2h0m-511 11h0m0 2h0m3-4h0m5-2h0m5 2h0m6 5h0m24-6h0m54 5h0m71 2h0m6-2h0m4-4h0m299 5h0m4-8h0m21 10h0m6-6h0m15 0h0m11 3h0m-575 10h0m4 3h0m18 0h0m6-6h0m2 8h0m23-2h0m22-6h0m11 4h0m189-6h0m153 2h0m144-2h0m9 3h0m-566 14h0m22 6h0m20 0h0m12 0h0m-75 3h0m16-2h0m69 11h0m5 0h0m107-10h0m-173 19h0m16-5h0m32 0h0m26 0h0m0 0h0m88 4h0m-166 13h0m34-7h0m16 9h0m15 0h0m17-1h0m87-2h0m9 3h0m3-5h0m7-5h0m13 6h0m-222 13h0m32 1h0m9-5h0m19 7h0m97-1h0m17-9h0m18 8h0m14 1h0m164-1h0m39-1h0m8 3h0m11 0h0m-421 10h0m8-2h0m45 2h0m35-2h0m13-3h0m41 6h0m24-3h0m3 3h0m4-1h0m1 0h0m3-1h0m0-6h0m19 1h0m52 8h0m4 1h0m17-6h0m141 5h0m-405 4h0m60 5h0m97 0h0m19-4h0m1 8h0m45-11h0m324 7h0m-514 14h0m11-4h0m42 2h0m9 2h0m21-7h0m32 6h0m15 3h0m195-5h0m142 3h0m2 1h0m24-8h0m-473 19h0m24-2h0m8-7h0m14 3h0m378 4h0m23-6h0m-447 18h0m23-3h0m16 5h0m0 1h0m9-4h0m10 2h0m3-6h0m-122 15h0m23 0h0m60-4h0m12 5h0m10-4h0m158 1h0m6-3h0m-249 16h0m8-3h0m10 7h0m24 0h0m2-6h0m5 9h0m33-7h0m5 2h0m8 5h0m8-11h0m167 11h0m5-2h0m74 1h0m-304 13h0m17-9h0m212 5h0m77-4h0m9 2h0m145-1h0m16 3h0m0 3h0m19-3h0m-559 10h0m15 2h0m12 0h0m243 0h0m-252 12h0m25 3h0m225-4h0m14 5h0m265-5h0m20-1h0m5 3h0m-541 9h0m4 2h0m23 4h0m509-6h0m11-4h0m-580 18h0m17-4h0m21 2h0m247-3h0m28 5h0m15 2h0m-316 4h0m40 5h0m2-1h0m1-4h0m16 6h0m19-5h0m388-1h0m3-1h0m-463 21h0m24 0h0m10 0h0m7-4h0m242 2h0m40-3h0m158 2h0m-469 17h0m2-8h0m16-1h0m14 4h0m235 1h0m6-1h0m14-4h0m24-2h0m154 7h0m-494 13h0m6-5h0m11-2h0m12 4h0m12-3h0m21 6h0m7-5h0m272 0h0m158-2h0m-472 16h0m54 3h0m425 2h0m15-9h0m2 6h0m3 0h0m39 0h0m-563 12h0m34-2h0m188-5h0m183 11h0m11 0h0m27-10h0m76 4h0m6 3h0m10 0h0m-495 7h0m115-1h0m71 4h0m7-6h0m86 10h0m100-3h0m3-7h0m-113 20h0m16-1h0m94-4h0m12 1h0m15-3h0m109 4h0m-245 17h0m17-10h0m3 6h0m20 3h0m53 2h0m-97 1h0m13 6h0m4-5h0m42 4h0m7-2h0m-3 9h0m6 2h0m4 5h0m3 0h0m34 6h0m3 18h0m-308 7h0" stroke="#8c8c8c" stroke-width="9"/>
<path d="M542 11h0m-167 12h0m171-11h0m-410 13h0m228 2h0m1 2h0m178-3h0m5 4h0m6-4h0m-199 55h0m-3 9h0m-5 19h0m-333 22h0m222-7h0m22 2h0m-231 7h0m8 0h0m19 6h0m26-1h0m5 1h0m149-6h0m1 1h0m27 3h0m14 6h0m273-2h0m29-1h0m-573 15h0m11-8h0m36 0h0m203 0h0m20 8h0m5 0h0m266-2h0m9-4h0m12-4h0m-548 14h0m18 8h0m45-8h0m11-2h0m11-1h0m14 3h0m132-1h0m328 7h0m-516 9h0m83 1h0m90 4h0m314-10h0m-301 18h0m19-6h0m289 0h0m11 2h0m7 2h0m-559 27h0m4-4h0m7-1h0m58 4h0m127 2h0m-206 5h0m67 9h0m131-2h0m-137 13h0m6-9h0m-53 20h0m6-7h0m10 0h0m45 7h0m2-8h0m6 5h0m73 5h0m406 0h0m-476 11h0m4 1h0m103-6h0m368-4h0m-552 17h0m55-6h0m26 4h0m6 5h0m8-2h0m141-5h0m-216 11h0m7 2h0m58 8h0m0-5h0m19 4h0m15-3h0m2 3h0m114-7h0m-227 10h0m2 1h0m27 0h0m9 6h0m7 1h0m22-1h0m11-7h0m13 2h0m25-3h0m-128 18h0m3-6h0m105 5h0m9-5h0m-15 14h0m-105 12h0m60 8h0m300-2h0m-86 4h0m8 7h0m269 15h0m5-7h0m-286 22h0m263-1h0m-491 22h0m-31 3h0m12 6h0m22-5h0m18 4h0m-25 48h0m463 2h0m-501 10h0m39 5h0m496-6h0m14 0h0m7 5h0m-119 7h0m86-4h0m-103 12h0m116 1h0m4 3h0m-197 18h0" stroke="#969696" stroke-width="6"/>
<path d="M559 7h0m-6 19h0m8 1h0m-191 20h0m-22 42h0m2 20h0m-343 16h0m22-2h0m191 6h0m14 2h0m12-6h0m-218 15h0m33-1h0m49-2h0m20-3h0m117 1h0m27 2h0m306 5h0m-555 8h0m17-1h0m29-1h0m45-2h0m117 2h0m26 2h0m6-4h0m2-1h0m276 8h0m20-3h0m-547 12h0m5-3h0m4 8h0m3-10h0m3 1h0m198 8h0m5-2h0m38-1h0m273 2h0m27-5h0m-355 19h0m50-9h0m282-1h0m31 10h0m-565 12h0m225-5h0m36-4h0m-269 11h0m38 2h0m-39 12h0m37-3h0m34 5h0m114 5h0m2 1h0m-175 10h0m49-4h0m20-5h0m121 1h0m-173 11h0m22 10h0m8 0h0m0-8h0m22 0h0m100 6h0m-185 4h0m6 6h0m4-1h0m2-1h0m33 3h0m8 0h0m-9 8h0m32 8h0m79-1h0m3-2h0m17-1h0m10 2h0m-174 4h0m76 5h0m71 5h0m-141 8h0m89-5h0m5 1h0m6 2h0m15 6h0m10-2h0m10-4h0m-102 12h0m25 0h0m1 4h0m41 0h0m5 1h0m238-6h0m-346 13h0m78 2h0m1-3h0m3-2h0m42 1h0m-134 9h0m64 1h0m31 7h0m8 1h0m21-2h0m-20 14h0m24-3h0m153 19h0m242-1h0m6 9h0m10 2h0m16 0h0m-287 10h0m7-6h0m8 0h0m4 2h0m-7 7h0m257 0h0m-529 17h0m41-1h0m15 5h0m-57 50h0m32-2h0m3-2h0m20-7h0m-34 21h0m22 9h0m467 5h0m5-11h0m-220 32h0m109-4h0m4 1h0m1-4h0m-18 32h0" stroke="#969696" stroke-width="7"/>
<path d="M370 10h0m-15 11h0m7-8h0m164 8h0m10-2h0m27 3h0m-6 2h0m11 4h0m-211 17h0m7-4h0m-129 85h0m2-5h0m3 6h0m-240 9h0m14-4h0m25 2h0m20 9h0m33-7h0m13 3h0m114-6h0m319 5h0m1 5h0m-520 10h0m82-6h0m9-2h0m120 0h0m317 1h0m27 2h0m10 0h0m-576 19h0m2-9h0m80-1h0m9 0h0m22 4h0m103 2h0m9 4h0m317-8h0m31-1h0m-568 15h0m6 4h0m31-1h0m13-7h0m175 6h0m3 2h0m29-4h0m309-5h0m-537 18h0m28 5h0m2-9h0m-70 18h0m2-4h0m3-3h0m7 6h0m23 3h0m4-4h0m4 0h0m0 2h0m5-2h0m-33 16h0m2-2h0m16 1h0m8-1h0m28-5h0m14 3h0m2 3h0m-83 13h0m51-7h0m34 3h0m-73 15h0m6-3h0m72-4h0m3 3h0m-58 18h0m6-10h0m36 0h0m8 0h0m17 0h0m94 8h0m-191 4h0m12 0h0m2 2h0m1 0h0m14 3h0m41-4h0m3-1h0m5 7h0m84-6h0m248 0h0m-387 15h0m38 0h0m9 4h0m101-4h0m72 5h0m-219 2h0m49 8h0m11-5h0m3-2h0m268 7h0m-341 11h0m8-1h0m21 4h0m24 1h0m2-2h0m3 2h0m50-1h0m2-8h0m400 2h0m-439 11h0m3-2h0m-91 20h0m13-4h0m74 1h0m33-4h0m-106 16h0m76-2h0m35 4h0m149 8h0m12-1h0m1 16h0m236 4h0m-253 9h0m256-6h0m31 0h0m-273 11h0m246 0h0m42 6h0m-521 14h0m6-8h0m-41 20h0m4 2h0m24-11h0m29 0h0m229 4h0m-267 20h0m8 5h0m284-2h0m-318 15h0m23-5h0m20 3h0m-24 12h0m17-1h0m396 10h0m117 10h0m-146 11h0m5-4h0m-95 7h0m83 2h0m42 1h0m1 0h0m-134 16h0m88 13h0" stroke="#969696" stroke-width="9"/>
<path d="M551 23h0m-483 176h0m-45 8h0m-5 22h0m78 7h0m-13 22h0m16-6h0m-23 22h0m16 1h0m2 17h0m-9 19h0m14-4h0m5-2h0m12 3h0m-4 7h0m19 3h0m-30 6h0m0 1h0" stroke="#a0a0a0" stroke-width="6"/>
<path d="M243 135h0m27 44h0m-228 31h0m-19 9h0m4 2h0m34 6h0m-3 11h0m21-9h0m-44 24h0m9 1h0m15 0h0m39 12h0m-11 24h0m0 15h0m3 4h0m19-8h0m8 1h0m-18 13h0m18 9h0m14 6h0" stroke="#a0a0a0" stroke-width="7"/>
<path d="M542 27h0m-511 164h0m221-11h0m-232 18h0m16 14h0m22 2h0m28-3h0m-34 12h0m3 15h0m-18 2h0m40 7h0m-5 5h0m-43 15h0m67 5h0m-24 7h0m20 5h0m-68 6h0m78 1h0m15-3h0m-98 14h0m71 19h0m23-2h0m22 2h0m-50 7h0" stroke="#a0a0a0" stroke-width="9"/>
<path d="M97 320h0" stroke="#aaaaaa" stroke-width="6"/>
<path d="M115 305h0m6 10h0m6 2h0" stroke="#aaaaaa" stroke-width="7"/>
<path d="M443 11h0m-145 12h0m12 8h0m20 0h0m2-3h0m270 6h0m-597 1h0m31 4h0m36 6h0m-47 10h0m108 1h0m298-9h0m109 7h0m45 4h0m-372 12h0m220-6h0m10 2h0m-393 15h0m3-5h0m381-5h0m83 11h0m-427 12h0m507-7h0m-517 16h0m427-1h0m-222 6h0m191 2h0m36-3h0m12 5h0m26 11h0m-349 11h0m401 13h0m-228 29h0m-214 20h0m441 0h0m-433 10h0m-53 18h0m34-5h0m191 3h0m65 0h0m172-7h0m3 8h0m-97 6h0m5 3h0m4 2h0m104 16h0m-467 4h0m291 20h0m177-1h0m-391 25h0m119-7h0m-96 9h0m3 22h0m235-3h0m-270 16h0m139 10h0m2 0h0m66-9h0m190 2h0m-286 9h0m-110 23h0m255 8h0m14-1h0m-33 15h0m112 14h0m-385 8h0m298-7h0m-6 14h0m22 43h0m-195 16h0m-238 20h0m511 20h0m-348 14h0m140 16h0m200-2h0m-152 7h0m0-2h0m2 6h0m6-8h0m65 6h0m124 3h0m12-8h0m-214 13h0m99 2h0m9-3h0m64-1h0" stroke="#5a5a5a" stroke-width="3.0" stroke-opacity="0.8"/>
<path d="M249 19h0m198-5h0m-417 16h0m193-2h0m30 1h0m189-1h0m65 6h0m-177 5h0m109 2h0m-410 12h0m47 0h0m83-4h0m307 4h0m111 4h0m-449 2h0m5 5h0m85 5h0m46-1h0m4 1h0m-51 10h0m308-8h0m-430 15h0m195 8h0m217-3h0m-413 4h0m126 4h0m233 3h0m78-2h0m38 3h0m-497 4h0m24 4h0m174 2h0m101-3h0m25 8h0m134-1h0m-379 9h0m429-7h0m-192 13h0m-36 29h0m42 1h0m-6 6h0m-8 19h0m-247 13h0m262 2h0m205 0h0m-475 12h0m250-9h0m-225 17h0m236-1h0m186-3h0m30 7h0m-344 13h0m75-4h0m172 1h0m-385 21h0m372-3h0m96 0h0m13 7h0m-158 8h0m4 0h0m137-4h0m-129 22h0m-126 2h0m-165 15h0m443 2h0m-403 7h0m-19 12h0m5 0h0m44 6h0m170-3h0m201-1h0m-288 17h0m-180 10h0m271 3h0m-250 5h0m28 8h0m123-1h0m90-2h0m-227 9h0m27-2h0m315 4h0m76 9h0m-430 16h0m35-2h0m250-1h0m-304 11h0m80 4h0m331-3h0m8-4h0m0 1h0m48 0h0m-469 20h0m6 1h0m13 1h0m21-3h0m55-5h0m-51 14h0m13 29h0m407 6h0m2 3h0m-410 14h0m-124 5h0m503 20h0m-26 3h0m8 1h0m-526 13h0m6 10h0m442-1h0m-307 12h0m7 5h0m95 4h0m29-3h0m39-4h0m45 5h0m109 3h0m62-1h0" stroke="#5a5a5a" stroke-width="3.5" stroke-opacity="0.8"/>
<path d="M490 5h0m-468 17h0m263-2h0m177-7h0m34-1h0m-474 21h0m215-6h0m24 0h0m56 2h0m-256 7h0m236 8h0m0-9h0m-286 17h0m122 5h0m18 0h0m149-8h0m205 7h0m52-6h0m-478 19h0m412-3h0m102 0h0m3-1h0m-545 9h0m20 7h0m88-3h0m116 0h0m127-1h0m-102 6h0m156 3h0m-385 24h0m214 7h0m88-3h0m-174 8h0m180-1h0m-21 34h0m37 7h0m91 0h0m114-4h0m3 18h0m-219 19h0m208 5h0m-464 32h0m260-3h0m84 9h0m30-4h0m102 1h0m-124 9h0m19 17h0m85-2h0m-273 15h0m292-6h0m-194 11h0m27 0h0m142-4h0m-249 13h0m-144 14h0m9 4h0m388-2h0m-419 14h0m58 3h0m-52 5h0m170 0h0m3-1h0m-183 43h0m36-7h0m-42 11h0m28 2h0m262 28h0m7-6h0m-262 13h0m51 3h0m1-1h0m325-1h0m-399 16h0m282-6h0m-260 17h0m163 17h0m0 7h0m-155 13h0m-134 14h0m228 0h0m-2 3h0m-269 16h0m529 2h0m-69 17h0m6 11h0m-442 5h0m9 1h0m260-3h0m145 5h0m51 0h0m-4 12h0m24-4h0m4 5h0m11-6h0m-155 14h0m73 3h0m28 1h0m91-4h0" stroke="#5a5a5a" stroke-width="4.5" stroke-opacity="0.8"/>
<path d="M27 18h0m20 1h0m214-4h0m68 5h0m-298 13h0m180-9h0m90 1h0m-238 18h0m85 1h0m161 1h0m24-9h0m161 0h0m78 7h0m9-8h0m-544 22h0m45-6h0m49 0h0m3 1h0m109-2h0m-174 17h0m226 3h0m50-5h0m171-1h0m-435 7h0m89 10h0m38-1h0m191-8h0m67 5h0m48 3h0m-471 11h0m172-5h0m37 3h0m182-1h0m121 3h0m-527 7h0m27-2h0m338 2h0m87 4h0m128-1h0m-501 6h0m60 10h0m10-4h0m27 4h0m320-2h0m-448 6h0m77 2h0m51 3h0m95 1h0m257-1h0m-173 22h0m108-3h0m-118 15h0m230 0h0m-252 10h0m55 16h0m197-5h0m-33 21h0m-405 8h0m447-3h0m-189 11h0m3 8h0m-86 6h0m20-5h0m34 2h0m186 6h0m-314 7h0m85-1h0m-229 12h0m342 10h0m-150 21h0m81 1h0m64-8h0m-288 20h0m230-4h0m-226 16h0m27-9h0m2 9h0m198-5h0m-173 8h0m11-1h0m162 3h0m109 3h0m-316 6h0m142 6h0m2-2h0m8 5h0m47-2h0m-295 15h0m24 8h0m5-3h0m28 4h0m70 3h0m-115 8h0m60 4h0m7-1h0m17-9h0m-42 21h0m222 4h0m0 2h0m95 3h0m120-6h0m-348 22h0m286 0h0m11 1h0m6-3h0m15-7h0m-459 20h0m135-6h0m303 11h0m58-1h0m-173 13h0m-67 15h0m-7 13h0m-156 9h0m79 7h0m-231 2h0m410 17h0m12 5h0m-388 12h0m438 1h0m29-8h0m-487 9h0m250 4h0m157 4h0m14-7h0m89 9h0m-401 13h0m278-10h0m25 1h0m82 6h0m13 1h0m-556 14h0m40-7h0m204 0h0m67 0h0m239 6h0m-394 2h0m11 10h0m1-10h0m164 4h0m42-2h0m65 1h0m-433 12h0m1-1h0m1-2h0m40 4h0m128 1h0m20-4h0m61 0h0m77 3h0m46 3h0m17-6h0m33 6h0m146 1h0" stroke="#646464" stroke-width="3.0" stroke-opacity="0.8"/>
<path d="M442 9h0m-185 9h0m52 2h0m-54 6h0m75-3h0m95 7h0m-398 12h0m220-1h0m180 2h0m153-3h0m-573 15h0m8-7h0m66 7h0m70-5h0m75 0h0m59 14h0m5-3h0m114 7h0m122-3h0m-14 7h0m-306 22h0m94-10h0m3 10h0m89-10h0m140-1h0m58 5h0m-87 14h0m-398 6h0m64 10h0m43-11h0m-9 23h0m95-6h0m229-4h0m35 3h0m-402 12h0m27-3h0m2 3h0m9 6h0m96 1h0m84 3h0m7 0h0m0-2h0m16 11h0m97-5h0m99-2h0m-208 16h0m88-8h0m-312 24h0m1 7h0m0-7h0m23 6h0m163 1h0m253-6h0m-14 19h0m-428 5h0m370 1h0m16-1h0m-204 14h0m124 7h0m-217 13h0m11-6h0m8 2h0m61 4h0m136-4h0m2-7h0m-344 18h0m-6 12h0m202 17h0m14 0h0m145-10h0m-161 17h0m258 2h0m-374 14h0m34-3h0m30-7h0m332 6h0m-253 13h0m169 4h0m3-4h0m-284 10h0m158 1h0m172 0h0m-386 12h0m19-6h0m148 5h0m6-5h0m-240 20h0m291-8h0m-286 14h0m108 8h0m5-1h0m169 2h0m192-2h0m-487 5h0m18 5h0m277 3h0m-309 4h0m21-2h0m326 20h0m-249 15h0m24-6h0m41-1h0m347 0h0m-503 15h0m12-6h0m18 2h0m7 7h0m84-7h0m23 6h0m8 1h0m202-8h0m8 1h0m75-2h0m67 3h0m-424 19h0m39-7h0m209 1h0m173 0h0m2 4h0m-451 3h0m277 5h0m-88 18h0m67-9h0m0 3h0m205 10h0m1 1h0m-140 16h0m-257 22h0m220 2h0m27 2h0m8 0h0m112-5h0m-525 10h0m510-3h0m2 2h0m5 5h0m3-3h0m-507 15h0m96 3h0m6-2h0m17 3h0m263 0h0m56-4h0m1-7h0m-449 12h0m0 7h0m130 1h0m3-3h0m56 1h0m8-3h0m201-1h0m25 1h0m96-2h0m-370 13h0m130 6h0m158 1h0m115-5h0m-611 14h0m5-6h0m244 10h0m81-8h0m59 8h0m75-7h0m9 1h0m-426 8h0m301 6h0m110-4h0m76 8h0" stroke="#646464" stroke-width="3.5" stroke-opacity="0.8"/>
<path d="M488 5h0m-469 16h0m1 0h0m4-3h0m205 1h0m25 0h0m176-8h0m30 1h0m31 6h0m-460 7h0m38-2h0m4 11h0m164-10h0m231 8h0m141-1h0m-569 15h0m274-3h0m21-6h0m-173 12h0m363 9h0m-525 10h0m169-5h0m176-4h0m88 5h0m-271 11h0m22-4h0m71 6h0m34 0h0m19-2h0m-221 19h0m67-9h0m72 5h0m315 3h0m54 8h0m-502 7h0m208 1h0m210 7h0m-433 3h0m74 0h0m10 8h0m26 0h0m176 22h0m26 5h0m85-9h0m8 6h0m119 3h0m-248 6h0m-182 18h0m29-4h0m-1 10h0m194-2h0m217 0h0m-474 17h0m283 2h0m183-6h0m-485 16h0m3 1h0m4 2h0m250-8h0m41 2h0m164-5h0m-459 22h0m221 1h0m43-1h0m97 1h0m18 0h0m66-4h0m39 3h0m5-2h0m-50 12h0m26 5h0m-95 15h0m-50 11h0m53 0h0m-222 10h0m125 9h0m6-3h0m-89 12h0m81-2h0m215 2h0m-220 9h0m5-3h0m3 10h0m106-1h0m6 1h0m-173 12h0m59 0h0m119-8h0m-367 15h0m25-2h0m58 3h0m105-2h0m11-3h0m159 8h0m-329 9h0m331 0h0m5 1h0m65 0h0m9-6h0m-447 17h0m-3 14h0m168-5h0m46-1h0m42-2h0m-80 15h0m96-2h0m181 9h0m-482 4h0m275 3h0m-168 9h0m17 4h0m140-7h0m-269 16h0m107 3h0m46 3h0m166-3h0m3 3h0m29-3h0m78-3h0m69 5h0m-478 3h0m43 8h0m269 0h0m113-7h0m19-1h0m-144 13h0m-258 22h0m111-9h0m132 1h0m-302 18h0m167-1h0m0-2h0m11-4h0m-202 13h0m110 0h0m78 5h0m-255 15h0m177-10h0m20 2h0m46 1h0m18-2h0m3 2h0m14 19h0m146-8h0m112 7h0m27-1h0m-504 8h0m370-5h0m69 7h0m-503 12h0m2-3h0m189-3h0m92-1h0m160 11h0m103-9h0m-532 10h0m184 0h0m231 8h0m114 2h0m3-4h0m-393 14h0m442-4h0m-554 18h0m334 0h0m150 0h0m7-3h0m63-1h0m-586 6h0m324 10h0m98-10h0" stroke="#646464" stroke-width="4.5" stroke-opacity="0.8"/>
<path d="M221 0h0m60 7h0m9 1h0m19-2h0m31-6h0m120 6h0m49 4h0m-486 11h0m28-1h0m189-7h0m152 4h0m201 0h0m-561 7h0m205 8h0m45-9h0m56 1h0m247 3h0m-494 12h0m64-1h0m9 8h0m18-1h0m249-3h0m-346 6h0m36 3h0m86 6h0m56-7h0m25-2h0m38 5h0m85 4h0m12-5h0m62 6h0m118-4h0m-517 5h0m147 7h0m15-2h0m15-2h0m11 3h0m67-3h0m2 1h0m163 2h0m105 2h0m-539 7h0m14-3h0m148 11h0m86-1h0m80-8h0m7 8h0m-366 10h0m34-5h0m4-3h0m22 11h0m45-6h0m24-1h0m15 6h0m249 1h0m94-8h0m74 6h0m-595 6h0m4 8h0m13-1h0m23-10h0m20 2h0m104 0h0m52 9h0m164-10h0m1 7h0m1-4h0m14-4h0m154 7h0m-466 10h0m62-4h0m68 2h0m76 1h0m8 2h0m58-1h0m-222 15h0m139-7h0m123-1h0m1 11h0m99-8h0m17 2h0m15-1h0m71-2h0m-437 14h0m122 3h0m73-4h0m27 4h0m84 4h0m2-1h0m-324 4h0m13 0h0m3 8h0m149-4h0m9 2h0m52-7h0m81 10h0m5-6h0m15 2h0m-313 8h0m29 5h0m115-5h0m78 5h0m75-8h0m-304 22h0m41-5h0m115-5h0m18 6h0m51 1h0m-281 14h0m199-9h0m10 9h0m81-5h0m72-2h0m17 7h0m122-7h0m-295 17h0m192-2h0m41 0h0m15 1h0m-405 9h0m232 2h0m135 0h0m14 3h0m8-5h0m12 1h0m1 1h0m-247 14h0m3 1h0m74 1h0m12-8h0m130 0h0m85 7h0m-374 10h0m82 4h0m49-6h0m92-3h0m92 5h0m51 5h0m-274 10h0m166 2h0m8 0h0m14-1h0m31-2h0m-218 4h0m4 11h0m140-6h0m47-3h0m30 0h0m-330 13h0m53 7h0m34-8h0m20 1h0m117-3h0m17 9h0m37-8h0m-286 19h0m61 0h0m31-4h0m43-4h0m35 0h0m16 6h0m3-6h0m31 1h0m158-1h0m-403 14h0m58 7h0m216-2h0m-304 7h0m319 9h0m28-9h0m-313 20h0m305-8h0m6 5h0m45 4h0m-405 4h0m66 1h0m113 2h0m13 0h0m53-1h0m173 3h0m-465 11h0m13 1h0m279-3h0m2-5h0m190 10h0m-357 11h0m-143 14h0m30-1h0m95 1h0m29-10h0m104-1h0m7 7h0m2 1h0m15 1h0m-281 5h0m18 4h0m5-4h0m146 5h0m85-1h0m45-4h0m4 3h0m205 4h0m-398 14h0m58-2h0m123 1h0m3-1h0m88-3h0m51 0h0m23 4h0m13 1h0m47-10h0m1-1h0m-486 17h0m141 2h0m4-6h0m21 8h0m74-9h0m28 1h0m51 3h0m40 4h0m88-2h0m-292 7h0m108 1h0m19-2h0m12 0h0m-285 14h0m21 5h0m243-1h0m61-2h0m90-1h0m-431 16h0m23-7h0m58 10h0m164 0h0m7-1h0m7-3h0m47-2h0m5 4h0m54 1h0m92-8h0m10 7h0m-298 6h0m26 6h0m86-7h0m-284 19h0m16-1h0m82-1h0m93-5h0m86 3h0m2 1h0m209 1h0m-487 10h0m23 7h0m74-3h0m177-7h0m-293 16h0m5-2h0m30 8h0m8-5h0m82 1h0m82-7h0m97 4h0m75 7h0m-379 6h0m113 6h0m1-5h0m16 2h0m232-7h0m0 1h0m91 7h0m74-9h0m-581 22h0m67 1h0m39-5h0m60 4h0m240-9h0m24 0h0m54 7h0m21 0h0m-534 15h0m97-6h0m13 6h0m124-11h0m7 0h0m6 5h0m90 4h0m6-2h0m9 3h0m161-2h0m-513 15h0m55-10h0m70 6h0m16-2h0m24 4h0m29-5h0m2-4h0m130 8h0m63-1h0m79-2h0m52-5h0m-512 19h0m150-6h0m6 8h0m181-7h0m8-1h0m4 0h0m6 8h0m4-6h0m17 6h0m96-3h0m72-3h0m47-2h0m-408 20h0m6 0h0m52-1h0m65-8h0m90 1h0m-399 15h0m34-2h0m62-2h0m88 4h0m33-3h0m16 3h0m76 6h0m18-7h0m26-1h0m9 4h0m23 3h0m33-3h0m2-1h0m9 1h0m31 5h0m33-5h0m67 2h0" stroke="#6e6e6e" stroke-width="3.0" stroke-opacity="0.8"/>
<path d="M237 6h0m81 4h0m268-11h0m11 7h0m-586 14h0m18 2h0m14-6h0m0 1h0m32 1h0m139 0h0m228-6h0m-414 18h0m170-1h0m5-4h0m61 7h0m14-2h0m15-4h0m295 8h0m-449 6h0m60 4h0m11 1h0m216-8h0m97 8h0m40-2h0m1-3h0m-457 7h0m192 11h0m222-3h0m17-6h0m-530 10h0m171 10h0m37-10h0m11 0h0m168 3h0m28 3h0m4-5h0m-408 21h0m51 0h0m82-2h0m17-2h0m9 1h0m74-3h0m3-3h0m78 5h0m58-1h0m118 5h0m83-2h0m18-3h0m-600 9h0m297 3h0m97 2h0m80-3h0m103 5h0m-569 10h0m38 1h0m49 0h0m62 0h0m28 3h0m33-3h0m32 0h0m56-3h0m188-2h0m-434 16h0m8-3h0m34-3h0m36 3h0m37 6h0m284 0h0m-381 4h0m94 7h0m99-7h0m83-2h0m7 11h0m121 0h0m86-5h0m-436 6h0m166 11h0m47-4h0m2 0h0m39 0h0m113-1h0m11 1h0m-364 13h0m25-3h0m114-3h0m36-1h0m39 4h0m19 5h0m-217 9h0m3-2h0m190-5h0m32 2h0m103-1h0m10 9h0m10-4h0m76 1h0m13 4h0m-247 3h0m120 5h0m31-1h0m-319 15h0m266-6h0m31 3h0m29 2h0m-408 11h0m0-3h0m15 5h0m171-3h0m42-3h0m48-1h0m141 5h0m78-7h0m-232 18h0m139 5h0m21-9h0m-268 21h0m52-1h0m52-9h0m38 8h0m10 1h0m121-7h0m-373 18h0m4-7h0m73 9h0m56-8h0m3 0h0m25 6h0m26-4h0m159 6h0m-292 6h0m56-1h0m56-3h0m186 8h0m50-9h0m-422 15h0m117 2h0m85-3h0m102 9h0m131-6h0m-446 9h0m258-1h0m24 10h0m101-6h0m2-2h0m-195 11h0m-175 18h0m31-3h0m20 1h0m20-1h0m1-4h0m41 8h0m27-5h0m48 2h0m46-5h0m65 4h0m-305 10h0m98 4h0m2-5h0m94 7h0m47 2h0m172-5h0m52-6h0m-364 12h0m41 2h0m68-1h0m146 9h0m8-6h0m21-2h0m-386 13h0m111 1h0m61 5h0m11-4h0m24-5h0m2 5h0m38-3h0m165-1h0m-467 22h0m22-8h0m72 4h0m52-3h0m78-1h0m5-1h0m179-2h0m7 7h0m-371 5h0m12 6h0m13-6h0m190 11h0m14-1h0m5-2h0m18-6h0m-266 14h0m20 1h0m111 6h0m125-7h0m-148 13h0m105 3h0m50 3h0m8-7h0m-260 14h0m36 3h0m39 2h0m176-10h0m102-1h0m3 2h0m1 5h0m19-6h0m11 0h0m16 7h0m74-7h0m-490 22h0m5-7h0m123 6h0m2-8h0m1 1h0m17 0h0m0 0h0m106 8h0m52-9h0m-196 20h0m14-2h0m128-3h0m9 2h0m27-7h0m2 3h0m116 1h0m56 4h0m-480 9h0m4 5h0m26-8h0m106-2h0m134 1h0m1 7h0m92 3h0m76-4h0m48 1h0m1 2h0m-466 8h0m12 0h0m22 3h0m38-4h0m45-5h0m137 9h0m61-4h0m8-1h0m161 5h0m-409 6h0m164-1h0m7 4h0m221 4h0m-509 11h0m15-1h0m4-1h0m57-3h0m24-4h0m23 6h0m270 5h0m-443 11h0m19-1h0m17-3h0m55-2h0m65 5h0m4-3h0m71-5h0m2 4h0m3-4h0m23 0h0m26 1h0m24 3h0m44 4h0m-324 12h0m2-6h0m37 6h0m115-5h0m45-1h0m7 3h0m7-1h0m124 6h0m66-2h0m5-8h0m141 3h0m-529 12h0m17-4h0m61 5h0m30 5h0m4-5h0m206-5h0m195 1h0m-433 20h0m22-4h0m112 3h0m11-1h0m8 4h0m221-5h0m66-5h0m3 7h0m-537 4h0m171 1h0m219-1h0m150 4h0m-595 17h0m7-9h0m63 0h0m33 8h0m78 1h0m5 2h0m22-6h0m13-2h0m111-2h0m11 9h0m89 1h0m94-8h0m12 0h0m20 3h0m-562 12h0m39 4h0m15-8h0m90 7h0m61-2h0m99 3h0m23-8h0m48 3h0m7-5h0m49 9h0m2-4h0m66-5h0m58 3h0m3 1h0m30 2h0m3 0h0m-350 11h0m132 6h0m14-11h0m-363 18h0m15 4h0m61-10h0m4 9h0m44 0h0m25-8h0m22 2h0m40 0h0m40 7h0m4-4h0m30 2h0m15-6h0m53 7h0m5-7h0m41 2h0m139 5h0m23-3h0" stroke="#6e6e6e" stroke-width="3.5" stroke-opacity="0.8"/>
<path d="M212 2h0m56 6h0m18 0h0m1-1h0m52-8h0m129 5h0m26 3h0m15 0h0m-479 13h0m302 0h0m101-2h0m172-5h0m-604 20h0m187 1h0m1-8h0m3 6h0m8-8h0m85 4h0m55-5h0m262 4h0m-419 8h0m27 2h0m42 4h0m30 3h0m25-4h0m131 0h0m88 5h0m-286 6h0m23 1h0m161 0h0m146 3h0m-484 13h0m145-2h0m14-2h0m18 1h0m-249 8h0m24 2h0m172-2h0m17 9h0m32-10h0m41 9h0m11-2h0m16-6h0m215 2h0m57-1h0m-594 12h0m50-1h0m146 3h0m48 2h0m186 1h0m-419 11h0m91-2h0m71 0h0m50-1h0m8 1h0m3 4h0m69-2h0m12 4h0m-300 3h0m81 9h0m94-1h0m23-8h0m45 4h0m182-4h0m168 8h0m-415 11h0m7-6h0m0-1h0m146 7h0m107-6h0m75 1h0m74-1h0m-269 19h0m-165 6h0m123 5h0m74 2h0m89-6h0m65-4h0m83 4h0m-448 10h0m177 8h0m44-11h0m77 9h0m50-9h0m106 11h0m-501 7h0m53 5h0m141-11h0m49 4h0m1-4h0m45 6h0m-95 10h0m53 7h0m32-11h0m93 9h0m64 2h0m-439 3h0m211 6h0m26-8h0m6 5h0m52-5h0m105 3h0m45-3h0m6 10h0m34-5h0m-454 10h0m136 0h0m-16 20h0m8-6h0m58 2h0m13-3h0m11 4h0m77 2h0m6-8h0m-174 12h0m158 8h0m33-3h0m75-7h0m4 2h0m15-2h0m2 1h0m-213 22h0m29-9h0m166 6h0m61-6h0m-473 13h0m2 1h0m149-1h0m38 1h0m1 4h0m35-3h0m20-3h0m0-1h0m28 9h0m120-8h0m-194 20h0m69-9h0m1-1h0m65 5h0m1 5h0m51-10h0m-313 20h0m26 0h0m186-1h0m57 3h0m150-6h0m-391 14h0m23-4h0m2 5h0m319-5h0m52-2h0m-435 18h0m4 3h0m0-4h0m104-2h0m52-3h0m45 3h0m154 7h0m-478 10h0m88-1h0m80 1h0m19-8h0m45 0h0m59 4h0m142 1h0m67-1h0m-385 16h0m11-8h0m21 9h0m115-4h0m-132 17h0m55-5h0m59 6h0m288 0h0m-509 1h0m69 6h0m86 1h0m67-5h0m300 3h0m-520 9h0m132 4h0m-123 6h0m45 5h0m11-4h0m46 8h0m48 1h0m84 1h0m38-8h0m7 5h0m142 2h0m-401 5h0m7 2h0m3-2h0m2 6h0m67-9h0m17 8h0m35-4h0m160 7h0m9-1h0m1 1h0m33 0h0m34-5h0m26 0h0m24 1h0m-413 12h0m3 4h0m11-10h0m80 8h0m335-8h0m23 4h0m9-5h0m1 5h0m-453 17h0m112-5h0m180 3h0m150 1h0m-370 10h0m20-2h0m52 2h0m270 2h0m-435 8h0m18 1h0m282 2h0m19 1h0m166-5h0m17 5h0m-501 13h0m86-9h0m156 1h0m240 2h0m-498 17h0m22-1h0m61 2h0m92 1h0m6-3h0m12-3h0m3 0h0m-226 14h0m17-7h0m49 1h0m11 9h0m40-4h0m5 3h0m19-4h0m47 5h0m16-6h0m17 3h0m100-1h0m-341 16h0m39 0h0m304-2h0m-361 14h0m133-7h0m4 2h0m3 3h0m0-5h0m0 7h0m7-10h0m1 8h0m267 2h0m20 1h0m82-6h0m25-2h0m38 7h0m-588 13h0m5-5h0m50 5h0m11-11h0m105 4h0m32 5h0m222-8h0m18 8h0m20-1h0m60-6h0m8 5h0m-433 7h0m6 3h0m46-1h0m7 6h0m54-6h0m6 0h0m14 7h0m276-8h0m-409 9h0m30 11h0m50-3h0m32 3h0m9-9h0m4-1h0m5 8h0m194-8h0m96 5h0m2-3h0m15-1h0m-532 10h0m4 3h0m126 7h0m65-5h0m39 5h0m96-2h0m5-4h0m2 4h0m4 0h0m9 0h0m29-7h0m130 2h0m18-3h0m17 0h0m-494 15h0m69 6h0m40-3h0m7-6h0m3 0h0m186 2h0m-366 19h0m68-3h0m126-4h0m22 6h0m11-2h0m50 0h0m69-2h0m145 5h0" stroke="#6e6e6e" stroke-width="4.5" stroke-opacity="0.8"/>
<path d="M22 6h0m3 3h0m181-1h0m12-4h0m26-2h0m139-1h0m12 2h0m2 4h0m2 2h0m33-4h0m32 4h0m53-8h0m53 1h0m13 4h0m9-6h0m-588 17h0m35-3h0m6 6h0m31 0h0m141-9h0m186 4h0m21-1h0m151-3h0m-397 14h0m4 1h0m152 1h0m6 4h0m0 0h0m79 1h0m-417 12h0m106 1h0m1-2h0m85 3h0m331-1h0m-373 2h0m45 8h0m28 2h0m13-10h0m18 1h0m19-1h0m6 11h0m13-5h0m60 0h0m1 5h0m152-11h0m23 3h0m16 0h0m12 0h0m-523 10h0m125-1h0m41 3h0m100 5h0m16 3h0m17-1h0m-256 2h0m17 6h0m7 3h0m79-8h0m51 8h0m164-6h0m17 8h0m-397 7h0m17-6h0m77 11h0m80-7h0m2-2h0m0-2h0m27 1h0m18 4h0m77-3h0m17 6h0m54-5h0m55 5h0m79-8h0m-496 22h0m85-10h0m52 9h0m2-2h0m10-4h0m10 6h0m17-7h0m28 8h0m3-6h0m65 3h0m4-3h0m27-4h0m64 2h0m20 0h0m32-2h0m-415 15h0m1 5h0m33-8h0m23 11h0m71-9h0m41 2h0m16 0h0m37-3h0m327 9h0m17-8h0m-140 11h0m58 7h0m19-5h0m15 8h0m29-2h0m22-6h0m8 0h0m-456 19h0m186-10h0m117 8h0m5-2h0m14-2h0m-167 10h0m24 5h0m1-2h0m29-3h0m46 2h0m115-3h0m-216 17h0m7-3h0m163 5h0m44-6h0m75 5h0m-415 6h0m119 9h0m29-10h0m58 8h0m91-7h0m4 5h0m24-1h0m13 0h0m-332 13h0m126 0h0m31-2h0m54 2h0m4-4h0m89 0h0m20 3h0m28 2h0m-438 6h0m44 0h0m9-1h0m45 1h0m10 2h0m83 4h0m160-7h0m28 6h0m34-3h0m83-3h0m1 4h0m-325 18h0m3-9h0m15 2h0m2 8h0m181-1h0m63-10h0m1 11h0m53-2h0m-287 8h0m107-4h0m22 4h0m11-3h0m29 3h0m68 0h0m-373 18h0m3-1h0m59-7h0m104 1h0m28 4h0m106 3h0m81-5h0m0 4h0m26-4h0m-405 7h0m131 2h0m7 5h0m15 3h0m45-2h0m21-5h0m11 7h0m15-9h0m33 2h0m118 0h0m3-1h0m-247 12h0m40-3h0m37 10h0m5-9h0m57 6h0m11-4h0m3-2h0m58 5h0m-413 6h0m80 10h0m24-3h0m5 3h0m46-10h0m34 1h0m25 9h0m20-3h0m2-3h0m56 4h0m1 0h0m148 2h0m-557 4h0m11 2h0m236 3h0m69-7h0m18 4h0m5 5h0m13-7h0m0 3h0m52 4h0m79 1h0m75-4h0m1 3h0m20-9h0m-404 15h0m3 1h0m206 2h0m0-6h0m132 1h0m85 9h0m-558 13h0m134-4h0m2-7h0m41 2h0m100 7h0m19-9h0m1 2h0m19 6h0m11-6h0m112 5h0m28 0h0m38-6h0m-244 11h0m13 7h0m1 4h0m26-5h0m19 1h0m0 2h0m10-6h0m21-3h0m142 10h0m-387 4h0m49-1h0m33 3h0m71 3h0m47 3h0m-234 4h0m8 5h0m32-3h0m19-2h0m140 0h0m39-2h0m168 2h0m61 5h0m-547 16h0m34-10h0m8 1h0m23 2h0m15-2h0m19 5h0m79-6h0m12 4h0m123 2h0m6 1h0m16-6h0m11 0h0m9-1h0m-375 15h0m72-2h0m6 4h0m105 1h0m8 3h0m58-5h0m98 0h0m10-3h0m-254 10h0m14 10h0m26-4h0m73 3h0m5-6h0m3-1h0m3 3h0m22 3h0m43-1h0m20 4h0m8-3h0m43 1h0m224-3h0m6-3h0m-478 10h0m58 4h0m83-1h0m12 5h0m33-4h0m39-2h0m13-2h0m28 8h0m147-9h0m-331 12h0m33 6h0m164 5h0m46-4h0m32-4h0m15 4h0m7 1h0m9-2h0m-421 8h0m37 5h0m76-5h0m9 3h0m31 1h0m22-5h0m1 8h0m9-6h0m5 8h0m68-8h0m16 1h0m37-2h0m133 2h0m35 1h0m5-4h0m-483 20h0m2-8h0m20 0h0m3 10h0m121-4h0m47 3h0m63-9h0m35 0h0m11 6h0m85-2h0m2-1h0m34-3h0m-430 17h0m31 1h0m2-2h0m70-3h0m5 6h0m43-7h0m6 5h0m32-4h0m3-1h0m252 6h0m31-7h0m11 2h0m3-2h0m-448 21h0m17-7h0m3 5h0m4-3h0m34-1h0m24 7h0m91-3h0m77-7h0m5 5h0m9 6h0m78-10h0m2 9h0m15-9h0m3 8h0m85-8h0m22 6h0m-494 8h0m18 3h0m21-3h0m55-3h0m109 9h0m17-6h0m82-2h0m179 1h0m-527 21h0m13-6h0m1 5h0m56-8h0m78-1h0m61 10h0m130-2h0m-373 4h0m204 2h0m16 8h0m116-2h0m20 2h0m6-6h0m-248 13h0m15 3h0m235-2h0m58-7h0m99 0h0m46 3h0m-584 9h0m84 1h0m6 4h0m2 3h0m45-5h0m52 0h0m112 7h0m45-2h0m8-1h0m74 2h0m-379 9h0m84 0h0m41 2h0m144-5h0m21 0h0m127 4h0m39-2h0m58-4h0m-429 22h0m64 0h0m2-2h0m118-1h0m13-8h0m20 7h0m14 1h0m28 3h0m40-6h0m119 1h0m32-1h0m12-4h0m-513 15h0m29 0h0m53 0h0m142 7h0m47-2h0m44-8h0m12 10h0m12-9h0m130 1h0m38-2h0m-590 15h0m8-4h0m13 6h0m3-6h0m18 0h0m8 9h0m51-1h0m34 3h0m8-3h0m1-5h0m34 1h0m46 1h0m84-1h0m52 5h0m25 2h0m73-5h0m47-5h0m10 10h0m-480 8h0m159-2h0m22 0h0m11-5h0m57 2h0m31 2h0m14 2h0m136-1h0m37 2h0m25-2h0m4 6h0m24-1h0m41 0h0m7-8h0" stroke="#787878" stroke-width="3.0" stroke-opacity="0.8"/>
<path d="M56 2h0m71 2h0m121 1h0m19-1h0m57-4h0m6 1h0m73-1h0m36 7h0m42-2h0m35-4h0m57 5h0m21-2h0m18 6h0m-605 11h0m0-4h0m16-1h0m8 0h0m144 2h0m7-5h0m37 7h0m10-9h0m11 9h0m27 2h0m52-11h0m78 4h0m22 4h0m11-1h0m144 4h0m5-6h0m-392 17h0m16-9h0m5 2h0m220 5h0m164-6h0m-587 13h0m20 8h0m84-2h0m40-3h0m13-3h0m41 3h0m83 2h0m105-4h0m-384 13h0m33 3h0m43-5h0m6 6h0m1-6h0m46 7h0m101-4h0m88-1h0m9 5h0m203-4h0m-419 14h0m133-3h0m21 5h0m50-2h0m14-4h0m52 0h0m3-3h0m-340 22h0m147-10h0m53 4h0m26-2h0m51-3h0m54 11h0m9-6h0m122 4h0m24-1h0m73-8h0m-558 17h0m88 4h0m2-5h0m35-1h0m1 7h0m3-6h0m45 7h0m80-8h0m88 2h0m37 4h0m-430 14h0m101-10h0m57 10h0m7-5h0m36 2h0m14-4h0m96 4h0m72-5h0m113 3h0m-480 9h0m142 3h0m42 2h0m157 2h0m81-10h0m135 5h0m24 0h0m1 5h0m-511 6h0m214-1h0m62 0h0m32 4h0m9 3h0m50-8h0m31 0h0m16 4h0m90 1h0m12-7h0m-460 18h0m33-5h0m27 7h0m110-1h0m4 0h0m26 3h0m16-7h0m21 2h0m70 4h0m8 2h0m54-11h0m83 2h0m-284 10h0m174 10h0m28-1h0m86 2h0m-414 9h0m5-2h0m102-5h0m25 6h0m279 0h0m-478 9h0m36 2h0m1 2h0m263 3h0m17-7h0m56 6h0m22 0h0m82-8h0m-444 21h0m55 0h0m1 0h0m86-7h0m11-4h0m44 2h0m57 2h0m19 0h0m25 6h0m9-6h0m21-1h0m22 1h0m5 0h0m25 6h0m-430 12h0m10-1h0m22-5h0m109 7h0m39-2h0m42-8h0m8 4h0m67-3h0m11 1h0m41 2h0m7 4h0m3 0h0m32-3h0m12 0h0m-399 11h0m33 2h0m145-5h0m4-1h0m18 8h0m41 2h0m19-2h0m138-6h0m9-1h0m-408 16h0m126 4h0m13-2h0m14 2h0m2-4h0m6-3h0m37 6h0m63 2h0m49-9h0m5 3h0m37-1h0m5 6h0m18-2h0m28-6h0m-274 17h0m34-4h0m24 4h0m34-4h0m98-1h0m100 3h0m35 5h0m-397 2h0m109 5h0m16 3h0m5-5h0m79 0h0m12 0h0m65 2h0m19-4h0m7 5h0m5-2h0m55-3h0m-282 19h0m31 2h0m16-7h0m25 1h0m111 7h0m9-6h0m11-4h0m132 0h0m-536 20h0m3-8h0m71 3h0m91 6h0m50 0h0m80-2h0m28-8h0m13 5h0m8 3h0m8 3h0m2-10h0m62 4h0m92 3h0m-509 6h0m133 9h0m47-10h0m4 10h0m7-5h0m44-5h0m12 8h0m99-6h0m-227 15h0m138 5h0m4-9h0m11 7h0m20-1h0m6-1h0m8 2h0m104-8h0m-308 21h0m7-1h0m3-7h0m30-1h0m111 0h0m41 3h0m122 0h0m-404 17h0m128-3h0m100-1h0m76-5h0m116 0h0m4 0h0m15 11h0m7-5h0m43-2h0m-497 14h0m228-2h0m29 2h0m8 4h0m182-10h0m20 8h0m16-7h0m9 2h0m62 4h0m-508 7h0m3 6h0m15-2h0m14 1h0m0 0h0m5 4h0m108-3h0m16-1h0m48 1h0m77-2h0m0-3h0m-384 18h0m75-3h0m96-3h0m25 4h0m58 3h0m89-6h0m35-1h0m130 8h0m8-3h0m58-8h0m-576 21h0m15-8h0m53-1h0m31 1h0m147 8h0m2-3h0m7 5h0m104-2h0m7-1h0m-296 9h0m79 3h0m6-7h0m12 4h0m45 5h0m103-9h0m3 7h0m203 3h0m1-8h0m-293 10h0m36 8h0m60-8h0m79 9h0m61 0h0m56-7h0m66 0h0m-496 16h0m8 1h0m6 0h0m119-6h0m57 9h0m65-11h0m12 1h0m11 2h0m41 3h0m55 5h0m-343 4h0m146 8h0m85-5h0m38-1h0m13-3h0m8 5h0m3 4h0m45 0h0m15-4h0m2-5h0m42 2h0m12 2h0m79-2h0m3-4h0m-230 16h0m6 6h0m133-3h0m8-3h0m18 4h0m-448 8h0m13 7h0m48-2h0m27 0h0m3-7h0m43 6h0m28 3h0m0-5h0m20 5h0m24-1h0m8-4h0m3 2h0m67 0h0m9-2h0m72-4h0m25 8h0m66-9h0m36 8h0m-460 13h0m98-8h0m105 4h0m22-6h0m99 6h0m-395 17h0m10-7h0m22 3h0m3-3h0m58 1h0m2-5h0m95 7h0m254-3h0m-470 17h0m27 2h0m7-11h0m64 11h0m42-3h0m7-6h0m9 6h0m9-1h0m16-6h0m8 7h0m77-2h0m93-5h0m-392 18h0m23-1h0m12-1h0m87 2h0m49-2h0m11 1h0m66 4h0m46-5h0m48-3h0m31 8h0m5 1h0m17-9h0m182 4h0m14 0h0m-475 9h0m50 8h0m7-10h0m62-1h0m134 5h0m29-4h0m15 6h0m12-4h0m26 1h0m72 2h0m3-2h0m60 4h0m19-8h0m-453 13h0m32 1h0m29 3h0m3-4h0m28 1h0m174 4h0m31 5h0m81-4h0m21 0h0m2 2h0m37 2h0m7-7h0m4 3h0m4 2h0m-602 3h0m1 4h0m39 6h0m26-5h0m13 3h0m2-7h0m6-1h0m5 2h0m5 7h0m44-9h0m18 0h0m178 9h0m1-1h0m1-2h0m75-6h0m34 5h0m60-2h0m13 0h0m20-2h0m-466 13h0m8 5h0m42-1h0m21-6h0m8 2h0m43-1h0m23 7h0m17-2h0m123 2h0m30 2h0m60 1h0m73-8h0m59 1h0m-586 12h0m135 4h0m4-5h0m102-1h0m76 8h0m16-10h0m264 4h0m13 1h0m-497 18h0m103-11h0m3 0h0m1 10h0m12-5h0m146 3h0m-357 4h0m39 10h0m13-8h0m4 5h0m44-6h0m2 0h0m14 8h0m17-9h0m22 3h0m62-2h0m26 10h0m30-3h0m5-3h0m69-3h0m63 7h0m20 1h0m19-6h0m75 3h0m17 0h0m20 2h0" stroke="#787878" stroke-width="3.5" stroke-opacity="0.8"/>
<path d="M288 4h0m16 0h0m43 5h0m108-1h0m3-3h0m15-3h0m15-2h0m25 0h0m51 0h0m32 7h0m17-1h0m-584 5h0m6 2h0m47 4h0m150-3h0m11 3h0m32-1h0m14 1h0m110 2h0m42-6h0m141 2h0m0-3h0m0 8h0m-576 13h0m3-7h0m23 7h0m50-5h0m8-5h0m90 2h0m77 0h0m43 9h0m37 0h0m83-11h0m6 2h0m15 6h0m-376 14h0m51-5h0m3 4h0m48-7h0m9 2h0m3-2h0m11 4h0m0-3h0m145 2h0m50 0h0m29-4h0m22 7h0m101 0h0m22-5h0m2-2h0m-524 12h0m75 4h0m21 2h0m109-2h0m11-3h0m83 6h0m72-4h0m-369 8h0m85 8h0m6 3h0m2-6h0m19 2h0m95 2h0m31-2h0m8-1h0m24 4h0m0-10h0m6 8h0m25-8h0m81 2h0m102 0h0m-510 14h0m87 2h0m29 5h0m57-2h0m3-5h0m17-1h0m102 2h0m28 6h0m12-9h0m60 5h0m8-1h0m-368 7h0m43 2h0m76 6h0m1-5h0m11 3h0m20 4h0m14-5h0m17-6h0m85 4h0m54 5h0m18-2h0m16-6h0m30 0h0m-258 16h0m23-3h0m50-1h0m161 6h0m5 2h0m14-1h0m-299 6h0m46-1h0m14 8h0m47-6h0m72 4h0m49 2h0m3-3h0m94 4h0m44 0h0m5-1h0m8-2h0m68-4h0m7 0h0m6 0h0m-510 9h0m12 6h0m188-4h0m59 4h0m26 3h0m43-2h0m36 3h0m9-4h0m48-1h0m1 5h0m26-1h0m-223 9h0m157 5h0m57-11h0m88 7h0m-440 16h0m24-10h0m94-1h0m15 0h0m77 3h0m65 1h0m47 6h0m10 0h0m-385 12h0m37-4h0m1-1h0m139 1h0m13-6h0m13 10h0m10-5h0m17-1h0m117-1h0m58 3h0m-423 15h0m25-4h0m66-5h0m19 8h0m0-8h0m83 11h0m27-7h0m20-4h0m11 5h0m126-1h0m8 0h0m29-2h0m-326 10h0m15 8h0m1 2h0m3-5h0m89 0h0m122-4h0m30-1h0m37 7h0m48 4h0m63-5h0m-474 14h0m9-2h0m4 1h0m51 4h0m10-10h0m35 4h0m127 4h0m4-8h0m83 2h0m41 7h0m-343 3h0m321 6h0m85 0h0m28-4h0m-334 10h0m42-1h0m12 1h0m70 6h0m4 0h0m44 4h0m40-1h0m6-10h0m31 10h0m23 0h0m20-10h0m-301 20h0m5-7h0m5 4h0m1 1h0m24-6h0m38 2h0m63 3h0m75 3h0m96-3h0m3-5h0m19 10h0m2-1h0m45-9h0m-395 12h0m0 11h0m20-4h0m38-7h0m46 2h0m12 6h0m27-5h0m163 5h0m9-6h0m-319 19h0m46-2h0m31-3h0m22 0h0m7 1h0m37-4h0m1 5h0m21-1h0m113-5h0m7 1h0m82 8h0m-528 4h0m85 0h0m10 0h0m65 4h0m16 4h0m1 0h0m44-4h0m26-1h0m41-2h0m3 2h0m83 2h0m24 3h0m27-3h0m60 4h0m73-7h0m-604 14h0m181 4h0m46 2h0m39-10h0m1 7h0m21-2h0m9-6h0m4 6h0m99-5h0m76 7h0m15-3h0m67-2h0m6-3h0m11 8h0m-399 14h0m29-4h0m30 1h0m1 0h0m2 4h0m158-5h0m112 5h0m-448 9h0m95-7h0m134-1h0m94 9h0m13-6h0m71-2h0m18 7h0m41 2h0m19-6h0m2 0h0m55-3h0m-570 15h0m4 6h0m6-4h0m105 3h0m121 1h0m20-3h0m12 0h0m201 1h0m28-3h0m-479 11h0m132 1h0m22 1h0m54 4h0m281-7h0m35 4h0m-497 10h0m56 2h0m62-1h0m20-5h0m43 0h0m40 10h0m224-11h0m-407 16h0m45 4h0m86-3h0m18 5h0m343-4h0m-549 8h0m34 0h0m86 6h0m31 1h0m87-8h0m8 9h0m34 1h0m41-4h0m-316 10h0m89 5h0m70-1h0m7 0h0m8 2h0m99 0h0m10-7h0m32-3h0m103 7h0m29 0h0m30 3h0m-310 4h0m9 8h0m153-7h0m22-2h0m114 0h0m-441 15h0m41 6h0m6-6h0m11-5h0m54 8h0m56-8h0m8 11h0m11-9h0m110 3h0m66 3h0m15-5h0m-347 11h0m16 7h0m154-1h0m88 1h0m147-1h0m-396 7h0m127-2h0m28 4h0m110-2h0m139 4h0m13 2h0m12-8h0m8 3h0m11-3h0m-465 22h0m138-4h0m119-4h0m2 0h0m50 5h0m33 3h0m51-4h0m3 4h0m4-11h0m5 6h0m35 4h0m37-9h0m-455 19h0m3-3h0m5 1h0m4 2h0m62-4h0m39-2h0m35 0h0m55-2h0m64 7h0m207-6h0m-398 16h0m87-5h0m17 10h0m19-3h0m43-7h0m89 7h0m2 0h0m13-1h0m-417 9h0m1 6h0m78-8h0m47 3h0m402-4h0m-576 16h0m3-3h0m45 4h0m0 2h0m119-6h0m2 4h0m18 1h0m161-2h0m221 7h0m-400 12h0m33-2h0m29-4h0m118-4h0m0 3h0m10 6h0m26-10h0m52 1h0m72 6h0m8 1h0m51 3h0m-515 8h0m35 1h0m46 2h0m160-2h0m9 2h0m25 0h0m94-5h0m95 5h0m-448 13h0m33-5h0m4 2h0m28-3h0m63 3h0m13-7h0m14-1h0m100 6h0m0 5h0m102-3h0m83 3h0m-412 4h0m41 3h0m45-3h0m49 8h0m80-11h0m3 3h0m22-3h0m22 3h0m71-1h0m4-1h0m69 7h0m19 1h0m40 0h0m35 0h0m-567 3h0m18 4h0m51-2h0m43 7h0m77 1h0m6-5h0m21-5h0m70 0h0m49 1h0m0 2h0m9-3h0m44 11h0m97-5h0m5-6h0m10 0h0m28 11h0m16-11h0m3 1h0m20 8h0m-600 13h0m59-10h0m5 5h0m37 6h0m17-7h0m67-1h0m32 6h0m187-3h0m17-4h0m179 3h0m-601 8h0m209 6h0m24-5h0m115 7h0m147-7h0m59 9h0m17-4h0" stroke="#787878" stroke-width="4.5" stroke-opacity="0.8"/>
<path d="M32 5h0m12-1h0m12-3h0m49 0h0m19 8h0m57 1h0m6-11h0m34 1h0m8 7h0m49 0h0m14 0h0m10-4h0m45-4h0m28 8h0m47 2h0m9-7h0m83 2h0m60 0h0m13 2h0m-585 15h0m77-3h0m75 4h0m134-3h0m71-8h0m1 0h0m60 0h0m0 5h0m172 5h0m-524 9h0m18-6h0m40 4h0m63 1h0m1-6h0m2 7h0m199-1h0m12-2h0m-219 11h0m9 7h0m17 1h0m162-10h0m6 9h0m26-1h0m1-8h0m150 9h0m11-8h0m0-2h0m5 0h0m-498 17h0m44 0h0m28-2h0m77 1h0m135 4h0m30 0h0m2 0h0m6-2h0m7-1h0m-399 12h0m103 3h0m18-8h0m70 0h0m140 0h0m27 6h0m-262 12h0m23 0h0m133 4h0m56-7h0m22 4h0m278-3h0m-494 12h0m4 7h0m20-3h0m29-6h0m26 5h0m40-7h0m5 6h0m92-4h0m49 1h0m43-1h0m-310 20h0m149 1h0m51-4h0m60-7h0m45 5h0m-356 12h0m54-3h0m16 9h0m37-6h0m1 3h0m81-2h0m15 3h0m41-3h0m48-1h0m8 4h0m86-5h0m5-2h0m28 9h0m111-3h0m-502 10h0m60 2h0m108-2h0m50-6h0m58 7h0m42 1h0m43-3h0m144-3h0m-573 15h0m62 3h0m15-8h0m104 0h0m99 0h0m13 0h0m3 7h0m106 1h0m1 3h0m37-4h0m42-6h0m7 5h0m16-2h0m71-2h0m-455 18h0m41 2h0m15 0h0m77-3h0m26-5h0m24 1h0m72 2h0m93 3h0m-375 6h0m1 4h0m30-1h0m27-4h0m23 5h0m268 2h0m23-1h0m-367 15h0m9-7h0m15 5h0m151 1h0m8 0h0m98 1h0m12-6h0m105 4h0m66-7h0m-480 13h0m78 5h0m65 1h0m39 3h0m78-1h0m13-6h0m29 2h0m25-3h0m26-2h0m38 1h0m51-1h0m56 6h0m-497 12h0m4-6h0m23-1h0m1 3h0m76-3h0m9 2h0m8-1h0m7 4h0m14 2h0m13 3h0m3-2h0m93-5h0m41 1h0m53 5h0m30-7h0m37 0h0m27 1h0m15-3h0m11 10h0m-461 13h0m25 0h0m154-2h0m26-7h0m162-1h0m1 2h0m40 3h0m43-4h0m-454 21h0m77-9h0m11-2h0m19 2h0m106 4h0m39-1h0m77-5h0m18 11h0m43-10h0m0 5h0m5 1h0m-390 6h0m85 10h0m5-4h0m25 4h0m30-9h0m53 0h0m12 0h0m153 3h0m37-4h0m3 3h0m6-1h0m12-1h0m4 6h0m-427 9h0m20 6h0m69-3h0m33 1h0m32 2h0m19-4h0m2 2h0m13-3h0m24-6h0m6 10h0m55-5h0m155 1h0m-399 8h0m71 0h0m10 0h0m2 2h0m6 7h0m13-2h0m16 0h0m80-6h0m61 2h0m22 4h0m21-9h0m-326 21h0m48 1h0m23 0h0m7-2h0m29-7h0m18 10h0m27-8h0m61-1h0m67 2h0m7-3h0m9 0h0m88 10h0m16 0h0m61-5h0m-532 14h0m136 1h0m53 1h0m74-2h0m198-7h0m32 10h0m11-4h0m-539 11h0m40 3h0m3 0h0m6 2h0m140-11h0m5 3h0m44 4h0m7 3h0m7-3h0m15-3h0m10-1h0m40 5h0m40-1h0m15 1h0m8 1h0m92 0h0m11-8h0m114 3h0m-608 8h0m307 3h0m45 2h0m1-5h0m11 6h0m9 1h0m90-5h0m20 2h0m72-4h0m-550 20h0m49-1h0m313-6h0m11-1h0m116 8h0m34 0h0m15-3h0m-407 15h0m110-4h0m5 1h0m15-4h0m33 4h0m2-3h0m76 9h0m169-7h0m-508 13h0m43-1h0m29-3h0m23 3h0m256 3h0m124 0h0m-501 5h0m33 8h0m0-1h0m95 2h0m6 2h0m113-4h0m36 0h0m8 0h0m35-7h0m5 0h0m171 2h0m99 2h0m-598 14h0m25-1h0m4 2h0m16 1h0m11-1h0m35 1h0m151 0h0m92-5h0m6-3h0m25 2h0m142-2h0m7 3h0m-529 10h0m2 4h0m21 5h0m18-7h0m21 3h0m35 1h0m77-3h0m47 5h0m13 1h0m0-8h0m7 3h0m19 5h0m3-1h0m36-7h0m27 7h0m2-2h0m7-3h0m11 3h0m204 3h0m10-8h0m45 6h0m-591 5h0m4 8h0m68-1h0m9-3h0m25 4h0m64-9h0m103 9h0m8-1h0m6-6h0m4 7h0m32-8h0m15 6h0m139-5h0m19 4h0m8 0h0m6-2h0m-406 11h0m165 7h0m67 1h0m23-8h0m10 6h0m8 1h0m5-2h0m16-2h0m54 3h0m31 2h0m11-5h0m63 2h0m-571 5h0m1 4h0m8 4h0m19-3h0m63 4h0m0-3h0m21-2h0m22 3h0m0-4h0m60 6h0m23-9h0m129 4h0m21 5h0m17-9h0m93 10h0m52-1h0m29-1h0m38-6h0m8 6h0m-600 4h0m212 4h0m4 5h0m17-7h0m6 8h0m4-3h0m77-3h0m54 5h0m7 1h0m4-10h0m8 2h0m1 8h0m0-7h0m57 2h0m26-6h0m33 9h0m1-9h0m63 6h0m10 2h0m-561 11h0m96 4h0m5 0h0m1-3h0m71 0h0m13 3h0m3-10h0m46 3h0m34 4h0m12-4h0m21 2h0m8-1h0m4-1h0m2 3h0m43-2h0m6 0h0m4-1h0m3 0h0m65-1h0m11 1h0m17 5h0m41-7h0m43 1h0m2 4h0m-561 16h0m16-2h0m51-7h0m31 8h0m13-4h0m61 5h0m51-10h0m4 1h0m17 7h0m14 0h0m16-8h0m11-1h0m3 0h0m13 0h0m63 5h0m29-5h0m25 1h0m46-1h0m28 5h0m7 5h0m56-10h0m-556 23h0m130-8h0m34 5h0m0-6h0m41 8h0m13-6h0m4 3h0m8-3h0m50-2h0m56 9h0m34-4h0m9 1h0m107-3h0m20-2h0m86 5h0m-595 13h0m13-7h0m68 5h0m19-1h0m141 5h0m5 0h0m51-3h0m10 1h0m11-6h0m47 7h0m77-2h0m82-7h0m15 8h0m37-6h0m-547 16h0m29-2h0m3 3h0m49 1h0m6-8h0m20 8h0m70-1h0m74-1h0m138 0h0m26-6h0m62 4h0m4 1h0m10 1h0m0 1h0m1 1h0m39-4h0m-566 15h0m78 1h0m3 2h0m41-9h0m59-1h0m9 8h0m2 0h0m50-2h0m2-6h0m55 9h0m50 0h0m25-2h0m20-2h0m5 1h0m56 0h0m76 1h0m42-2h0m5 0h0m-523 17h0m59-4h0m3-1h0m32 2h0m1-2h0m17-3h0m32 6h0m18-7h0m1 3h0m138-2h0m3 2h0m12-3h0m1 6h0m15-6h0m12-1h0m189 2h0m10 2h0m2-2h0m-608 15h0m18-2h0m55 7h0m5-9h0m7 1h0m18 1h0m57-3h0m46 8h0m39 2h0m81-9h0m14 8h0m55-1h0m3-1h0m9-2h0m34-3h0m1 8h0m24-3h0m5-3h0m61-4h0m76-1h0m-518 14h0m12 9h0m6-6h0m30-1h0m15 4h0m6 1h0m11 2h0m161-10h0m68 4h0m5 3h0m23-5h0m-346 12h0m29 2h0m19 1h0m27 1h0m11-7h0m58 1h0m9 10h0m8-2h0m4-7h0m114 9h0m5-7h0m34 5h0m26-3h0m178-6h0m-549 18h0m53 1h0m18-6h0m62-1h0m33 9h0m13-4h0m97-1h0m5 5h0m41-1h0m0-2h0m34-5h0m-395 16h0m29-5h0m8 1h0m46 0h0m10 7h0m13-3h0m11 5h0m119-4h0m78-2h0m48 5h0m32-1h0m29 0h0m18 1h0m136-6h0m22 0h0" stroke="#828282" stroke-width="3.0" stroke-opacity="0.8"/>
<path d="M78 4h0m10 1h0m2 0h0m1-4h0m6 1h0m12-2h0m48 9h0m8-1h0m26 1h0m68-5h0m7-1h0m57 6h0m16-7h0m52 7h0m20-1h0m14-9h0m0 0h0m0 10h0m70-6h0m15 6h0m27-4h0m14 0h0m28-1h0m2-3h0m20 4h0m-548 9h0m12-1h0m0 1h0m3-1h0m28-2h0m4 11h0m21-10h0m28 3h0m39-2h0m2 6h0m43-6h0m19 6h0m10-2h0m38-3h0m16 3h0m76 2h0m127-6h0m81 4h0m-527 11h0m25-4h0m25 2h0m58 8h0m22-8h0m146 4h0m38 4h0m10-3h0m187-4h0m20 5h0m2-9h0m-562 13h0m149 10h0m4-6h0m3-3h0m87-2h0m112 1h0m5 1h0m-317 19h0m33-3h0m76 5h0m38-7h0m80-1h0m14 7h0m55 1h0m8-10h0m11 10h0m13-7h0m-305 14h0m1-4h0m12-2h0m61 9h0m3 2h0m10-10h0m15 10h0m16 0h0m7-6h0m4 2h0m88-3h0m70-2h0m14-2h0m-349 23h0m130-9h0m162 1h0m15 8h0m21 0h0m-242 12h0m38-11h0m60 6h0m83-4h0m11 0h0m3 8h0m18-7h0m25 2h0m7-4h0m38 2h0m179 1h0m-490 18h0m10-6h0m48 5h0m79 2h0m47-8h0m23-2h0m15 10h0m6-9h0m56 9h0m24-11h0m-380 17h0m171 3h0m13-1h0m11-6h0m17 4h0m5 1h0m49-5h0m13 4h0m115-2h0m74 7h0m79-2h0m-549 5h0m16 0h0m12 10h0m30-7h0m20 7h0m18-1h0m2-7h0m6 0h0m119 7h0m11-1h0m3-8h0m42 0h0m147 5h0m26-4h0m50 3h0m-412 16h0m1-4h0m143-3h0m1 9h0m28-2h0m63-3h0m57 4h0m10 0h0m63-2h0m3-4h0m10-4h0m21 7h0m29-5h0m18 5h0m5-1h0m12-3h0m-423 14h0m6 3h0m15 3h0m108-3h0m73-8h0m57 5h0m31 3h0m19-7h0m20 7h0m25-2h0m66-5h0m-595 11h0m110 0h0m195 5h0m2 4h0m47-4h0m117 3h0m15-1h0m124-1h0m-598 12h0m113-5h0m2 7h0m76-8h0m82 2h0m38 7h0m30-4h0m2 4h0m54 1h0m20-8h0m5 2h0m25 2h0m32 2h0m5-8h0m24 6h0m87-2h0m-483 13h0m7 3h0m67-7h0m25 10h0m42 0h0m9-4h0m25-7h0m8 7h0m125-2h0m40-1h0m68 3h0m51-2h0m-493 9h0m45 6h0m11 3h0m23-9h0m71-1h0m7-1h0m35 3h0m11 1h0m1 2h0m6-4h0m69 0h0m4 7h0m40-1h0m13-7h0m20 10h0m3-2h0m77-3h0m37 1h0m-467 10h0m75 5h0m9 0h0m2-3h0m0 0h0m14-3h0m15-1h0m6 5h0m32-4h0m40 2h0m9-5h0m3 8h0m125-7h0m24 0h0m29-2h0m-388 13h0m37 3h0m1 6h0m44-9h0m3 7h0m22 1h0m7-7h0m41 4h0m50-4h0m2 3h0m11-4h0m107 3h0m26 0h0m-341 12h0m14 3h0m93-5h0m3 1h0m25 7h0m10-6h0m72 3h0m54-3h0m17 7h0m33-5h0m22 0h0m26-5h0m3 1h0m68 8h0m-550 2h0m123 2h0m77 3h0m1-4h0m79 2h0m5 1h0m9-4h0m16 11h0m17-9h0m40 9h0m12-3h0m2-8h0m10 10h0m18 0h0m2-10h0m2 6h0m30-3h0m76 8h0m4-8h0m-518 19h0m132-5h0m165 6h0m1-5h0m0-1h0m49 6h0m6-7h0m5 4h0m10-5h0m43 4h0m19 0h0m20-4h0m1 6h0m117 2h0m-373 1h0m21 1h0m32 1h0m3 4h0m42-3h0m53 1h0m28-3h0m160 9h0m33-9h0m-422 13h0m29 9h0m2 0h0m2-11h0m2 1h0m9 8h0m91-4h0m24-2h0m11-2h0m9 10h0m34-6h0m29 0h0m8-5h0m90 4h0m0-2h0m70 5h0m-552 8h0m38 7h0m104-2h0m120-3h0m42-3h0m47 4h0m129-4h0m8 8h0m17 1h0m-343 10h0m45 1h0m37 1h0m25 0h0m40-6h0m6-1h0m155 6h0m66-1h0m-543 9h0m47 5h0m186-11h0m10 8h0m230-4h0m16-1h0m9 1h0m33 0h0m5-3h0m10 4h0m-405 16h0m17 1h0m19-8h0m18 6h0m74-2h0m7-4h0m16 0h0m31 2h0m12-3h0m25-1h0m137 11h0m0-9h0m20 3h0m3 2h0m12-2h0m12-4h0m-547 14h0m3 4h0m23 4h0m32-5h0m2 3h0m15-3h0m2 0h0m66-5h0m114 3h0m14 3h0m53 4h0m2-9h0m16 6h0m40-2h0m150-3h0m-508 15h0m29-3h0m52 5h0m88-6h0m6 2h0m39 2h0m1 3h0m62-5h0m41 5h0m39 1h0m15-10h0m120 11h0m55-11h0m-566 19h0m42-2h0m2-5h0m44 9h0m71-1h0m18 0h0m42 3h0m150-7h0m0 7h0m209-10h0m-577 11h0m21 6h0m23 2h0m11 3h0m4-5h0m58 3h0m139-2h0m22-5h0m22 9h0m0-11h0m6 0h0m38 11h0m249-11h0m6 6h0m-593 11h0m4-3h0m39 0h0m19 4h0m8-6h0m104 9h0m57 0h0m21-2h0m113 0h0m20-5h0m119 7h0m19-6h0m74-1h0m-604 16h0m2-1h0m6 6h0m94-11h0m100 9h0m67-9h0m17 0h0m4 5h0m51 3h0m7-3h0m10 6h0m45-1h0m109-9h0m64 5h0m8-4h0m-581 21h0m14-6h0m77 4h0m19-5h0m143-1h0m3 6h0m25-8h0m49 5h0m0 3h0m13 2h0m10-4h0m118-5h0m27 0h0m-490 17h0m12 0h0m27 0h0m2 0h0m40 3h0m8-5h0m135 2h0m6 3h0m60 1h0m6 0h0m3-5h0m4-5h0m15 9h0m17-1h0m51 1h0m105 0h0m1-3h0m-506 12h0m26 1h0m12 2h0m54-8h0m131 0h0m5 4h0m7 5h0m2-9h0m5 8h0m41-5h0m8 1h0m21-6h0m25 10h0m32-4h0m27-3h0m11-2h0m21-1h0m40 10h0m2-1h0m18-3h0m9-3h0m104 0h0m2-2h0m-544 16h0m20-3h0m142 7h0m17-1h0m43-4h0m130 7h0m3-1h0m1-5h0m16 2h0m17-6h0m13 2h0m35 2h0m9-3h0m5 3h0m29 2h0m27-1h0m16 4h0m-582 3h0m67 5h0m5-2h0m4-2h0m5-1h0m1 7h0m56-4h0m35 4h0m0-2h0m41-6h0m26 1h0m132 9h0m95 1h0m65-8h0m9 4h0m40 4h0m3-3h0m1-7h0m-448 12h0m10 5h0m13-3h0m49 0h0m29 4h0m51 0h0m50 4h0m6-4h0m34-2h0m9-4h0m13-1h0m17 5h0m17 5h0m25 1h0m112-10h0m4 10h0m5-9h0m2 2h0m5 3h0m-511 14h0m62 0h0m14-9h0m5 8h0m138 1h0m36-8h0m17 2h0m20 4h0m10-2h0m4 0h0m82 3h0m104-2h0m-457 13h0m27-3h0m13 6h0m35-6h0m7 7h0m28-4h0m23 2h0m46-2h0m80-4h0m3-1h0m13 9h0m8-5h0m12-5h0m111 7h0m29-7h0m15 2h0m27 2h0m-522 8h0m4 6h0m98 1h0m29-3h0m16-4h0m25 2h0m69 2h0m2 5h0m12-7h0m89 1h0m31 0h0m15 7h0m6-7h0m125 2h0m-578 16h0m3-9h0m227 4h0m8 3h0m4-6h0m74 6h0m29-8h0m59 3h0m108 8h0m5-11h0m23 6h0m31-1h0m29-3h0m-534 13h0m13-1h0m16 7h0m11 1h0m10-3h0m94-5h0m19-1h0m126 5h0m9-6h0m57 1h0m133-1h0m20 3h0m-535 14h0m73 4h0m64-6h0m54-3h0m85 9h0m2-9h0m40 10h0m9-7h0m5 8h0m13-1h0m184-8h0m-555 21h0m61 0h0m25-9h0m111 0h0m7 4h0m18 3h0m179-3h0m-351 7h0m24 9h0m54-4h0m0-1h0m170-4h0m96 7h0m19 2h0m10-2h0m19-4h0m73 2h0" stroke="#828282" stroke-width="3.5" stroke-opacity="0.8"/>
<path d="M3 2h0m28 0h0m9 2h0m3-2h0m1-1h0m78 1h0m7 5h0m11-2h0m20-4h0m22-2h0m15 6h0m16-4h0m22-1h0m0 4h0m36 2h0m46-1h0m20-3h0m30-1h0m93 1h0m49 0h0m6 8h0m71-9h0m-546 14h0m19-1h0m15-1h0m135-2h0m23 3h0m36-1h0m27-1h0m18 6h0m47-6h0m15 8h0m5-4h0m0 5h0m37-1h0m99-4h0m0 0h0m53-4h0m16 10h0m-581 6h0m83-5h0m0 3h0m5 7h0m4-3h0m21 4h0m119 0h0m187-8h0m132 8h0m13-9h0m-426 18h0m15 2h0m58 0h0m72-8h0m40 1h0m-245 12h0m20 8h0m27-10h0m58 4h0m12-3h0m9 5h0m47-4h0m132 4h0m30-7h0m6 3h0m-245 14h0m26-2h0m35 8h0m11-3h0m9 3h0m18-6h0m15-4h0m16 8h0m60-7h0m27 6h0m1-2h0m-396 10h0m220-3h0m12 4h0m71-5h0m39 2h0m17-1h0m39 5h0m19 4h0m8-1h0m8-3h0m-329 9h0m14 2h0m83 0h0m7 1h0m4-2h0m20 4h0m6 0h0m10 0h0m131-1h0m10 3h0m13-4h0m19 0h0m14 0h0m-215 7h0m20 9h0m3-8h0m17 8h0m174-1h0m-434 14h0m178-11h0m3 4h0m57 7h0m20-7h0m172-1h0m20 2h0m7 5h0m-420 6h0m29 5h0m67-6h0m3 0h0m8 6h0m1-6h0m157-2h0m41 0h0m16-1h0m62 6h0m3 5h0m34-6h0m88 0h0m9 6h0m34 0h0m-456 9h0m54-2h0m140 4h0m31-1h0m30-4h0m24 3h0m55-8h0m32 1h0m10 6h0m7 3h0m12 1h0m3-2h0m19-5h0m-533 16h0m24-6h0m23 9h0m78-7h0m46-3h0m140-1h0m23 8h0m2-4h0m20-3h0m8 10h0m8-7h0m128 7h0m14-4h0m73 3h0m3-5h0m-572 11h0m91-1h0m2-3h0m44 10h0m7-6h0m135 2h0m14-1h0m14-5h0m56 1h0m22 3h0m12 7h0m2 0h0m55-5h0m14 5h0m21-1h0m-430 12h0m5-9h0m11 0h0m82 2h0m122 6h0m127 2h0m4-2h0m-356 10h0m27-3h0m16 6h0m3-4h0m74 4h0m111-6h0m2-3h0m5 5h0m6 4h0m2-6h0m17-2h0m80-2h0m8 5h0m27-5h0m17 6h0m14 0h0m55-1h0m18 6h0m-427 7h0m16-2h0m24 1h0m5 3h0m41-4h0m6 0h0m4 7h0m1-5h0m8 1h0m26 3h0m35-3h0m20 3h0m30-9h0m14 6h0m29-3h0m3 5h0m-230 12h0m52-9h0m9 2h0m30 9h0m0-2h0m17 2h0m11-7h0m62-4h0m36 8h0m56-2h0m7-4h0m22 6h0m27 2h0m29-2h0m-407 8h0m78 1h0m20-2h0m120-2h0m10 6h0m19-7h0m42 5h0m1-1h0m77-2h0m52 2h0m-436 16h0m44-8h0m57 7h0m14 3h0m9-2h0m8-7h0m24 2h0m12 4h0m2 2h0m28-2h0m22-1h0m36 1h0m46-6h0m25 10h0m10-6h0m14-5h0m-354 12h0m68 9h0m20-9h0m27 8h0m52-7h0m6 10h0m51-11h0m32 0h0m21 7h0m7 3h0m14 0h0m37 1h0m10-2h0m11-5h0m91 6h0m14-2h0m-442 14h0m32-10h0m3 1h0m49 9h0m13-2h0m15-5h0m30 7h0m16 1h0m66-6h0m4-1h0m49-1h0m29 7h0m9-4h0m93 1h0m-426 11h0m11 0h0m80 0h0m21 2h0m31 3h0m3-10h0m24-1h0m13 5h0m32 0h0m55-2h0m69-3h0m0 4h0m23 6h0m9-4h0m65 3h0m9-3h0m-368 11h0m17 6h0m52-5h0m203 3h0m35 1h0m17 1h0m2-10h0m32 3h0m15 4h0m5-2h0m-399 17h0m18-9h0m49 1h0m118-3h0m37 5h0m78 3h0m32 2h0m63-10h0m-524 18h0m4 4h0m9-8h0m128 7h0m13-3h0m47 0h0m36 4h0m266-3h0m28-1h0m-410 16h0m21-7h0m8-2h0m31 3h0m29-4h0m3 2h0m24 9h0m25-2h0m22 1h0m190-2h0m5-5h0m47-3h0m6 5h0m-284 15h0m35-4h0m15 6h0m22-1h0m0 0h0m8-3h0m3 5h0m8-10h0m138 6h0m11-4h0m6 0h0m3 3h0m25-6h0m-536 20h0m4-2h0m10 4h0m10-9h0m4 9h0m15-2h0m10-1h0m16-3h0m11 4h0m148 1h0m76-8h0m9 0h0m217 0h0m8 1h0m0-1h0m10 7h0m2-8h0m-566 14h0m16 8h0m20-7h0m2 4h0m67 1h0m38-8h0m113 9h0m14-2h0m13 2h0m7-5h0m55 0h0m32 3h0m169-5h0m-550 12h0m11 7h0m11-2h0m8-4h0m6 3h0m3 3h0m4-1h0m9-6h0m5 0h0m79 1h0m1-3h0m73 6h0m56 2h0m7-3h0m89 3h0m24-3h0m200 1h0m17 1h0m-568 13h0m26-2h0m13-1h0m3 6h0m31-9h0m11 5h0m24-4h0m39-3h0m26 6h0m106-1h0m21-4h0m1 8h0m5-2h0m32-7h0m5 7h0m8-6h0m9 2h0m4 8h0m140-1h0m42-5h0m23-2h0m6-1h0m-579 17h0m17-6h0m6 7h0m3-4h0m44-4h0m109 9h0m16 0h0m20-3h0m10 0h0m9 3h0m52-8h0m48 0h0m97 4h0m31-5h0m7 10h0m3-6h0m20 0h0m5 0h0m5 1h0m23 1h0m32-1h0m-584 18h0m10-11h0m25 0h0m22 2h0m27-2h0m8 1h0m3 3h0m15 6h0m4-10h0m79 3h0m15-3h0m36 3h0m46 8h0m2-9h0m3 0h0m52 9h0m40-2h0m28-8h0m59 8h0m1-5h0m25 7h0m36-1h0m-476 10h0m48-3h0m17 2h0m144-4h0m57 7h0m6 0h0m3-5h0m17 5h0m22-4h0m26-4h0m71 5h0m48 1h0m4-6h0m0 0h0m62 0h0m13 7h0m-389 14h0m14-7h0m62-4h0m10 7h0m47 3h0m7-2h0m15-4h0m2 4h0m38-7h0m14-1h0m39 7h0m12-1h0m7-1h0m0-5h0m61 2h0m22 1h0m7 3h0m17-4h0m-582 14h0m15-1h0m1 3h0m9-1h0m19 0h0m11 0h0m67 4h0m70 2h0m24-7h0m44-1h0m30 3h0m60-2h0m77-3h0m35 5h0m16 4h0m30-5h0m1 4h0m16-7h0m38 6h0m-562 15h0m6-2h0m120 1h0m56 1h0m29 0h0m9-4h0m15 2h0m46-1h0m38-7h0m1 0h0m3 10h0m3-7h0m11-1h0m8 0h0m0-2h0m11 8h0m7 0h0m5-6h0m51 2h0m37 6h0m18-10h0m64 4h0m23-5h0m4 9h0m5-3h0m35 1h0m-586 14h0m6-6h0m5 8h0m1-1h0m47-3h0m2 1h0m62 2h0m59 0h0m171-5h0m19-4h0m186 5h0m9-4h0m-542 11h0m82 8h0m14-2h0m45-7h0m39 0h0m5 1h0m5 6h0m18-3h0m29-2h0m12 3h0m18 5h0m21-3h0m61-2h0m133 3h0m33 3h0m-499 5h0m11 4h0m56-5h0m20-2h0m61 6h0m33 1h0m10-6h0m72 3h0m30-2h0m5-1h0m13-2h0m5 6h0m18 2h0m6 0h0m125 1h0m48-9h0m-568 19h0m83-2h0m53 3h0m28 0h0m19-6h0m28 4h0m30-4h0m49 8h0m10-1h0m57-8h0m5 1h0m60-2h0m0 2h0m6 5h0m114-3h0m1 5h0m48 2h0m-513 3h0m1-1h0m41 6h0m30-4h0m4 5h0m19-4h0m21-4h0m31 9h0m14-6h0m86 1h0m4 6h0m7 1h0m13-10h0m22 3h0m65 3h0m152-6h0m-595 13h0m113 6h0m5 0h0m16 2h0m4-3h0m32-7h0m1 7h0m7-6h0m11 0h0m2 7h0m50-5h0m117 8h0m40-4h0m5-3h0m46 5h0m3-8h0m9 3h0m51 2h0m14-4h0m7-1h0m42-1h0m11 2h0m-563 10h0m29 7h0m50-5h0m45 5h0m43-2h0m16 3h0m2-3h0m7-1h0m125-4h0m3 5h0m36 1h0m55-5h0m88 5h0m19 0h0m39 4h0m25-5h0m-546 14h0m19-1h0m107 3h0m41 0h0m193-1h0m3 0h0m11-7h0m136-1h0m35 1h0m-542 15h0m8 5h0m3-8h0m24 0h0m26 7h0m7-5h0m78 0h0m175 4h0m14 1h0m208 3h0m-562 10h0m12-9h0m18 4h0m26 2h0m63-4h0m18 2h0m55 1h0m80-1h0m3-2h0m32 6h0m8 0h0m2-1h0m2-5h0m9 3h0m18 4h0m18 1h0" stroke="#828282" stroke-width="4.5" stroke-opacity="0.8"/>
<path d="M27 9h0m7-5h0m34-5h0m1 6h0m6-6h0m103 5h0m1 4h0m82-3h0m0-3h0m5 8h0m30-6h0m44-1h0m15 5h0m16-7h0m12 3h0m20 5h0m8-7h0m16 1h0m87 2h0m12-1h0m18 5h0m3-10h0m0 6h0m50 0h0m3 5h0m9-8h0m-609 14h0m69 0h0m44-1h0m124 0h0m42 2h0m81-6h0m60 10h0m138-9h0m17 5h0m18-3h0m5 6h0m-510 3h0m5 0h0m10 4h0m37-3h0m29 1h0m33 6h0m186-1h0m6-5h0m25 3h0m125 0h0m12 1h0m-439 9h0m2 7h0m31-2h0m19-3h0m24 5h0m32 0h0m120-4h0m77-3h0m137 3h0m-330 9h0m92 8h0m4-6h0m54 1h0m137 3h0m8-2h0m-394 10h0m60 4h0m3-3h0m25 4h0m4-4h0m57-4h0m34 8h0m81-4h0m4-6h0m125 1h0m-521 15h0m231 3h0m10-3h0m3-3h0m1-1h0m73 1h0m32 2h0m16 8h0m-360 9h0m135 0h0m66-4h0m26 0h0m123 2h0m-352 8h0m18 4h0m93-2h0m2 5h0m19-8h0m110 10h0m81-11h0m6 10h0m7-2h0m25-4h0m2 2h0m-364 12h0m16-3h0m11 6h0m152-9h0m34 7h0m130 3h0m5-3h0m12-4h0m109 8h0m127-1h0m-599 11h0m4-2h0m8 3h0m17 1h0m5-1h0m40-4h0m15-5h0m11 0h0m23 1h0m95 5h0m5-2h0m36 1h0m14 5h0m72-2h0m66-5h0m3 3h0m37-4h0m82 6h0m-508 3h0m49 3h0m23 0h0m5 2h0m132-4h0m14 1h0m7 1h0m58-2h0m134 6h0m58-1h0m6-1h0m10 1h0m11 0h0m5-5h0m16 6h0m15 4h0m25-7h0m12-2h0m-584 14h0m11-4h0m47 10h0m2 0h0m12-7h0m5 0h0m29 7h0m75-2h0m10-8h0m23 8h0m13-5h0m62 1h0m94 7h0m1-9h0m3 7h0m13-1h0m24-7h0m6 1h0m94 4h0m16-2h0m13 6h0m11 1h0m0-6h0m2 5h0m19-10h0m-602 17h0m18 0h0m35 5h0m4-2h0m2-1h0m1-4h0m36 7h0m74-7h0m36 4h0m168 1h0m49 1h0m92-3h0m1 2h0m49 2h0m-524 5h0m8-1h0m47 5h0m17-4h0m17-3h0m12 3h0m2-1h0m2-2h0m30 0h0m36 11h0m28-3h0m2-6h0m13 5h0m160 1h0m4-8h0m1 8h0m4 3h0m4 0h0m18-4h0m3-7h0m-403 16h0m28-2h0m7 5h0m2 0h0m20 0h0m17-6h0m24 4h0m87 1h0m0-3h0m18 8h0m27-7h0m128 0h0m14 2h0m28-4h0m81 8h0m10-4h0m14-2h0m18-2h0m-569 21h0m0-6h0m35-1h0m92-2h0m110-2h0m4 3h0m71-2h0m7 5h0m9 4h0m3-6h0m16-1h0m56-1h0m74 9h0m5-3h0m27 2h0m1-10h0m48 2h0m48 2h0m-605 10h0m71 0h0m3 8h0m3-8h0m137-2h0m11 3h0m11 5h0m2-8h0m6 3h0m16 0h0m47 1h0m9 2h0m19-2h0m86 3h0m57-1h0m3-1h0m39 4h0m-432 9h0m83 5h0m20-10h0m32 3h0m16 3h0m12-1h0m45-6h0m55 2h0m15 2h0m66-4h0m18 7h0m21-2h0m39 3h0m22-7h0m-529 11h0m185 10h0m52-9h0m54 10h0m65-4h0m17 4h0m3 0h0m49-1h0m105-9h0m25 7h0m-524 14h0m51-10h0m117 11h0m6-8h0m23 1h0m52-1h0m22 2h0m24 4h0m29-9h0m28 8h0m12 2h0m43-7h0m5 8h0m2-6h0m70-3h0m9 7h0m21 0h0m-526 4h0m18 10h0m8-5h0m113 1h0m73-7h0m5 11h0m19-4h0m6 2h0m9-8h0m0 5h0m4-5h0m3 0h0m1 6h0m0 3h0m37-10h0m21 9h0m44-7h0m46-2h0m78 1h0m57 7h0m11 3h0m-549 4h0m3-1h0m101 7h0m111-2h0m17 3h0m8-10h0m33 1h0m0 2h0m31-3h0m33 4h0m28-3h0m5 10h0m2-8h0m96 6h0m-484 6h0m7 6h0m18-4h0m78-5h0m52 0h0m48 4h0m8 0h0m53 7h0m15-5h0m46 1h0m6 4h0m3-4h0m20 3h0m31-7h0m76 4h0m12 2h0m36 0h0m41-6h0m-561 20h0m68-8h0m65 8h0m48-7h0m75 6h0m9 0h0m26-1h0m23-2h0m40-7h0m15 7h0m7 2h0m95 2h0m45-11h0m22 2h0m-504 12h0m10-2h0m198 0h0m52 7h0m184-6h0m41 2h0m-500 15h0m25-4h0m11 4h0m221-2h0m17 2h0m252 0h0m0-3h0m-532 11h0m53 9h0m58-3h0m146-2h0m52 4h0m55-6h0m147 3h0m10-3h0m-516 18h0m4-5h0m1 2h0m5-6h0m17 6h0m13 3h0m3-9h0m58 9h0m117-5h0m29-4h0m30 4h0m5-5h0m35 1h0m26 1h0m167 2h0m19 1h0m1 3h0m-544 15h0m13-8h0m17-3h0m1 10h0m31-8h0m205-1h0m6 3h0m243 2h0m27-6h0m1 7h0m8 3h0m18-3h0m3 1h0m24-2h0m-589 8h0m41-2h0m235 1h0m2 1h0m3 4h0m51-6h0m16 3h0m176 5h0m29 2h0m-533 13h0m10-1h0m69-8h0m9-2h0m20 10h0m144-7h0m18 6h0m26-1h0m12 2h0m12-3h0m25-2h0m178 5h0m43-7h0m-604 19h0m33-1h0m8-1h0m14-3h0m5 2h0m2-2h0m25-3h0m25 0h0m9 4h0m23-2h0m89 5h0m284-3h0m4 2h0m40-5h0m9 7h0m-530 12h0m57-3h0m17 2h0m126-6h0m80 6h0m55 0h0m86 1h0m56-7h0m-515 10h0m2 7h0m16-8h0m18 6h0m1 4h0m34-3h0m15-6h0m33 7h0m212-7h0m19 6h0m8 3h0m16-7h0m86 2h0m20-2h0m43 0h0m60-3h0m-566 22h0m17-5h0m24 2h0m10-3h0m36 3h0m15-5h0m150 6h0m43-1h0m76 1h0m17-4h0m10-1h0m3 5h0m54 3h0m64-8h0m62-1h0m5 5h0m-594 9h0m5-1h0m8 8h0m56-10h0m18 0h0m20 7h0m91-7h0m13 5h0m31 5h0m24 0h0m10-11h0m10 3h0m8 1h0m14 5h0m23-5h0m42 0h0m70 1h0m5-5h0m24 4h0m7 4h0m5 1h0m28-5h0m47 3h0m14 4h0m5-4h0m-588 16h0m31-11h0m28 2h0m6 3h0m1-4h0m11 0h0m39 0h0m9 6h0m19 1h0m85 3h0m33-10h0m18 1h0m54 3h0m84 2h0m3 1h0m132-4h0m18 0h0m-561 16h0m6-3h0m4-2h0m4-2h0m11 7h0m89-4h0m30 0h0m68 1h0m80-3h0m11 7h0m126-9h0m110 0h0m8 6h0m1 2h0m8-8h0m-530 15h0m2 2h0m2-2h0m53 8h0m28-6h0m39 0h0m55-5h0m80 6h0m13 0h0m8 2h0m19-1h0m40-6h0m62 10h0m24-10h0m64 7h0m12 2h0m30-6h0m22-1h0m-583 15h0m3-4h0m68 5h0m19 2h0m206-3h0m5-4h0m4-1h0m25 7h0m51 3h0m65-2h0m73-2h0m45 1h0m0-6h0m10 3h0m8-3h0m6 6h0m-452 12h0m5-5h0m5 4h0m4-1h0m15 0h0m3 4h0m41-7h0m5 0h0m32 8h0m54 0h0m108-9h0m49 7h0m67-6h0m38-2h0m-561 17h0m66 1h0m28 2h0m4-3h0m96-3h0m5 1h0m122 5h0m0-1h0m18-2h0m43-1h0m18 6h0m17-5h0m95 3h0m15 1h0m77-5h0m-546 12h0m101 2h0m210-5h0m6 8h0m32-10h0m6 5h0m3 4h0m159-6h0m-478 13h0m16-2h0m14 1h0m6 3h0m60-2h0m142-2h0m29 8h0m34-8h0m7-1h0m9 8h0m10 2h0m151-3h0m8-2h0m-524 8h0m4 9h0m107-4h0m53-3h0m2 5h0m90-2h0m8 2h0m34-1h0m66-4h0m-358 13h0m49-3h0m241-2h0m48 11h0m-352 9h0m49 2h0m35-6h0m26 1h0m71 1h0m22-1h0m115 5h0m156 0h0m69-1h0" stroke="#8c8c8c" stroke-width="3.0" stroke-opacity="0.8"/>
<path d="M17 0h0m13 5h0m10 5h0m10-8h0m15 0h0m25 6h0m68-7h0m84 1h0m20 1h0m45 2h0m5-2h0m12 3h0m5-4h0m2 0h0m61-2h0m0 3h0m7 5h0m32 2h0m99-9h0m25-1h0m4-1h0m22 6h0m28-4h0m-559 13h0m19 4h0m10-6h0m2 4h0m39 0h0m26-5h0m0 0h0m155 8h0m44-8h0m33 9h0m36 1h0m103-5h0m11-4h0m13 9h0m35-1h0m0 2h0m13-5h0m-493 9h0m14-1h0m11 7h0m6-2h0m19 0h0m222-7h0m3 10h0m48-7h0m110 6h0m-422 4h0m3 7h0m38-8h0m4 1h0m6 2h0m9 3h0m24 1h0m0 1h0m13-8h0m221 4h0m119 0h0m2-2h0m3 2h0m-369 17h0m33 2h0m55-1h0m38-5h0m19 3h0m44 3h0m9-9h0m149 3h0m-427 9h0m112-2h0m42 10h0m49-9h0m32 6h0m0-7h0m15 11h0m160-5h0m-313 16h0m49-7h0m118 3h0m-265 6h0m16 11h0m126-7h0m86-4h0m14 0h0m29 7h0m8-2h0m43 2h0m-400 10h0m85 2h0m0-6h0m10-1h0m5 6h0m20-1h0m24-3h0m88 8h0m103-3h0m8-1h0m15 0h0m59 3h0m-432 9h0m25 5h0m84-7h0m50-1h0m84 6h0m4-3h0m82 2h0m4-4h0m81 2h0m24 5h0m-405 3h0m20 4h0m179 1h0m50 2h0m58-3h0m3-6h0m18 3h0m39-3h0m5 1h0m15 8h0m14 0h0m1-2h0m0-1h0m74-6h0m77 6h0m5-3h0m-582 15h0m28 3h0m21-8h0m24 10h0m30-7h0m123 6h0m7-5h0m21 0h0m21 1h0m10-1h0m4 2h0m108 1h0m13-4h0m24-3h0m27 3h0m32-3h0m68 5h0m0 1h0m-501 5h0m22 7h0m7 0h0m65-1h0m24 2h0m13-7h0m69 2h0m29-2h0m47 2h0m72 2h0m2-2h0m26 0h0m30-2h0m13 6h0m17 3h0m73-6h0m-545 18h0m0 0h0m42-2h0m11 3h0m35-5h0m0-2h0m76-4h0m5 8h0m4-4h0m3 1h0m15 1h0m5-6h0m1 0h0m10 7h0m7 3h0m29-8h0m17 9h0m20-11h0m2 8h0m95 3h0m14-1h0m1-10h0m4 3h0m99-3h0m4 2h0m3 2h0m9-1h0m21 7h0m-534 12h0m57-8h0m60-2h0m4 4h0m27-4h0m35 9h0m17-5h0m1-1h0m9 0h0m33 0h0m9 0h0m3-1h0m74-2h0m63 4h0m1 0h0m66 7h0m31-4h0m22-6h0m20 7h0m37 3h0m-527 4h0m7 8h0m129-7h0m6 7h0m5 0h0m16-6h0m55-2h0m52 7h0m20 1h0m41-4h0m4 4h0m6-11h0m10 7h0m57-1h0m49 2h0m27-5h0m20 2h0m-553 10h0m11 3h0m1 3h0m5 0h0m52 0h0m84-8h0m58 8h0m47-6h0m42 1h0m20-2h0m83 1h0m69-2h0m3 4h0m1 6h0m79-6h0m-548 11h0m39 4h0m122 3h0m50-5h0m113-3h0m64 1h0m2-4h0m47 8h0m23-3h0m47 0h0m-476 18h0m20-8h0m83-3h0m58 3h0m23 6h0m17-2h0m34-2h0m53 3h0m59-6h0m109-1h0m5 4h0m18-3h0m10 0h0m-524 19h0m2-1h0m16-5h0m135 7h0m99-9h0m12-1h0m6 1h0m-280 19h0m77-7h0m16 7h0m34-5h0m1 6h0m12-2h0m3 2h0m1-2h0m4-7h0m32 0h0m28 1h0m62 7h0m35-1h0m62-3h0m61-1h0m2 6h0m60 2h0m14-9h0m19 9h0m-539 8h0m13 1h0m25-4h0m13-2h0m3 7h0m11 1h0m26 0h0m55-9h0m19 2h0m7 3h0m35-1h0m67-5h0m33 11h0m59-1h0m9-4h0m5-5h0m37 2h0m9-2h0m85 5h0m7 1h0m58-1h0m-537 7h0m67 3h0m6-1h0m6 8h0m25-3h0m20-8h0m15 2h0m35-2h0m48 3h0m40 0h0m33-3h0m113 9h0m37-3h0m18 1h0m14-3h0m20-2h0m7 1h0m-539 15h0m30 4h0m101-2h0m33-8h0m64 9h0m49-4h0m18 1h0m167 5h0m3-9h0m9 0h0m74 0h0m10 1h0m-562 13h0m10 4h0m4-5h0m13-2h0m107 6h0m33 1h0m14-6h0m72 2h0m35 7h0m81 0h0m91-11h0m-458 22h0m29-6h0m232-3h0m2 7h0m3-6h0m13-2h0m41 3h0m32-2h0m7 8h0m16 0h0m1-9h0m98 8h0m74-6h0m-534 19h0m113-7h0m8-2h0m176 6h0m49 1h0m110-6h0m27 10h0m27-11h0m-500 23h0m11-3h0m9 2h0m12-8h0m202 1h0m37 8h0m214-3h0m-510 14h0m7-1h0m5-9h0m16 1h0m34 3h0m12 6h0m13-3h0m32 0h0m167 0h0m5 4h0m44-2h0m25 1h0m5-1h0m1-8h0m20 3h0m160-2h0m-553 14h0m24 1h0m14 3h0m75-5h0m118 2h0m44 4h0m22-8h0m53 6h0m21 0h0m9 2h0m140-6h0m19-1h0m8 2h0m21 7h0m2 0h0m43-9h0m-592 11h0m57 2h0m4-3h0m13 4h0m172 4h0m10-3h0m13 1h0m230-3h0m1-1h0m15 6h0m12-2h0m19-4h0m1 8h0m20-7h0m14 5h0m-561 13h0m36-6h0m169 3h0m33 2h0m5 3h0m5-8h0m77 7h0m149-1h0m69 0h0m23 1h0m-586 8h0m4 4h0m35-8h0m2 2h0m11 4h0m27 2h0m109-9h0m38 5h0m23-1h0m33 0h0m16 6h0m15-6h0m4-4h0m4 8h0m7 1h0m14-1h0m104-3h0m53 5h0m3-11h0m1 9h0m47 0h0m10-7h0m-573 16h0m49 2h0m2-3h0m28-2h0m26 7h0m3-1h0m119-6h0m66 7h0m22-3h0m8-6h0m42 5h0m99 2h0m21 1h0m-489 9h0m15 3h0m20-6h0m0-3h0m5 6h0m41 1h0m7 1h0m116-1h0m136-4h0m14 4h0m56-3h0m77 7h0m-492 12h0m11-1h0m6-1h0m1 0h0m39-7h0m137 3h0m43-3h0m9 9h0m63-4h0m42-1h0m17 3h0m11 1h0m138 0h0m47-9h0m38-1h0m-597 18h0m17-2h0m1 4h0m17 1h0m8-3h0m14-1h0m53-4h0m85 2h0m23 8h0m20-3h0m49-5h0m11 0h0m22 7h0m25 1h0m3-10h0m9 5h0m3-5h0m89 7h0m23 2h0m42-9h0m18 7h0m5 1h0m2-1h0m-532 7h0m7-2h0m60 3h0m21 0h0m47 4h0m54-6h0m32 4h0m9 5h0m9-10h0m60-1h0m25 8h0m22-8h0m43 9h0m39-3h0m26 3h0m1-7h0m28 9h0m26 0h0m17-10h0m41 9h0m-565 7h0m17 5h0m7-4h0m21 4h0m75-5h0m22-2h0m27 6h0m20-4h0m92-5h0m75 7h0m9-3h0m0 4h0m78-4h0m3 0h0m29 0h0m66 1h0m16-5h0m9 3h0m31-1h0m-609 13h0m91 6h0m26-9h0m12 4h0m84-2h0m7-2h0m33 5h0m4-3h0m16 6h0m2-6h0m21 1h0m12-1h0m9 5h0m50 0h0m24-6h0m23 10h0m14-3h0m92-4h0m24 3h0m35 0h0m-469 11h0m30 3h0m26-4h0m59-5h0m20 3h0m136-2h0m178 6h0m17-6h0m8 10h0m17-5h0m2 2h0m-521 11h0m56 1h0m163-5h0m16-1h0m16 9h0m22-3h0m13-7h0m3 5h0m35 4h0m153-9h0m3 10h0m17-1h0m14-10h0m15 3h0m-496 11h0m8 1h0m34 5h0m8-4h0m138 2h0m45 4h0m5-5h0m22 0h0m55 5h0m13 1h0m23-3h0m85-5h0m-547 19h0m138-5h0m7 2h0m37 2h0m56-9h0m132 11h0m26-3h0m64-4h0m9-3h0m5 2h0m50 1h0m75 1h0m-472 15h0m116 0h0m72 3h0m61 0h0m6-7h0m128 0h0m16-2h0m27 3h0m-436 10h0m20 6h0m17-1h0m70-7h0m160 0h0m-315 20h0m8-8h0m54 2h0m91 4h0m20-3h0m71-3h0m9 0h0m50 0h0m61 1h0m-392 10h0m27 11h0m110-6h0m8 3h0m157-1h0m7-2h0m19 6h0m132-2h0" stroke="#8c8c8c" stroke-width="3.5" stroke-opacity="0.8"/>
<path d="M1 5h0m50 2h0m16 1h0m1-3h0m32 4h0m11-5h0m14 4h0m18-8h0m7 0h0m8 9h0m19-6h0m4 3h0m9-5h0m9 4h0m8-2h0m8 2h0m91 1h0m35 1h0m18 1h0m2-7h0m0 7h0m14-5h0m19 6h0m16-6h0m115 7h0m43-4h0m-557 6h0m66 1h0m9 4h0m15 1h0m3-7h0m2 7h0m7 3h0m12-2h0m18-7h0m11 9h0m52-8h0m66 3h0m112 6h0m142 0h0m26-7h0m22 1h0m17-2h0m-502 19h0m12-8h0m6 8h0m56-6h0m6 4h0m182-7h0m23 2h0m9 7h0m2-2h0m1 2h0m24-4h0m110-3h0m40 7h0m9-10h0m-466 23h0m11-7h0m4 3h0m7 3h0m18-5h0m19-2h0m191 6h0m11-9h0m21 1h0m14 9h0m1 1h0m8-11h0m1 10h0m159-9h0m-373 15h0m12 0h0m162 2h0m44-2h0m112 2h0m-445 13h0m24-6h0m91 2h0m0-1h0m26 0h0m58 5h0m34 2h0m24-3h0m-237 13h0m14-4h0m119 7h0m126-10h0m51 8h0m-405 10h0m125-1h0m48 1h0m47-5h0m2 2h0m30 3h0m92-4h0m-243 12h0m48-2h0m44 5h0m129 3h0m37 3h0m20-10h0m45 5h0m174 5h0m-602 11h0m46-1h0m11 1h0m47-4h0m15 2h0m22-8h0m14 9h0m30-7h0m43 2h0m96 2h0m15-3h0m7 4h0m21-6h0m47-1h0m172 11h0m18-10h0m4 4h0m-604 15h0m99-1h0m105 1h0m32 3h0m4-7h0m6 7h0m21-5h0m8-2h0m46-1h0m5 6h0m16-6h0m57 7h0m9-10h0m23 1h0m-424 16h0m24-2h0m1 8h0m11-7h0m30-4h0m4 4h0m39 5h0m98 0h0m13-4h0m20-5h0m3 8h0m13 1h0m96 1h0m28 0h0m13-9h0m27 0h0m41 5h0m12 4h0m19-2h0m18-5h0m10-1h0m17 9h0m15-8h0m20 3h0m-550 7h0m2 7h0m1-3h0m24 0h0m4 6h0m27-11h0m50 1h0m48 2h0m2 1h0m9 4h0m4-3h0m5 3h0m12 2h0m58-3h0m97 2h0m33-2h0m4 3h0m2-2h0m31-2h0m9 5h0m31-9h0m8 3h0m26 6h0m7-6h0m-495 13h0m34 3h0m18-5h0m10-3h0m11 5h0m37 5h0m9-1h0m43-1h0m60-9h0m32 7h0m13-6h0m8 8h0m113-4h0m124-5h0m17 10h0m28-9h0m-570 22h0m2-11h0m6 7h0m10 3h0m15 0h0m6-4h0m16-2h0m1-3h0m53 0h0m27 8h0m66-4h0m7 0h0m5 0h0m82-5h0m112 10h0m15 0h0m4-7h0m53 5h0m19-3h0m15 5h0m41-7h0m-508 9h0m14 4h0m72 2h0m52 2h0m200-3h0m4-3h0m10 9h0m34-11h0m67 8h0m15 1h0m31-1h0m-483 10h0m1 3h0m7 1h0m5-9h0m0 8h0m6 2h0m34-11h0m106 8h0m229-3h0m25-1h0m11-2h0m93 2h0m-601 9h0m38 4h0m156-1h0m11 3h0m20-2h0m1-1h0m48 1h0m87-4h0m9 1h0m157 3h0m-517 14h0m3-1h0m13 0h0m162-6h0m56 4h0m8 7h0m12-10h0m12-1h0m26 7h0m38-4h0m107 2h0m10 1h0m27-3h0m70 0h0m-366 20h0m2-5h0m42 1h0m40-3h0m92-4h0m0 11h0m50-7h0m30-2h0m-443 12h0m26 9h0m28-1h0m11-3h0m30 2h0m50-2h0m33-3h0m34 6h0m1-3h0m32 2h0m2 1h0m1-1h0m75-9h0m14 7h0m91-7h0m11 3h0m9 7h0m5 0h0m78-9h0m-502 20h0m122 1h0m5-5h0m36 0h0m4-2h0m3 0h0m6-2h0m33 8h0m40-8h0m115 10h0m17-8h0m1 6h0m10-4h0m10 6h0m78-3h0m25-1h0m-516 10h0m114-4h0m30 7h0m23-2h0m19-5h0m31 5h0m17 1h0m20 3h0m24-2h0m4-2h0m92 0h0m61-2h0m53 7h0m5-4h0m48-3h0m-544 11h0m10 6h0m18 0h0m81-8h0m62 0h0m65 6h0m12 4h0m6 0h0m12-6h0m11-2h0m91-3h0m2 10h0m32-10h0m108 9h0m-491 6h0m33 8h0m76-9h0m16-1h0m21 1h0m2 0h0m28 7h0m18-4h0m29 1h0m6-6h0m73 8h0m34 0h0m23-8h0m81 2h0m12 9h0m22-6h0m3 3h0m25-6h0m12 0h0m6-2h0m-551 16h0m41 5h0m19 0h0m196-9h0m21 3h0m65 4h0m120-5h0m73 5h0m-504 16h0m3-3h0m105-5h0m0 0h0m100-2h0m22 0h0m21 5h0m31 3h0m1-4h0m10 1h0m41-2h0m13 4h0m-341 15h0m26-6h0m63 6h0m169-1h0m23-5h0m26 1h0m16-4h0m174 6h0m9 0h0m-515 15h0m35-8h0m3 0h0m0 5h0m7 1h0m216-9h0m91 6h0m3-5h0m138 10h0m40-8h0m3 8h0m-559 6h0m82-2h0m20 3h0m110 3h0m37 0h0m11-9h0m7 0h0m76 11h0m15-10h0m180 8h0m33-8h0m-568 14h0m44 0h0m37 6h0m24-3h0m94 2h0m38 0h0m57-1h0m2 2h0m44-9h0m26 2h0m186 8h0m9-9h0m-495 20h0m189-7h0m14 0h0m9 2h0m1 7h0m9-1h0m28 1h0m60-5h0m140 1h0m3-5h0m12-1h0m2 5h0m14-4h0m26 5h0m13-3h0m7-1h0m-556 9h0m2 7h0m8-1h0m5-3h0m151 5h0m15-6h0m2 8h0m27-6h0m10 3h0m0-1h0m4-2h0m0 0h0m17-1h0m22 2h0m2 6h0m32-7h0m74 5h0m100-2h0m19 0h0m1-7h0m74 11h0m-607 3h0m66-1h0m36 0h0m8 0h0m132-1h0m26 0h0m27 5h0m11-5h0m16 6h0m57 3h0m30-3h0m2 4h0m62-8h0m-427 11h0m26 3h0m190-2h0m34 3h0m8-3h0m10 5h0m49-5h0m35 0h0m63 1h0m17-2h0m16 3h0m83 7h0m-571 4h0m29 3h0m14-2h0m44-2h0m25 1h0m4 8h0m67-1h0m18-3h0m7 1h0m8-1h0m30 2h0m29 0h0m3-7h0m23 3h0m13 5h0m0-10h0m43 2h0m18 8h0m30-8h0m3 5h0m58 0h0m26 3h0m1-6h0m51 2h0m19-4h0m10 1h0m-568 18h0m15 1h0m34-4h0m20 1h0m1 0h0m11-2h0m9-5h0m85 7h0m54-2h0m2 1h0m10 3h0m27-5h0m7-1h0m2 4h0m18-4h0m49 1h0m9-2h0m24 5h0m31-6h0m12 1h0m33-2h0m30 9h0m-497 7h0m24 4h0m40 0h0m44 1h0m85-1h0m107 0h0m0-3h0m34-5h0m38 2h0m108 2h0m27 1h0m19-2h0m41 8h0m-569 9h0m31 2h0m2-3h0m66 4h0m56 0h0m4-6h0m53 1h0m25 4h0m103-3h0m51-2h0m4-1h0m6-1h0m39-1h0m6 4h0m15-4h0m37-2h0m8 9h0m15-5h0m1 2h0m44-1h0m4-1h0m8 3h0m-569 15h0m9-4h0m5-4h0m38-2h0m29 1h0m101 3h0m26 1h0m37 0h0m14-4h0m25 7h0m28-5h0m1 5h0m2-4h0m6-1h0m5 4h0m30 1h0m99-6h0m46 1h0m18 4h0m28 3h0m1-3h0m-546 13h0m26-7h0m118 0h0m17 1h0m18 4h0m25-3h0m4-1h0m12 0h0m73 0h0m14 4h0m76 4h0m10-4h0m13 1h0m0 2h0m10 2h0m7-3h0m4 2h0m81-8h0m43 1h0m15 0h0m12 1h0m-575 15h0m127 3h0m27-2h0m17-7h0m140 4h0m36-2h0m7-1h0m20 8h0m8 0h0m160-8h0m35-1h0m-280 17h0m17-2h0m96 4h0m32 3h0m75-5h0m8-5h0m-532 19h0m99-1h0m85-1h0m21-5h0m23 6h0m6-5h0m7 9h0m72-6h0m48 3h0m2-6h0m80-2h0m137 6h0m-470 10h0m12 1h0m7 6h0m5-7h0m16-1h0m191 2h0m19 1h0m24 2h0m9-2h0m3 1h0m28 1h0m95-1h0m8 1h0m4 3h0m18-6h0m14 1h0m-499 12h0m13 1h0m8 1h0m31-6h0m212 5h0m76-1h0m12-6h0m190 8h0m-554 6h0m6-1h0m67 0h0m94 9h0m5-4h0m12-5h0m-218 15h0m140 0h0m171 4h0m49 2h0m39-6h0m10-1h0" stroke="#8c8c8c" stroke-width="4.5" stroke-opacity="0.8"/>
<path d="M73 7h0m8-7h0m49-1h0m34 5h0m22 4h0m75-2h0m1 0h0m2-2h0m38 2h0m26-1h0m59-6h0m10 6h0m142-6h0m10 1h0m4 8h0m3-5h0m53-1h0m-586 13h0m45 3h0m38 1h0m10-1h0m5 2h0m14-5h0m30-2h0m7 1h0m35 5h0m142-8h0m26 2h0m5 5h0m162 3h0m1 0h0m46-6h0m15-3h0m-471 13h0m8 6h0m34 0h0m21-7h0m154 2h0m37 5h0m152-1h0m11 1h0m-400 7h0m216 3h0m2 2h0m7-7h0m5 1h0m21 5h0m7 1h0m9-6h0m108 0h0m9 2h0m13 5h0m3 2h0m5-9h0m-468 11h0m124 8h0m30 1h0m90-6h0m25 3h0m-153 5h0m38 8h0m83 2h0m9 1h0m59-3h0m12-8h0m-276 14h0m106-1h0m15 0h0m90 9h0m27-7h0m44 5h0m0-2h0m-159 17h0m61-7h0m27 3h0m46-3h0m27 0h0m14 4h0m-425 6h0m114 5h0m50-5h0m247 5h0m15 1h0m-303 6h0m62-2h0m69 3h0m0 3h0m79-5h0m264 2h0m-584 10h0m278 9h0m66-6h0m90 1h0m141-4h0m-571 18h0m24-3h0m3-4h0m54 2h0m27-1h0m86 1h0m4 4h0m7 3h0m10 0h0m29-8h0m19 2h0m48 5h0m14 2h0m77-8h0m8-1h0m17 0h0m86 9h0m55-4h0m23-4h0m-591 12h0m5 3h0m7 6h0m32-11h0m36 8h0m2-4h0m41 5h0m61 2h0m7-5h0m2-1h0m32 0h0m36 5h0m32-8h0m101 3h0m44 3h0m69-4h0m2 6h0m22-5h0m8-4h0m37 3h0m-522 10h0m1 0h0m40 2h0m22 4h0m115-6h0m2 9h0m30 0h0m30-5h0m2-4h0m111 3h0m13 2h0m2 4h0m109 0h0m18-3h0m6 1h0m-547 10h0m5-2h0m10-1h0m49-4h0m52 11h0m154-8h0m115 8h0m4-4h0m1 0h0m64 1h0m45-5h0m0 0h0m25 0h0m-547 20h0m22 0h0m29-7h0m9 7h0m66-8h0m9 7h0m7-10h0m13 2h0m67 3h0m10 1h0m25 0h0m9-6h0m7 10h0m1-9h0m5 1h0m14 8h0m7-1h0m27 0h0m96 0h0m69-4h0m83 5h0m17-5h0m-589 10h0m31 2h0m24 4h0m3-9h0m5 9h0m16-6h0m7 4h0m125-4h0m66-2h0m36-1h0m179 3h0m49-3h0m66 1h0m-614 19h0m14 1h0m9-5h0m1 4h0m1-3h0m41 3h0m11-4h0m128 1h0m20 1h0m111 1h0m4 0h0m141 1h0m20 3h0m-449 10h0m48-7h0m93 9h0m21-5h0m16 4h0m30-6h0m42 1h0m147 1h0m12-5h0m29 2h0m5 2h0m26-5h0m-497 18h0m7 0h0m39-4h0m26 0h0m83 0h0m15 2h0m24 4h0m4 0h0m3 2h0m98-6h0m116 1h0m87 1h0m-510 16h0m25 0h0m17-2h0m91 3h0m8 0h0m11-3h0m13-4h0m113 4h0m8-7h0m70 2h0m54-2h0m14 2h0m20 0h0m76 7h0m13-2h0m-543 6h0m33 6h0m17 3h0m1-8h0m60 5h0m27 3h0m92-3h0m3-1h0m4-3h0m5 4h0m67-2h0m29-1h0m63 2h0m13-5h0m8 8h0m3 1h0m7-10h0m17 8h0m-453 10h0m11-1h0m8 3h0m23-4h0m21 0h0m5 2h0m2-1h0m37-3h0m37-1h0m23 0h0m34 7h0m15-6h0m34 5h0m3-8h0m18 1h0m80 6h0m53 2h0m92-3h0m19 5h0m40-11h0m-540 14h0m2-2h0m37 7h0m5-6h0m12 0h0m2 5h0m8-4h0m47 0h0m22 9h0m7-1h0m39-1h0m4-2h0m16-3h0m2-1h0m5-1h0m17-2h0m4 1h0m9 7h0m96-4h0m54-3h0m64 8h0m26-7h0m51 8h0m-518 2h0m35 10h0m10 1h0m54-6h0m22-2h0m5 0h0m8-2h0m115 4h0m16-2h0m15 8h0m222-3h0m4 2h0m-530 10h0m30-2h0m49 0h0m32 1h0m4 4h0m159 0h0m0-10h0m16 8h0m-277 4h0m100 8h0m168-9h0m12 1h0m6 6h0m6-6h0m10-1h0m216 1h0m10 9h0m1-1h0m-544 6h0m11 3h0m3-3h0m42-2h0m6 6h0m1-4h0m21-1h0m36 3h0m23-4h0m108 0h0m39-1h0m65 8h0m18 1h0m11-2h0m141-3h0m2 1h0m34-1h0m-558 17h0m7 1h0m10-6h0m9 5h0m27-8h0m13 6h0m9-3h0m204 2h0m11-4h0m48 2h0m1 3h0m19-7h0m0 4h0m14 5h0m146-8h0m39 5h0m-555 7h0m40 8h0m16-2h0m12-5h0m3 6h0m174-5h0m29 5h0m20 1h0m50-3h0m170 3h0m65 2h0m19-1h0m-383 9h0m77 1h0m267-8h0m3 11h0m9-11h0m14 5h0m-542 7h0m20 5h0m185 2h0m2-7h0m47 2h0m63 4h0m163 5h0m-521 9h0m7 2h0m2-4h0m6-4h0m6 3h0m17 2h0m3-3h0m24-2h0m13-1h0m27 3h0m12-3h0m115 9h0m42-6h0m14 2h0m38-2h0m4 1h0m-297 12h0m30-4h0m212 9h0m4-6h0m116 2h0m83 2h0m-429 13h0m237-4h0m2 4h0m8-8h0m23 8h0m22-5h0m7 4h0m6 0h0m25 3h0m18-5h0m76 5h0m31-3h0m6-4h0m4-1h0m61 8h0m-526 8h0m16 1h0m20 2h0m1 0h0m35-6h0m2-3h0m102 10h0m67-8h0m7-2h0m3 8h0m20-3h0m64-5h0m122 9h0m14-8h0m6 5h0m-469 15h0m9-9h0m23 10h0m37-5h0m61 5h0m14-6h0m52-1h0m52 3h0m35-6h0m47 5h0m120-5h0m67 4h0m-578 13h0m12-3h0m31 6h0m1-3h0m2 2h0m20-2h0m14 5h0m5-1h0m20-7h0m16 6h0m64-7h0m18 6h0m10-8h0m7 1h0m35 6h0m42-2h0m20 3h0m4-2h0m30 0h0m39-3h0m96 6h0m33-3h0m13 5h0m2 0h0m12-6h0m-550 13h0m13 0h0m53-6h0m8 0h0m64 11h0m67-11h0m10 10h0m98-3h0m21 4h0m49-6h0m13 2h0m4-1h0m58 3h0m49-2h0m25 4h0m21 0h0m12-2h0m0-6h0m-539 12h0m24 4h0m98-3h0m92-1h0m62-1h0m2 8h0m1 1h0m98-1h0m12 1h0m4-10h0m3 3h0m12-4h0m80 6h0m4 2h0m23 0h0m16-1h0m4 0h0m5 0h0m8-6h0m-576 15h0m13-2h0m75 9h0m8-1h0m49-5h0m38-1h0m38 5h0m7-6h0m73 7h0m21-10h0m23 0h0m0 5h0m20-2h0m50 5h0m6-5h0m6 2h0m3 5h0m13-4h0m3 0h0m14-6h0m77 2h0m-526 12h0m93-2h0m49 5h0m94-5h0m4 2h0m84 8h0m17-4h0m49 4h0m203 0h0m-592 5h0m64 7h0m12-8h0m72 3h0m16-3h0m52 1h0m6 7h0m78-5h0m26 1h0m2 4h0m1-1h0m13-6h0m35 7h0m7-2h0m3 0h0m6-2h0m38-1h0m23-2h0m143 5h0m2-4h0m-531 15h0m1-3h0m6 4h0m38 2h0m11-9h0m31 3h0m8-3h0m8 1h0m146 3h0m86 1h0m11 5h0m4-7h0m9 3h0m12-6h0m8-1h0m58 10h0m94-10h0m-522 21h0m292-4h0m29 0h0m0 5h0m16-10h0m113 11h0m71-11h0m-537 14h0m19 2h0m21 6h0m2-7h0m7 7h0m2-6h0m201 7h0m6-5h0m85 3h0m7-9h0m3 6h0m4 1h0m0-7h0m180 3h0m-508 11h0m22 8h0m29-10h0m222 3h0m-298 13h0m7 1h0m17-2h0m31-3h0m99 4h0m11 3h0m79-7h0" stroke="#969696" stroke-width="3.0" stroke-opacity="0.8"/>
<path d="M20 7h0m19-1h0m8-2h0m34-5h0m50 8h0m16-4h0m11-3h0m65 9h0m45-5h0m65 6h0m43 0h0m42-6h0m1-1h0m94 3h0m46 2h0m12-2h0m-560 7h0m33-2h0m62 5h0m33 5h0m11-3h0m27-2h0m9-3h0m15 1h0m0 7h0m1-1h0m162-7h0m13-1h0m9 3h0m9 1h0m19-3h0m102-2h0m21 11h0m27-10h0m22 4h0m27 4h0m-507 14h0m27-8h0m211 4h0m13-4h0m14 7h0m2-9h0m31 8h0m118 0h0m23-7h0m5 4h0m26-1h0m-454 11h0m12-4h0m50 8h0m2 1h0m168-2h0m37 0h0m6-5h0m23 1h0m126 0h0m12-1h0m-201 21h0m13-5h0m154 0h0m-414 12h0m139-3h0m54 1h0m18 2h0m1 5h0m-212 1h0m4 8h0m2 0h0m12-4h0m10 7h0m187-3h0m58-6h0m-267 15h0m15-4h0m9 7h0m31-3h0m196-3h0m21 1h0m-277 17h0m8 1h0m13-2h0m14 0h0m183-6h0m11 8h0m78-6h0m10-3h0m-424 20h0m112-8h0m10 0h0m82 10h0m43-7h0m9 3h0m53 2h0m31-7h0m98 8h0m-399 7h0m10 7h0m14 0h0m0-8h0m11 8h0m2 0h0m48-7h0m1-1h0m79 5h0m27-8h0m76 11h0m2-5h0m2-1h0m7-3h0m27 4h0m68 2h0m18-7h0m146 8h0m-510 9h0m2 2h0m5-8h0m28 1h0m0 0h0m4 5h0m1 3h0m100-1h0m7 1h0m0-3h0m7 0h0m32-5h0m89 1h0m1-1h0m12 8h0m11-2h0m46 1h0m44-3h0m13 1h0m64-5h0m52 1h0m9-2h0m10 8h0m-570 6h0m18 6h0m78 1h0m107-1h0m18-8h0m6 10h0m55 0h0m13-9h0m6 6h0m88-6h0m103 10h0m52-2h0m-564 3h0m32 1h0m112 3h0m45 3h0m19-3h0m24 4h0m23 1h0m42 2h0m20-9h0m70 4h0m26-4h0m91 8h0m14-7h0m6 8h0m48-11h0m-583 20h0m30 2h0m48-6h0m32 1h0m33-1h0m6 4h0m61-1h0m13 2h0m44-3h0m17-6h0m0 1h0m33 5h0m114-2h0m6 4h0m46-4h0m13-3h0m25 2h0m38-1h0m15 0h0m9 1h0m-556 10h0m39 6h0m7-2h0m30-1h0m14 3h0m9-5h0m17 5h0m64-2h0m13-4h0m6 6h0m30 4h0m51-11h0m100 2h0m4 3h0m64 4h0m8 2h0m29 0h0m9-9h0m-528 10h0m43 9h0m13-9h0m3 0h0m3 2h0m28-2h0m111 4h0m11-3h0m14 8h0m13-5h0m26-4h0m46 1h0m134 3h0m3 7h0m10-3h0m27 1h0m13-5h0m4-4h0m86 0h0m-586 14h0m5 7h0m30-4h0m11 1h0m18 4h0m115-1h0m28-5h0m11 4h0m12-5h0m69 5h0m28-5h0m8-2h0m111 8h0m18-2h0m46 1h0m-485 6h0m8 7h0m25-9h0m12 8h0m6 3h0m107-4h0m20-5h0m28 2h0m14 5h0m3 2h0m200-3h0m60-6h0m7 5h0m12 4h0m7-1h0m-497 3h0m4 4h0m34-3h0m36 6h0m58-2h0m34 4h0m13-2h0m59-4h0m21 5h0m221-1h0m15 1h0m-530 10h0m51-3h0m121-4h0m13 3h0m47 6h0m50-3h0m1-2h0m148-3h0m103 3h0m20 7h0m7-8h0m8-2h0m2 8h0m-575 14h0m15-8h0m13 5h0m16-2h0m32 2h0m11 2h0m69 1h0m9-8h0m27 6h0m2-6h0m11-3h0m57 9h0m6 1h0m11-5h0m26 2h0m18 3h0m43-5h0m3-4h0m9 1h0m41 3h0m3-1h0m13 0h0m125 7h0m-538 7h0m48 2h0m44-8h0m36 2h0m37 4h0m25 4h0m2-10h0m2 11h0m2-7h0m48 1h0m36 4h0m86-1h0m35-8h0m95 3h0m10 7h0m35-9h0m0-1h0m-530 20h0m1 2h0m39-7h0m8 4h0m5-6h0m14 2h0m8 3h0m2 1h0m69-2h0m3 2h0m2-6h0m1 9h0m309 1h0m26-5h0m31-5h0m15-1h0m-502 19h0m5-5h0m25 9h0m6-1h0m4-7h0m29 5h0m3 3h0m4-6h0m8 0h0m120 5h0m281-2h0m-518 12h0m57-7h0m33 3h0m139 1h0m23 4h0m42-9h0m40 9h0m106-9h0m66 0h0m-515 22h0m15-4h0m0 0h0m19-3h0m56-3h0m155 7h0m55-3h0m56-4h0m-377 22h0m12-3h0m9-5h0m1 3h0m15-4h0m49 4h0m11 1h0m23-3h0m11 3h0m4 2h0m116-1h0m11 3h0m121-8h0m0 6h0m121-6h0m19 1h0m31 0h0m-552 10h0m1 6h0m6-5h0m32 7h0m7-3h0m0-3h0m24 3h0m9 3h0m26-8h0m11 0h0m139 0h0m1 3h0m3-1h0m96-3h0m161 5h0m27-3h0m-530 18h0m10 2h0m15-6h0m25-1h0m212 8h0m16-10h0m9 3h0m246 3h0m-491 13h0m7 0h0m157-5h0m9 6h0m36 1h0m14 0h0m77-4h0m5 0h0m215-5h0m27 2h0m-594 13h0m32 7h0m1-6h0m16-2h0m0 7h0m200-4h0m270-2h0m1 1h0m16 3h0m12-1h0m-531 8h0m35 0h0m29 4h0m138 2h0m118-8h0m139 7h0m9 3h0m10 0h0m-493 1h0m20 8h0m14 0h0m35-7h0m16 4h0m109-5h0m72 1h0m59 10h0m138-6h0m24-1h0m8 0h0m76 7h0m-569 5h0m38 4h0m26-2h0m9 4h0m3-2h0m25-7h0m11 4h0m144-5h0m47 0h0m6 1h0m12 10h0m38-2h0m38-9h0m67 8h0m0 2h0m2-9h0m-436 11h0m7 10h0m188 1h0m1-1h0m42-1h0m12-5h0m14 4h0m1-5h0m11-1h0m30 0h0m60 5h0m56-3h0m55 7h0m-518 8h0m17 4h0m0-9h0m0 0h0m49 8h0m129-4h0m20 4h0m9-7h0m47-1h0m2 8h0m68 0h0m51-7h0m3-3h0m72 2h0m0 3h0m19 1h0m28-1h0m-487 18h0m43-8h0m9 7h0m129-5h0m78-3h0m102 3h0m22 5h0m13-3h0m3 2h0m63-4h0m56 6h0m1-7h0m35 0h0m-582 14h0m21-2h0m20-3h0m20 0h0m65 6h0m6-1h0m22-1h0m1-3h0m2 6h0m17-5h0m5-3h0m1 10h0m23-4h0m1-4h0m14 9h0m6-4h0m2-7h0m160 3h0m11 8h0m16-1h0m16-9h0m2 8h0m15-3h0m3 0h0m59 0h0m2-1h0m36 1h0m6 5h0m-554 1h0m126 2h0m27 5h0m135-6h0m9 6h0m81-7h0m6 9h0m13-8h0m14 1h0m22-1h0m13 8h0m75-9h0m66 0h0m-587 18h0m3 4h0m6-7h0m116 8h0m53-10h0m50 8h0m21-3h0m85 2h0m6 3h0m39 0h0m15-8h0m7 2h0m24-4h0m5-1h0m6 4h0m100-3h0m19 7h0m-383 5h0m128 5h0m8-4h0m53-1h0m22 0h0m151-1h0m2 4h0m63 0h0m-595 16h0m102 1h0m5-7h0m48-1h0m0 7h0m71-2h0m116-4h0m62 0h0m1 8h0m10-2h0m109 0h0m83-6h0m-522 18h0m5-4h0m10 6h0m0-10h0m43 1h0m26 3h0m156-2h0m87 0h0m112 8h0m4-1h0m-449 14h0m5-6h0m32 3h0m5-1h0m8 0h0m15-6h0m7 7h0m86-7h0m111 9h0m10-5h0m21-5h0m133 0h0m71 8h0m20 2h0m-541 11h0m17-4h0m10-3h0m35 8h0m1 1h0m9-9h0m8 7h0m202-7h0m52 1h0m25-2h0m-329 19h0m1-6h0m16 5h0m-89 14h0m24 1h0m17-3h0m58 3h0m119-3h0m91 1h0m110 3h0m84 0h0m68-1h0" stroke="#969696" stroke-width="3.5" stroke-opacity="0.8"/>
<path d="M6 1h0m71 2h0m50 7h0m27-7h0m5 5h0m36-1h0m6 2h0m35-9h0m62 10h0m66-3h0m4-5h0m44 7h0m114-2h0m25-4h0m2-1h0m41 2h0m2 5h0m-585 8h0m55-3h0m14-2h0m3 10h0m3-4h0m85 1h0m219-8h0m9 3h0m168 1h0m7 3h0m12-3h0m-235 17h0m3 2h0m41-2h0m17-6h0m121 2h0m15-5h0m26 5h0m-487 8h0m50-1h0m19 6h0m26 0h0m3 1h0m6 3h0m19-9h0m139 6h0m4-7h0m15 4h0m27-2h0m21 0h0m0 4h0m-328 10h0m21 2h0m100 0h0m32 5h0m128 0h0m23-7h0m13-2h0m-288 12h0m119 6h0m6-1h0m77 2h0m52 0h0m22-6h0m-295 13h0m10 6h0m7-6h0m76 5h0m54-7h0m-140 13h0m85 7h0m3-6h0m57 5h0m65-7h0m23 9h0m2-2h0m-330 7h0m98-3h0m1 6h0m20-3h0m1 2h0m34 2h0m9-3h0m6-5h0m49 8h0m123 1h0m3-3h0m26-1h0m2-5h0m28 6h0m10-1h0m2 2h0m6-6h0m-425 18h0m2-7h0m116 5h0m1-1h0m1-4h0m211 8h0m16-2h0m9-4h0m65 1h0m18 5h0m148-3h0m-572 10h0m96 6h0m15 1h0m5-2h0m89-7h0m29 10h0m3-5h0m56 2h0m40 3h0m53-3h0m23-6h0m15 6h0m55-2h0m39-1h0m6 3h0m-520 9h0m12 3h0m82 3h0m12-10h0m81 1h0m15 9h0m16-8h0m44-3h0m44 4h0m5-4h0m46 10h0m73-8h0m18 3h0m31 4h0m1-9h0m7 6h0m48-1h0m23 0h0m-546 16h0m4 0h0m2-8h0m12-1h0m9 1h0m1 6h0m5-6h0m13 1h0m19 2h0m42 3h0m49 3h0m14-7h0m32-1h0m36 9h0m41 0h0m274-9h0m-544 12h0m21-2h0m20 11h0m58-1h0m3-8h0m22 4h0m41-6h0m21 11h0m3-9h0m17 1h0m33 0h0m1-1h0m25 7h0m0-1h0m17-6h0m119 3h0m66 2h0m23-4h0m2-2h0m17 5h0m1-6h0m36 5h0m6 4h0m-596 7h0m27-1h0m3-2h0m3 0h0m2 8h0m23 1h0m0-9h0m1 9h0m19-2h0m5-2h0m36-6h0m16 1h0m73 0h0m0 2h0m49 5h0m1 2h0m15-7h0m20 4h0m22-2h0m193 2h0m17-4h0m8 3h0m7-6h0m19 11h0m34-9h0m-581 16h0m24 5h0m2-10h0m29 10h0m14-10h0m21 9h0m3-6h0m34 6h0m3-6h0m86 2h0m7 1h0m26-2h0m30-4h0m137 2h0m32 6h0m19-6h0m-474 15h0m1 2h0m10-3h0m3-5h0m3 11h0m75-2h0m96-6h0m28 5h0m45 0h0m5-7h0m4 5h0m14-4h0m131 2h0m35-3h0m54 2h0m69 3h0m-544 9h0m16 4h0m25 0h0m178 1h0m105-6h0m6-1h0m72 6h0m14 1h0m7 3h0m10-8h0m9 5h0m9-3h0m-471 15h0m30 3h0m1-7h0m3-3h0m18 10h0m21-11h0m0 8h0m1-5h0m98 1h0m1-3h0m33 4h0m46 2h0m8 3h0m25-9h0m156 5h0m0-5h0m17 4h0m41-1h0m-505 11h0m11-2h0m24 1h0m5 8h0m14 0h0m12-4h0m28-3h0m81 3h0m95-3h0m24-1h0m79 8h0m151-5h0m-521 15h0m11 3h0m2 0h0m8-11h0m38 5h0m13-5h0m1 7h0m7-2h0m99 4h0m13-2h0m3 3h0m4-6h0m18 2h0m2 1h0m51 1h0m32-3h0m47 6h0m21-9h0m6-1h0m30 6h0m95 0h0m4 2h0m32 0h0m31 2h0m-525 8h0m3-1h0m5 5h0m9-9h0m0 3h0m36 3h0m46 2h0m44-8h0m2-1h0m21 2h0m30 1h0m33 3h0m47 4h0m17-6h0m33 1h0m63-4h0m15 2h0m73-2h0m8 5h0m15-1h0m4-4h0m9 6h0m-535 8h0m26-1h0m38-2h0m2 3h0m22 7h0m13-5h0m42-3h0m26 2h0m83-4h0m16-1h0m18 3h0m53 8h0m47-8h0m15-3h0m36 11h0m70-2h0m28-3h0m-551 16h0m8-6h0m20-4h0m58 7h0m15 2h0m9 1h0m13 0h0m13-6h0m17 6h0m26-8h0m16 7h0m9-3h0m36-2h0m97 7h0m4-9h0m18 7h0m89-7h0m31 8h0m3-4h0m2-6h0m40 3h0m-528 18h0m13-1h0m78-7h0m4 3h0m28 6h0m17-7h0m9 2h0m112 6h0m91-10h0m102 1h0m64 3h0m-515 15h0m15-1h0m39-7h0m48 9h0m3 1h0m3 0h0m19 0h0m144-10h0m18 1h0m28-1h0m148 7h0m59-6h0m-509 11h0m46 6h0m53 1h0m6-4h0m237-1h0m-346 17h0m50 4h0m63-8h0m137-2h0m87 2h0m7-2h0m161 5h0m13 1h0m-538 7h0m119 2h0m8 4h0m144-2h0m25 1h0m212-7h0m-508 15h0m259 0h0m297 4h0m6-6h0m46 8h0m-608 11h0m12 0h0m5-6h0m205 3h0m59 2h0m65-2h0m-329 7h0m12 8h0m230 0h0m5 1h0m37-6h0m69-3h0m190 9h0m10 0h0m10-2h0m22-5h0m2-2h0m-608 13h0m6 8h0m23 1h0m47-5h0m46 2h0m92 2h0m22-9h0m40 11h0m22-2h0m45 0h0m129-2h0m8 4h0m23-4h0m106-7h0m-599 19h0m26 1h0m36-3h0m49 2h0m83 3h0m96 0h0m40 1h0m28-3h0m39-2h0m70 2h0m0 0h0m-444 15h0m54-6h0m199 0h0m59-4h0m22 10h0m19-10h0m24 10h0m97-8h0m3 4h0m9-3h0m-513 19h0m44-8h0m34 0h0m195 8h0m37-6h0m17 2h0m20 2h0m18-6h0m12 5h0m36-5h0m40 6h0m19 2h0m14-10h0m1-1h0m37 2h0m-532 12h0m17 5h0m8 2h0m2-5h0m79 0h0m26 0h0m92 5h0m37-4h0m11-3h0m100 5h0m6 3h0m81 0h0m85-7h0m-520 11h0m19 9h0m15 0h0m143-2h0m16-4h0m29-2h0m57-2h0m16 7h0m5-7h0m13 6h0m55 0h0m73 0h0m4 2h0m1-6h0m4 7h0m11-7h0m31 1h0m36 5h0m-531 11h0m51-1h0m11-6h0m12-1h0m88 9h0m27-3h0m96 3h0m2-5h0m9 6h0m17 0h0m0-5h0m49 5h0m43-10h0m17 7h0m11-5h0m9-1h0m94 3h0m16 1h0m0 3h0m-564 8h0m8 3h0m115 3h0m18-7h0m98 2h0m39-2h0m11 7h0m9-4h0m28 5h0m67-8h0m42 0h0m2 1h0m81-1h0m-435 15h0m36 4h0m42 0h0m71-5h0m55-5h0m22 0h0m6 1h0m13 10h0m9 0h0m225 0h0m7-5h0m7-3h0m-474 12h0m9-2h0m210 6h0m22 2h0m15 0h0m27-2h0m-310 9h0m47 4h0m95-7h0m6 0h0m4 2h0m82 8h0m8-10h0m8-1h0m3 1h0m3 4h0m44-3h0m12 6h0m126-6h0m-447 14h0m8-2h0m39 5h0m66-7h0m46 7h0m83-6h0m29 8h0m40-6h0m34 3h0m7 5h0m34-10h0m143 7h0m-531 6h0m40 0h0m38 8h0m175-7h0m19 0h0m30 3h0m0-4h0m28 1h0m22-2h0m5 0h0m95 0h0m66 3h0m12-1h0m11 5h0m0-6h0m-489 21h0m17 0h0m1-7h0m227-3h0m-285 12h0m21 9h0m38-6h0m287-4h0m-389 20h0m4 3h0m55 0h0m7-9h0m24 0h0m40 5h0m64-7h0m115 7h0m85 3h0m156 0h0" stroke="#969696" stroke-width="4.5" stroke-opacity="0.8"/>
<path d="M4 5h0m26-5h0m42-1h0m2 2h0m32 9h0m7 0h0m4-8h0m1 6h0m61-6h0m7 1h0m9 7h0m22-7h0m134 7h0m63-11h0m2 10h0m106-7h0m43 8h0m4-5h0m-508 9h0m17 3h0m22 4h0m26-3h0m13-2h0m43 3h0m173-1h0m12 0h0m18-3h0m1 6h0m155-7h0m4 7h0m-454 8h0m13-4h0m43 5h0m21 0h0m5-6h0m8 2h0m7 5h0m158-5h0m33 0h0m153 7h0m-427 3h0m5 7h0m27-7h0m216 7h0m23-4h0m25 5h0m11-8h0m115 7h0m-218 15h0m42-9h0m5 3h0m26-5h0m2 11h0m8-1h0m-80 6h0m19 7h0m44-7h0m8 3h0m2-6h0m-279 13h0m4 0h0m3 18h0m4-8h0m14 1h0m11 7h0m192 2h0m19-7h0m73 1h0m-425 16h0m135 1h0m7-8h0m102-1h0m90 3h0m77 6h0m1-1h0m-407 11h0m109-1h0m2 2h0m291-8h0m15 9h0m-297 13h0m94-7h0m26 1h0m192-1h0m7 6h0m87 2h0m-533 8h0m10-2h0m77 4h0m3-4h0m19-4h0m26 10h0m89-1h0m19-4h0m171 0h0m7-6h0m6 6h0m108-4h0m6-1h0m41 1h0m-515 18h0m7-8h0m24 1h0m37 0h0m283 1h0m26 5h0m5 4h0m6-6h0m105 6h0m3-6h0m18-2h0m-560 12h0m96 5h0m7-1h0m28 0h0m76 4h0m94-1h0m89-5h0m9 6h0m25-7h0m89 4h0m9-3h0m33-3h0m7-1h0m-564 12h0m31 0h0m4 10h0m9-10h0m14 8h0m6-1h0m31-7h0m38 3h0m72 7h0m20-4h0m14-1h0m14-6h0m24 6h0m127-1h0m13-2h0m93 0h0m8 1h0m7 7h0m-538 10h0m54-4h0m3 4h0m17-4h0m1 4h0m9-6h0m37 0h0m11-3h0m139 11h0m141-2h0m27-8h0m3 7h0m9-7h0m29 5h0m-430 7h0m30 8h0m112-1h0m9 0h0m17 2h0m44-6h0m198-1h0m4 0h0m1 2h0m96-4h0m-552 11h0m13 7h0m4 1h0m23 0h0m21-6h0m25 6h0m88-4h0m4-4h0m10 1h0m107 5h0m-297 12h0m0-3h0m2-1h0m5 8h0m8-5h0m8 1h0m49 0h0m92 3h0m36 2h0m7-10h0m38 0h0m232 3h0m7-4h0m-486 13h0m26 10h0m28-10h0m18-1h0m15 11h0m5-11h0m-74 17h0m4 4h0m22-5h0m35 4h0m3-4h0m0 1h0m69 1h0m34-3h0m12 4h0m14 1h0m1 0h0m178 2h0m6-1h0m6 0h0m17-5h0m13 4h0m4 3h0m99-4h0m-525 12h0m26 4h0m5-10h0m5 10h0m23-10h0m7 3h0m11 0h0m51 1h0m10 2h0m8-3h0m20 0h0m37 5h0m38-3h0m2 3h0m20-8h0m127 1h0m5 9h0m15-5h0m-427 10h0m93 7h0m26-2h0m22-4h0m8 2h0m34 3h0m38-1h0m12-2h0m9-1h0m24-4h0m12 3h0m80-2h0m9 2h0m3 2h0m7 2h0m4-9h0m19 4h0m6 1h0m-384 16h0m0-7h0m0 8h0m36-1h0m35-4h0m10 2h0m1-2h0m8-4h0m136 4h0m303 0h0m-544 8h0m43 2h0m44 4h0m6-6h0m8-1h0m32 5h0m218-3h0m6 1h0m2 2h0m96-4h0m2 2h0m8 8h0m8-7h0m-479 10h0m23 2h0m71-3h0m13 10h0m20-7h0m130 6h0m0-5h0m7 4h0m260-6h0m14 3h0m-542 15h0m3-9h0m25 7h0m5 2h0m2-2h0m34-2h0m24 2h0m15-3h0m29 7h0m245-7h0m-364 19h0m25-6h0m45 4h0m24 0h0m151-4h0m9 3h0m5-5h0m13 4h0m28-2h0m43-1h0m12 5h0m147-7h0m-497 11h0m72-1h0m0 2h0m166 8h0m33-9h0m64 6h0m16 1h0m140-6h0m39 4h0m11 2h0m4-5h0m-535 12h0m26 4h0m194 0h0m101-2h0m23 0h0m154 0h0m5 6h0m5-10h0m34 0h0m-525 22h0m227-9h0m260-1h0m4 2h0m3 5h0m19 3h0m-526 7h0m7 3h0m34-3h0m215-4h0m2-2h0m14 11h0m225-1h0m8-7h0m47 3h0m-569 13h0m22-7h0m235 1h0m-267 20h0m43 2h0m34-4h0m212-2h0m7 2h0m12-3h0m7 7h0m1-6h0m12 2h0m6 1h0m66 3h0m87-4h0m23-1h0m-455 10h0m16 3h0m1-2h0m4 5h0m1-9h0m234 10h0m13-10h0m142 0h0m-460 15h0m6 4h0m9-2h0m59-6h0m8 6h0m238-3h0m15 5h0m126-6h0m17 2h0m-491 12h0m7 4h0m4-7h0m3 6h0m76-7h0m142 8h0m66-4h0m14 3h0m155 0h0m13-4h0m16 3h0m19 2h0m10-4h0m-485 14h0m92 3h0m99-7h0m1 5h0m73-7h0m31 2h0m167 3h0m68-5h0m1 6h0m2 4h0m-536 9h0m10 2h0m5-3h0m179-3h0m184-3h0m7 11h0m15-5h0m-425 10h0m115-1h0m108 3h0m186 3h0m109-9h0m14 3h0m2 5h0m-403 13h0m3 0h0m11-4h0m139-4h0m16 1h0m22 0h0m10 8h0m2-2h0m53-8h0m123 9h0m30 0h0m16-2h0m3 0h0m-352 10h0m125 1h0m42 5h0m145-10h0m-428 13h0m131 0h0m84 1h0m3-1h0m25 6h0m2-6h0m25 3h0m5 5h0m-250 3h0m231 5h0m36 3h0m13-3h0m25 5h0m161-6h0m-508 18h0m287-9h0m46 5h0m11-1h0m-350 8h0m33 9h0m1-6h0m3 0h0m2-5h0m4 4h0m14 3h0m268-2h0m-329 12h0m1 0h0m51 3h0m2-4h0m11 7h0m270-3h0m-340 10h0" stroke="#a0a0a0" stroke-width="3.0" stroke-opacity="0.8"/>
<path d="M4 10h0m1-10h0m7 7h0m68-1h0m35 2h0m11-3h0m11-4h0m11 2h0m31 1h0m19-4h0m82 2h0m3 3h0m12 5h0m49-10h0m17 5h0m47-3h0m2 1h0m117-1h0m7-2h0m14 9h0m-528 4h0m78-1h0m2 0h0m64 6h0m21-2h0m180-5h0m49 0h0m-316 17h0m31-4h0m9 3h0m31 4h0m181-7h0m17 8h0m8 2h0m24-2h0m11 1h0m111-8h0m-399 10h0m287 5h0m-52 8h0m33 7h0m-282 9h0m252 5h0m18-8h0m7-2h0m14 1h0m-290 19h0m18-2h0m116-1h0m111 6h0m0 18h0m4 3h0m-219 4h0m197 5h0m1 3h0m104-7h0m-421 13h0m35 8h0m6-10h0m51 3h0m13-3h0m108 3h0m3 6h0m21-7h0m15 6h0m58-8h0m21 7h0m70 1h0m8-6h0m11-2h0m6 4h0m0 7h0m6-4h0m161 3h0m-613 12h0m7-10h0m25 5h0m2 0h0m53 4h0m33-1h0m12 0h0m81-6h0m61 6h0m15-3h0m1 1h0m133 3h0m1 1h0m19-7h0m84 6h0m42-6h0m17 2h0m-571 14h0m13 2h0m2 0h0m1-6h0m31 4h0m2-7h0m4 4h0m30 1h0m25 3h0m130 0h0m2 2h0m198-3h0m84-5h0m41 6h0m-563 10h0m5-1h0m1 4h0m11-4h0m9 6h0m23-5h0m2-6h0m39 3h0m18-3h0m74 3h0m14 4h0m15-3h0m8 7h0m7-11h0m10 10h0m15 1h0m12-11h0m7 6h0m128 5h0m14-5h0m21-4h0m73 7h0m-521 4h0m100 6h0m6-4h0m12 0h0m10 2h0m7 1h0m1-1h0m10-5h0m73 1h0m18 0h0m13-1h0m12 0h0m14 6h0m32-5h0m111 2h0m21 0h0m4 2h0m2 6h0m138 0h0m-569 6h0m7-2h0m1 8h0m63-3h0m39-5h0m16 4h0m108-3h0m28 2h0m8-6h0m4 4h0m250-3h0m22-1h0m-555 20h0m26-8h0m49 9h0m4-4h0m5 1h0m124 4h0m1-6h0m10-4h0m29 5h0m15 6h0m19-6h0m216-4h0m80 2h0m-572 16h0m27-5h0m19 4h0m43 4h0m80-3h0m43-7h0m34 4h0m25 3h0m177-1h0m28-1h0m-468 12h0m14 2h0m18 2h0m40-6h0m110 7h0m61-4h0m14-2h0m176-2h0m24 0h0m-428 15h0m14-4h0m122 0h0m1 10h0m16-6h0m15-4h0m-183 16h0m2-3h0m1 5h0m2 3h0m17-9h0m28 8h0m133-7h0m158 0h0m2 6h0m0-1h0m22 0h0m20-4h0m110 5h0m34-5h0m4 1h0m-525 19h0m44-1h0m85 1h0m9-4h0m147-7h0m66 10h0m6 0h0m12-10h0m1 2h0m6 1h0m-406 13h0m9 1h0m2 4h0m27 2h0m15-9h0m48 2h0m22 4h0m11-2h0m10-5h0m4 2h0m71 2h0m2 2h0m1-3h0m18-2h0m30 3h0m84 6h0m29-8h0m160 3h0m-546 8h0m33 9h0m23-7h0m47 1h0m6 2h0m8-5h0m113-2h0m123 11h0m170-3h0m-520 11h0m29-6h0m38 5h0m33 0h0m7 1h0m36-6h0m14 3h0m306 7h0m41-9h0m6 6h0m12-5h0m-504 18h0m63-1h0m11 3h0m169 0h0m1-1h0m193-10h0m-459 23h0m22-8h0m50 0h0m13 5h0m3-4h0m41-4h0m3 3h0m118-1h0m17 9h0m104-4h0m-361 5h0m54 6h0m32-4h0m151 5h0m13-5h0m18-2h0m19 7h0m57-6h0m151 3h0m41 1h0m-538 9h0m90-2h0m30 1h0m140 4h0m3 2h0m253-5h0m8 0h0m26 6h0m-552 10h0m48-1h0m192-4h0m300 6h0m-551 7h0m13 1h0m1 7h0m231 1h0m14-9h0m17-1h0m243 6h0m65-3h0m1 4h0m24 0h0m-605 15h0m11-10h0m26 0h0m224 2h0m24 2h0m274 2h0m6-1h0m19-1h0m13-5h0m-560 12h0m19 10h0m6-8h0m194-2h0m42 4h0m33 3h0m4 3h0m173 1h0m64-10h0m-572 16h0m15-4h0m34 7h0m10-1h0m8-6h0m218 9h0m206-5h0m1 6h0m12-3h0m6 2h0m-508 5h0m18-3h0m58 4h0m4 2h0m3-2h0m210-1h0m180 1h0m-477 17h0m11-4h0m42 5h0m255-7h0m15 6h0m8-7h0m153-1h0m25 2h0m-513 15h0m26-4h0m6 1h0m10 0h0m23 5h0m31-5h0m18 4h0m101 2h0m6-3h0m27-3h0m0 3h0m53-6h0m3 4h0m233 1h0m-493 9h0m25-1h0m6 1h0m9 0h0m18 2h0m30 6h0m80-10h0m31 6h0m248 5h0m15-5h0m-502 9h0m5-1h0m12 4h0m3-4h0m213 9h0m9-3h0m66-8h0m198 5h0m11 3h0m2-3h0m6 3h0m1-6h0m14 8h0m25-9h0m-560 19h0m16-1h0m14-2h0m89-3h0m1 7h0m23-7h0m77-1h0m4 5h0m68-3h0m124 4h0m98-6h0m-369 14h0m145 8h0m6-11h0m1 0h0m20 8h0m3-3h0m4 4h0m3-5h0m5 6h0m25-4h0m42 3h0m0-3h0m10 2h0m4 1h0m103-4h0m25-4h0m8 0h0m20 7h0m-349 10h0m89 4h0m21-1h0m1 2h0m27-2h0m173-9h0m-381 17h0m165-5h0m7 3h0m8 0h0m31 2h0m1-3h0m13 0h0m52 4h0m-294 12h0m98 0h0m98-4h0m34 3h0m-240 12h0m99 6h0m8-9h0m136 3h0m36 5h0m-186 7h0m178-5h0m2 3h0m7 8h0m-344 11h0m18 0h0m17 0h0m2-7h0m27-2h0m289 4h0m5 0h0m-333 14h0" stroke="#a0a0a0" stroke-width="3.5" stroke-opacity="0.8"/>
<path d="M28 5h0m0 4h0m62-8h0m27 9h0m1-2h0m35-7h0m20 5h0m6-3h0m13 2h0m62-2h0m109-2h0m23-1h0m153 1h0m17 0h0m-544 10h0m114 5h0m20-1h0m13 3h0m10-3h0m19 3h0m156-5h0m8 7h0m31-7h0m135-2h0m27 5h0m12-1h0m10-2h0m-474 12h0m12 8h0m40 0h0m24-3h0m17 4h0m202-8h0m143 1h0m6 3h0m-443 5h0m259 8h0m19-1h0m5-2h0m33-4h0m2 1h0m121 3h0m-223 14h0m47 0h0m-259 13h0m227-6h0m92 9h0m-314 5h0m247-1h0m8 6h0m7-1h0m55 3h0m-252 17h0m178-3h0m79 0h0m8 10h0m-109 12h0m6-3h0m2 1h0m13-2h0m91-6h0m-419 16h0m209-3h0m47 4h0m84-5h0m52 9h0m42-9h0m-423 12h0m34 1h0m40 9h0m129-5h0m40 0h0m5 0h0m2 4h0m75-10h0m68 3h0m78-1h0m66 6h0m21 3h0m3-9h0m2-2h0m-583 14h0m52 0h0m6 2h0m53 0h0m7-3h0m102 1h0m4 7h0m9-3h0m294-6h0m6 4h0m26-2h0m0 6h0m12 1h0m-528 14h0m5-4h0m30-3h0m18 1h0m25-2h0m78 6h0m14-1h0m320-2h0m50 2h0m-508 11h0m49-3h0m2 3h0m92-4h0m54 3h0m1-4h0m150 3h0m33 5h0m62-10h0m3 9h0m-519 12h0m39-6h0m2-3h0m210 4h0m6-3h0m12 0h0m289 10h0m2-2h0m10-1h0m10 2h0m-504 2h0m163 0h0m9 7h0m5-4h0m32 3h0m-292 6h0m39 8h0m19-2h0m20-6h0m1 5h0m126-4h0m15 10h0m0-11h0m223 5h0m44 2h0m13 3h0m10-3h0m-498 6h0m28 6h0m1 4h0m34-1h0m118-6h0m96-4h0m-284 13h0m29 6h0m133 2h0m32-3h0m168 5h0m159-8h0m-525 12h0m16-1h0m6 5h0m21-7h0m38 2h0m3-2h0m8 8h0m2-8h0m0 8h0m5 3h0m70-11h0m8 9h0m24-2h0m8 0h0m16 0h0m140-7h0m6 4h0m16 2h0m8 3h0m49-7h0m-269 19h0m92 1h0m128-8h0m52-1h0m127 1h0m-493 19h0m24-3h0m35-3h0m1 2h0m28 2h0m174-5h0m55 5h0m7 2h0m1-4h0m9-3h0m130 8h0m3-2h0m16-3h0m-562 14h0m22-6h0m4 0h0m17 1h0m12 0h0m1 7h0m8-4h0m15 0h0m7-2h0m50 1h0m11 5h0m24-7h0m345 6h0m38 1h0m-550 14h0m9-9h0m37 0h0m2 9h0m2-4h0m44 4h0m268-3h0m126-6h0m35-1h0m5 7h0m-448 4h0m9 10h0m152-4h0m6 3h0m2-3h0m-251 6h0m10 1h0m77 6h0m12-7h0m12 5h0m154-5h0m1 3h0m9-2h0m1 1h0m245 2h0m17 4h0m-439 6h0m7 9h0m146 0h0m10-5h0m13 4h0m80-4h0m7 3h0m-368 9h0m18 5h0m8-2h0m59-7h0m188 5h0m12 3h0m98-6h0m130 3h0m18 1h0m3-6h0m16 5h0m7 2h0m-557 9h0m30-3h0m16 7h0m217-5h0m264 2h0m1-5h0m1 6h0m12-8h0m-532 21h0m1-9h0m9 3h0m13 4h0m0 4h0m28-2h0m7 1h0m3 1h0m181-2h0m315-7h0m22 0h0m-549 12h0m33 6h0m160-8h0m2 3h0m328 1h0m5 1h0m2 2h0m-559 16h0m12-9h0m54 0h0m174 3h0m50-5h0m28 8h0m14 0h0m175 2h0m1 0h0m16-10h0m-513 21h0m24-6h0m19 7h0m239 0h0m2-3h0m4-7h0m19 2h0m1-1h0m4 5h0m12-1h0m143 0h0m9 4h0m16-3h0m7 4h0m-510 7h0m18-1h0m4-1h0m1 2h0m31-5h0m22 4h0m0 7h0m192-5h0m8-5h0m4 6h0m12-5h0m18 3h0m15 0h0m3 0h0m7-3h0m136 4h0m1-6h0m17 4h0m11-1h0m-506 14h0m8-1h0m27 0h0m6 3h0m44-2h0m216 1h0m20 2h0m20-5h0m142 6h0m14-9h0m-480 18h0m15 5h0m91-7h0m165 1h0m29 2h0m22 2h0m38-6h0m117 8h0m32 0h0m2-3h0m-471 7h0m3 6h0m23-7h0m13-1h0m32 3h0m167-4h0m135 10h0m63-3h0m59 3h0m2-7h0m10 7h0m6-3h0m-565 11h0m40 4h0m43-10h0m18 2h0m23 0h0m8 0h0m24 5h0m54 0h0m13 3h0m10-2h0m58 0h0m88-4h0m15 1h0m26-2h0m73 1h0m17 1h0m8 6h0m10-1h0m21-4h0m-507 6h0m95 0h0m182 11h0m6-1h0m71-3h0m25 4h0m130-8h0m-417 9h0m12 6h0m88 2h0m57-6h0m5 4h0m21-5h0m6 0h0m6 5h0m8-2h0m46 1h0m15 6h0m7-11h0m16 6h0m2 1h0m4 2h0m1 1h0m2-5h0m11-4h0m72 7h0m-289 5h0m90 9h0m20-10h0m252 4h0m-273 11h0m29 5h0m5 0h0m20-2h0m14 0h0m1 2h0m217-2h0m-374 17h0m168-2h0m13-4h0m-301 17h0m251-8h0m56 7h0m-337 5h0m7 2h0m27 0h0m11 6h0m-58 5h0m24 10h0m25 6h0m1-7h0" stroke="#a0a0a0" stroke-width="4.5" stroke-opacity="0.8"/>
<path d="M11 6h0m21-5h0m31 6h0m84-8h0m7 10h0m205-9h0m13 0h0m50 0h0m123 5h0m-387 12h0m200 0h0m1-6h0m172 5h0m5 4h0m3 1h0m0-5h0m5 6h0m7 0h0m14-1h0m-444 5h0m35 2h0m262 6h0m-54 5h0m6 3h0m13 0h0m17 0h0m-37 9h0m5-4h0m2 9h0m-4 12h0m-260 16h0m18 9h0m8-6h0m213 17h0m-109 14h0m-236 6h0m15 0h0m15 3h0m12 2h0m26-2h0m54-1h0m126 2h0m11-9h0m183 0h0m-436 15h0m3 5h0m81 1h0m27-7h0m21 8h0m75-3h0m4-6h0m16 0h0m43 2h0m276-1h0m15 3h0m7-1h0m0 5h0m2-2h0m7-7h0m-561 14h0m10 5h0m10 0h0m13 0h0m3-2h0m35-5h0m12 10h0m2-2h0m98 0h0m53-4h0m7 0h0m-250 9h0m4 0h0m6 8h0m66-9h0m114 7h0m9-2h0m13 6h0m215-1h0m102-9h0m5 5h0m1-1h0m19-3h0m13 1h0m-575 14h0m7 5h0m122-3h0m2 4h0m101-2h0m33 2h0m168-9h0m93 9h0m-533 12h0m14-4h0m34-4h0m7 2h0m10-4h0m4 1h0m16-2h0m9 11h0m125-10h0m10 4h0m31 6h0m21-7h0m259-1h0m14-1h0m-543 12h0m18 4h0m42 4h0m3-6h0m181-2h0m5-2h0m-261 20h0m3-3h0m19-4h0m24 9h0m23-9h0m126 6h0m25-1h0m1 0h0m-211 9h0m73-1h0m0 4h0m118 3h0m5-3h0m-197 13h0m17-7h0m1 1h0m16 7h0m13-7h0m30 10h0m9-10h0m100 6h0m6 0h0m228 12h0m10-2h0m132 2h0m-556 6h0m0 2h0m29 6h0m11-3h0m42-5h0m10-1h0m81 7h0m2 3h0m15-10h0m209 8h0m1 1h0m156-6h0m5 4h0m-555 11h0m5-6h0m10 7h0m3-5h0m50 0h0m58 2h0m9 2h0m97 3h0m25-8h0m-248 18h0m4 3h0m22-6h0m58-2h0m9 1h0m47 0h0m186 2h0m-260 17h0m15-5h0m249 1h0m154-6h0m16 6h0m7-3h0m-527 11h0m23 9h0m37-3h0m6-7h0m13 2h0m8 1h0m15 5h0m0-3h0m24 3h0m-116 4h0m11 9h0m55-1h0m10-3h0m-79 8h0m73 3h0m197 4h0m9-2h0m-296 12h0m45-1h0m10 1h0m1 2h0m239 1h0m76 1h0m-323 9h0m477 1h0m37-4h0m1 4h0m-563 9h0m3-4h0m33 5h0m12 0h0m234 1h0m244 3h0m2-9h0m1 8h0m76 1h0m-590 9h0m16-7h0m251 2h0m6 8h0m254-8h0m18 3h0m43-6h0m-595 19h0m6-2h0m15 2h0m28-3h0m15 3h0m229-7h0m31 7h0m-311 14h0m26-8h0m248 3h0m15 5h0m16-4h0m167 1h0m4-2h0m-486 10h0m60 8h0m14-9h0m232 7h0m30-4h0m152-4h0m-497 14h0m12 7h0m30 0h0m43-7h0m236-1h0m13 7h0m4 0h0m147 0h0m-482 8h0m62 7h0m282-11h0m-326 13h0m35 1h0m17 8h0m59-1h0m89-5h0m282-1h0m23 7h0m31-5h0m-553 17h0m31-7h0m20 1h0m168 3h0m181 3h0m133-9h0m14 10h0m-404 10h0m181-1h0m105 1h0m-278 10h0m9-6h0m158 2h0m236-3h0m-254 20h0m11 3h0m18-10h0m1 5h0m17 0h0m68-6h0m-18 19h0m-36 13h0m24 2h0m22-4h0m18-5h0m-339 35h0" stroke="#aaaaaa" stroke-width="3.0" stroke-opacity="0.8"/>
<path d="M119 2h0m33 6h0m259-8h0m119 2h0m-445 14h0m16 3h0m19-8h0m0 10h0m18-10h0m12 6h0m395 0h0m18-6h0m-459 14h0m31 6h0m5-6h0m23 2h0m195 17h0m15 1h0m162-5h0m-171 22h0m12 1h0m-251 18h0m2 0h0m219-1h0m19-9h0m2 15h0m-29 14h0m82 2h0m-400 15h0m106 0h0m121 1h0m78-4h0m10 4h0m-293 9h0m74-8h0m110 1h0m39 4h0m73-5h0m88 1h0m19 8h0m-377 9h0m15-3h0m9 1h0m8-2h0m114 9h0m31-11h0m26 4h0m145 5h0m5-1h0m113-1h0m1-2h0m30 4h0m-557 7h0m20 4h0m23 0h0m48-1h0m32 1h0m85-4h0m1 4h0m25 1h0m17-5h0m163 4h0m150-3h0m0 6h0m-521 6h0m12 5h0m27-10h0m132 3h0m30 4h0m2 1h0m13-1h0m264-2h0m21-2h0m6 5h0m29-5h0m-581 12h0m62 6h0m0 2h0m14-6h0m9-4h0m123 1h0m13 3h0m33 4h0m169-3h0m107-2h0m6 1h0m-540 8h0m18 6h0m21-5h0m89-1h0m83 2h0m5 3h0m22 2h0m4-6h0m28 7h0m8-1h0m163-2h0m127-4h0m7 2h0m4 5h0m-537 14h0m168-10h0m8 2h0m49-3h0m-259 13h0m80 9h0m105-7h0m32-3h0m-197 13h0m8 0h0m33 7h0m16-4h0m124-3h0m4 10h0m2-11h0m-195 14h0m22 1h0m18-1h0m2 8h0m130 1h0m4-9h0m15 5h0m2 2h0m10-6h0m-213 20h0m85-10h0m76 9h0m43-9h0m201 8h0m6 1h0m-422 6h0m71 1h0m15 2h0m79-6h0m8 5h0m14-1h0m231-4h0m12 0h0m134 8h0m-469 8h0m50 4h0m31-3h0m1 3h0m235-6h0m-389 19h0m39-6h0m43-4h0m4 8h0m18-3h0m116 1h0m112 0h0m151 0h0m5 3h0m17-4h0m-478 10h0m301 2h0m4 2h0m14-7h0m107 7h0m0 3h0m1-1h0m67-6h0m-518 13h0m53 7h0m28-1h0m21-6h0m3 5h0m3-6h0m6 8h0m114 0h0m7-4h0m-243 15h0m47-10h0m5 8h0m8 3h0m15-7h0m7 5h0m30-4h0m-45 15h0m10 3h0m28-4h0m175 4h0m-295 10h0m24 0h0m23 0h0m13-2h0m14-2h0m205-2h0m94 3h0m164-2h0m5 4h0m-543 11h0m31-2h0m12-1h0m230 5h0m5 1h0m12-10h0m229 11h0m-453 9h0m199-6h0m286 1h0m11-1h0m9 7h0m26-4h0m3 3h0m-305 5h0m3 1h0m241 6h0m10-7h0m23 2h0m0-2h0m9 4h0m6-4h0m-565 14h0m17 5h0m6-1h0m12-6h0m23 5h0m1 2h0m-83 10h0m7-2h0m48-3h0m26 7h0m223-8h0m14 3h0m23 2h0m0 4h0m-338 9h0m16-5h0m19 0h0m40 7h0m226 2h0m174-5h0m30 1h0m-509 16h0m7-10h0m15 7h0m4-7h0m45 9h0m222-2h0m28-5h0m1 7h0m4-6h0m6 1h0m142 0h0m13 6h0m-461 5h0m2-3h0m9 5h0m13-3h0m22 0h0m228-1h0m-289 17h0m2-5h0m6 1h0m5 7h0m11 2h0m3 0h0m46-7h0m357 6h0m69-4h0m5 3h0m3-6h0m26 7h0m13-2h0m-546 9h0m1 4h0m12-2h0m23-2h0m3-4h0m10 6h0m181-4h0m3 6h0m176-1h0m7 1h0m5-3h0m16 4h0m63-10h0m1 3h0m43 4h0m-331 7h0m7 7h0m5-2h0m172 0h0m20 0h0m9-5h0m16 1h0m2-3h0m3 3h0m72 7h0m18-9h0m20 0h0m-260 14h0m9-2h0m97 4h0m15-4h0m5 3h0m105 0h0m-209 8h0m4 6h0m6 0h0m-15 16h0m7-3h0m19-6h0m19 1h0m25 3h0m24 12h0m4-2h0m16 2h0m-25 9h0m12 6h0m-325 14h0m320-3h0m2 3h0m-306 7h0" stroke="#aaaaaa" stroke-width="3.5" stroke-opacity="0.8"/>
<path d="M17 7h0m29 0h0m6 2h0m43 1h0m5-10h0m60 0h0m382 5h0m30 2h0m-441 15h0m48-8h0m196 7h0m41-10h0m136 3h0m-410 17h0m16-8h0m16 3h0m189 1h0m7 5h0m0 2h0m36-11h0m-46 13h0m15 7h0m-11 16h0m15 2h0m-253 29h0m227-4h0m65 5h0m-300 9h0m2 2h0m13-7h0m201 10h0m22 1h0m61 0h0m-188 12h0m7 0h0m201-4h0m-436 14h0m3-4h0m25-4h0m33 7h0m31-2h0m10 5h0m10-10h0m20 4h0m112-4h0m2 1h0m8 2h0m184 0h0m-431 19h0m3-4h0m5-3h0m10 5h0m19-6h0m31 8h0m47-9h0m1-1h0m8 2h0m107 5h0m36-6h0m149-1h0m13 10h0m5-7h0m131 3h0m5-1h0m-547 17h0m2-6h0m69 5h0m17-6h0m135 7h0m22-5h0m171-3h0m-446 12h0m21 5h0m29-3h0m8 1h0m84-4h0m80 7h0m3-9h0m18 7h0m26 3h0m164-9h0m99 7h0m26-2h0m-511 11h0m0 2h0m3-4h0m5-2h0m5 2h0m6 5h0m24-6h0m54 5h0m71 2h0m6-2h0m4-4h0m299 5h0m4-8h0m21 10h0m6-6h0m15 0h0m11 3h0m-575 10h0m4 3h0m18 0h0m6-6h0m2 8h0m23-2h0m22-6h0m11 4h0m189-6h0m153 2h0m144-2h0m9 3h0m-566 14h0m22 6h0m20 0h0m12 0h0m-75 3h0m16-2h0m69 11h0m5 0h0m107-10h0m-173 19h0m16-5h0m32 0h0m26 0h0m0 0h0m88 4h0m-166 13h0m34-7h0m16 9h0m15 0h0m17-1h0m87-2h0m9 3h0m3-5h0m7-5h0m13 6h0m-222 13h0m32 1h0m9-5h0m19 7h0m97-1h0m17-9h0m18 8h0m14 1h0m164-1h0m39-1h0m8 3h0m11 0h0m-421 10h0m8-2h0m45 2h0m35-2h0m13-3h0m41 6h0m24-3h0m3 3h0m4-1h0m1 0h0m3-1h0m0-6h0m19 1h0m52 8h0m4 1h0m17-6h0m141 5h0m-405 4h0m60 5h0m97 0h0m19-4h0m1 8h0m45-11h0m324 7h0m-514 14h0m11-4h0m42 2h0m9 2h0m21-7h0m32 6h0m15 3h0m195-5h0m142 3h0m2 1h0m24-8h0m-473 19h0m24-2h0m8-7h0m14 3h0m378 4h0m23-6h0m-447 18h0m23-3h0m16 5h0m0 1h0m9-4h0m10 2h0m3-6h0m-122 15h0m23 0h0m60-4h0m12 5h0m10-4h0m158 1h0m6-3h0m-249 16h0m8-3h0m10 7h0m24 0h0m2-6h0m5 9h0m33-7h0m5 2h0m8 5h0m8-11h0m167 11h0m5-2h0m74 1h0m-304 13h0m17-9h0m212 5h0m77-4h0m9 2h0m145-1h0m16 3h0m0 3h0m19-3h0m-559 10h0m15 2h0m12 0h0m243 0h0m-252 12h0m25 3h0m225-4h0m14 5h0m265-5h0m20-1h0m5 3h0m-541 9h0m4 2h0m23 4h0m509-6h0m11-4h0m-580 18h0m17-4h0m21 2h0m247-3h0m28 5h0m15 2h0m-316 4h0m40 5h0m2-1h0m1-4h0m16 6h0m19-5h0m388-1h0m3-1h0m-463 21h0m24 0h0m10 0h0m7-4h0m242 2h0m40-3h0m158 2h0m-469 17h0m2-8h0m16-1h0m14 4h0m235 1h0m6-1h0m14-4h0m24-2h0m154 7h0m-494 13h0m6-5h0m11-2h0m12 4h0m12-3h0m21 6h0m7-5h0m272 0h0m158-2h0m-472 16h0m54 3h0m425 2h0m15-9h0m2 6h0m3 0h0m39 0h0m-563 12h0m34-2h0m188-5h0m183 11h0m11 0h0m27-10h0m76 4h0m6 3h0m10 0h0m-495 7h0m115-1h0m71 4h0m7-6h0m86 10h0m100-3h0m3-7h0m-113 20h0m16-1h0m94-4h0m12 1h0m15-3h0m109 4h0m-245 17h0m17-10h0m3 6h0m20 3h0m53 2h0m-97 1h0m13 6h0m4-5h0m42 4h0m7-2h0m-3 9h0m6 2h0m4 5h0m3 0h0m34 6h0m3 18h0m-308 7h0" stroke="#aaaaaa" stroke-width="4.5" stroke-opacity="0.8"/>
<path d="M541 10h0m-167 12h0m171-11h0m-410 13h0m228 2h0m1 2h0m178-3h0m5 4h0m6-4h0m-199 55h0m-3 9h0m-5 19h0m-333 22h0m222-7h0m22 2h0m-231 7h0m8 0h0m19 6h0m26-1h0m5 1h0m149-6h0m1 1h0m27 3h0m14 6h0m273-2h0m29-1h0m-573 15h0m11-8h0m36 0h0m203 0h0m20 8h0m5 0h0m266-2h0m9-4h0m12-4h0m-548 14h0m18 8h0m45-8h0m11-2h0m11-1h0m14 3h0m132-1h0m328 7h0m-516 9h0m83 1h0m90 4h0m314-10h0m-301 18h0m19-6h0m289 0h0m11 2h0m7 2h0m-559 27h0m4-4h0m7-1h0m58 4h0m127 2h0m-206 5h0m67 9h0m131-2h0m-137 13h0m6-9h0m-53 20h0m6-7h0m10 0h0m45 7h0m2-8h0m6 5h0m73 5h0m406 0h0m-476 11h0m4 1h0m103-6h0m368-4h0m-552 17h0m55-6h0m26 4h0m6 5h0m8-2h0m141-5h0m-216 11h0m7 2h0m58 8h0m0-5h0m19 4h0m15-3h0m2 3h0m114-7h0m-227 10h0m2 1h0m27 0h0m9 6h0m7 1h0m22-1h0m11-7h0m13 2h0m25-3h0m-128 18h0m3-6h0m105 5h0m9-5h0m-15 14h0m-105 12h0m60 8h0m300-2h0m-86 4h0m8 7h0m269 15h0m5-7h0m-286 22h0m263-1h0m-491 22h0m-31 3h0m12 6h0m22-5h0m18 4h0m-25 48h0m463 2h0m-501 10h0m39 5h0m496-6h0m14 0h0m7 5h0m-119 7h0m86-4h0m-103 12h0m116 1h0m4 3h0m-197 18h0" stroke="#b4b4b4" stroke-width="3.0" stroke-opacity="0.8"/>
<path d="M558 6h0m-6 19h0m8 1h0m-191 20h0m-22 42h0m2 20h0m-343 16h0m22-2h0m191 6h0m14 2h0m12-6h0m-218 15h0m33-1h0m49-2h0m20-3h0m117 1h0m27 2h0m306 5h0m-555 8h0m17-1h0m29-1h0m45-2h0m117 2h0m26 2h0m6-4h0m2-1h0m276 8h0m20-3h0m-547 12h0m5-3h0m4 8h0m3-10h0m3 1h0m198 8h0m5-2h0m38-1h0m273 2h0m27-5h0m-355 19h0m50-9h0m282-1h0m31 10h0m-565 12h0m225-5h0m36-4h0m-269 11h0m38 2h0m-39 12h0m37-3h0m34 5h0m114 5h0m2 1h0m-175 10h0m49-4h0m20-5h0m121 1h0m-173 11h0m22 10h0m8 0h0m0-8h0m22 0h0m100 6h0m-185 4h0m6 6h0m4-1h0m2-1h0m33 3h0m8 0h0m-9 8h0m32 8h0m79-1h0m3-2h0m17-1h0m10 2h0m-174 4h0m76 5h0m71 5h0m-141 8h0m89-5h0m5 1h0m6 2h0m15 6h0m10-2h0m10-4h0m-102 12h0m25 0h0m1 4h0m41 0h0m5 1h0m238-6h0m-346 13h0m78 2h0m1-3h0m3-2h0m42 1h0m-134 9h0m64 1h0m31 7h0m8 1h0m21-2h0m-20 14h0m24-3h0m153 19h0m242-1h0m6 9h0m10 2h0m16 0h0m-287 10h0m7-6h0m8 0h0m4 2h0m-7 7h0m257 0h0m-529 17h0m41-1h0m15 5h0m-57 50h0m32-2h0m3-2h0m20-7h0m-34 21h0m22 9h0m467 5h0m5-11h0m-220 32h0m109-4h0m4 1h0m1-4h0m-18 32h0" stroke="#b4b4b4" stroke-width="3.5" stroke-opacity="0.8"/>
<path d="M369 9h0m-15 11h0m7-8h0m164 8h0m10-2h0m27 3h0m-6 2h0m11 4h0m-211 17h0m7-4h0m-129 85h0m2-5h0m3 6h0m-240 9h0m14-4h0m25 2h0m20 9h0m33-7h0m13 3h0m114-6h0m319 5h0m1 5h0m-520 10h0m82-6h0m9-2h0m120 0h0m317 1h0m27 2h0m10 0h0m-576 19h0m2-9h0m80-1h0m9 0h0m22 4h0m103 2h0m9 4h0m317-8h0m31-1h0m-568 15h0m6 4h0m31-1h0m13-7h0m175 6h0m3 2h0m29-4h0m309-5h0m-537 18h0m28 5h0m2-9h0m-70 18h0m2-4h0m3-3h0m7 6h0m23 3h0m4-4h0m4 0h0m0 2h0m5-2h0m-33 16h0m2-2h0m16 1h0m8-1h0m28-5h0m14 3h0m2 3h0m-83 13h0m51-7h0m34 3h0m-73 15h0m6-3h0m72-4h0m3 3h0m-58 18h0m6-10h0m36 0h0m8 0h0m17 0h0m94 8h0m-191 4h0m12 0h0m2 2h0m1 0h0m14 3h0m41-4h0m3-1h0m5 7h0m84-6h0m248 0h0m-387 15h0m38 0h0m9 4h0m101-4h0m72 5h0m-219 2h0m49 8h0m11-5h0m3-2h0m268 7h0m-341 11h0m8-1h0m21 4h0m24 1h0m2-2h0m3 2h0m50-1h0m2-8h0m400 2h0m-439 11h0m3-2h0m-91 20h0m13-4h0m74 1h0m33-4h0m-106 16h0m76-2h0m35 4h0m149 8h0m12-1h0m1 16h0m236 4h0m-253 9h0m256-6h0m31 0h0m-273 11h0m246 0h0m42 6h0m-521 14h0m6-8h0m-41 20h0m4 2h0m24-11h0m29 0h0m229 4h0m-267 20h0m8 5h0m284-2h0m-318 15h0m23-5h0m20 3h0m-24 12h0m17-1h0m396 10h0m117 10h0m-146 11h0m5-4h0m-95 7h0m83 2h0m42 1h0m1 0h0m-134 16h0m88 13h0" stroke="#b4b4b4" stroke-width="4.5" stroke-opacity="0.8"/>
<path d="M550 22h0m-483 176h0m-45 8h0m-5 22h0m78 7h0m-13 22h0m16-6h0m-23 22h0m16 1h0m2 17h0m-9 19h0m14-4h0m5-2h0m12 3h0m-4 7h0m19 3h0m-30 6h0m0 1h0" stroke="#bebebe" stroke-width="3.0" stroke-opacity="0.8"/>
<path d="M242 134h0m27 44h0m-228 31h0m-19 9h0m4 2h0m34 6h0m-3 11h0m21-9h0m-44 24h0m9 1h0m15 0h0m39 12h0m-11 24h0m0 15h0m3 4h0m19-8h0m8 1h0m-18 13h0m18 9h0m14 6h0" stroke="#bebebe" stroke-width="3.5" stroke-opacity="0.8"/>
<path d="M541 26h0m-511 164h0m221-11h0m-232 18h0m16 14h0m22 2h0m28-3h0m-34 12h0m3 15h0m-18 2h0m40 7h0m-5 5h0m-43 15h0m67 5h0m-24 7h0m20 5h0m-68 6h0m78 1h0m15-3h0m-98 14h0m71 19h0m23-2h0m22 2h0m-50 7h0" stroke="#bebebe" stroke-width="4.5" stroke-opacity="0.8"/>
<path d="M96 319h0" stroke="#c8c8c8" stroke-width="3.0" stroke-opacity="0.8"/>
<path d="M114 304h0m6 10h0m6 2h0" stroke="#c8c8c8" stroke-width="3.5" stroke-opacity="0.8"/>
</g></g>
<text x="20.5" y="50.0" font-size="39" fill="#fff" text-anchor="start" stroke="#fff" stroke-width="0.3" >(a)</text>
<rect x="71.3" y="525.7" width="142.9" height="14.1" fill="#fff"/>
<text x="87.6" y="512.9" font-size="39" fill="#fff" text-anchor="start" stroke="#fff" stroke-width="0.3" >5 µm</text>
<path d="M722.5,190.0V190.0V225.9H724.5V211.9H725.5V232.9H726.5V228.8H727.5V210.6H728.5V201.0H729.5V205.9H730.5V207.6H731.5V211.9H732.5V216.4H733.5V142.0H734.5V202.2H735.5V226.2H736.5V210.7H737.5V212.6H738.5V186.1H739.5V165.4H740.5V200.7H741.5V168.0H742.5V166.3H743.5V196.2H744.5V189.0H745.5V165.8H746.5V168.2H747.5V201.1H748.5V167.8H749.5V188.4H750.5V160.8H751.5V190.4H752.5V161.0H753.5V181.3H754.5V160.7H755.5V187.4H756.5V203.9H757.5V170.6H758.5V181.1H759.5V204.6H760.5V197.4H761.5V183.5H762.5V197.4H763.5V189.2H764.5V207.8H765.5V182.7H766.5V146.0H767.5V200.6H768.5V206.8H769.5V191.9H770.5V208.6H771.5V208.2H772.5V193.8H773.5V176.2H774.5V221.1H775.5V220.3H776.5V184.5H777.5V211.7H778.5V188.6H779.5V197.7H780.5V232.1H781.5V191.4H782.5V179.0H783.5V168.1H784.5V160.7H785.5V165.4H786.5V140.0H787.5V158.3H788.5V127.7H789.5V237.0H790.5V151.7H791.5V184.9H792.5V196.0H793.5V110.0H794.5V170.7H795.5V102.0H796.5V134.7H797.5V100.0H798.5V206.9H799.5V169.6H800.5V200.2H801.5V132.5H802.5V224.0H803.5V202.1H804.5V200.4H805.5V90.6H806.5V168.2H807.5V156.7H808.5V101.0H809.5V140.1H810.5V165.5H811.5V117.0H812.5V193.7H813.5V194.3H814.5V233.2H815.5V238.0H816.5V159.5H817.5V147.0H818.5V161.2H819.5V155.8H820.5V183.7H821.5V208.1H822.5V189.7H823.5V199.7H824.5V187.1H825.5V207.4H826.5V222.3H827.5V215.9H828.5V230.1H829.5V217.1H830.5V257.0H831.5V215.1H832.5V206.9H833.5V184.5H834.5V207.7H835.5V216.4H836.5V172.9H837.5V195.9H838.5V207.8H839.5V188.0H840.5V150.0H841.5V183.8H842.5V137.0H843.5V195.2H844.5V160.0H845.5V160.6H846.5V205.4H847.5V265.0H848.5V186.3H849.5V205.2H850.5V206.9H851.5V248.1H852.5V257.8H853.5V217.8H854.5V238.8H855.5V236.0H856.5V255.3H857.5V283.8H858.5V236.2H859.5V241.8H860.5V259.8H861.5V261.4H862.5V274.5H863.5V318.0H864.5V237.0H865.5V252.2H866.5V288.7H867.5V276.5H868.5V232.0H869.5V214.0H870.5V237.1H871.5V256.0H872.5V210.2H873.5V246.4H874.5V203.4H875.5V250.0H876.5V216.3H877.5V128.0H878.5V140.0H879.5V232.0H880.5V253.1H881.5V275.0H882.5V262.6H883.5V263.7H884.5V278.8H885.5V283.3H886.5V294.9H887.5V280.1H888.5V269.2H889.5V286.3H890.5V309.8H891.5V286.9H892.5V295.7H893.5V314.0H894.5V297.7H895.5V322.4H896.5V325.6H897.5V298.2H898.5V321.7H899.5V300.9H900.5V297.7H901.5V314.3H902.5V324.3H903.5V342.6H904.5V306.8H905.5V337.2H906.5V328.6H907.5V314.5H908.5V357.3H909.5V345.0H910.5V318.3H911.5V357.0H912.5V319.7H913.5V321.8H914.5V336.7H915.5V368.8H916.5V326.8H917.5V371.8H918.5V357.5H919.5V330.7H920.5V355.5H921.5V350.2H922.5V356.1H923.5V365.6H924.5V363.2H925.5V378.7H926.5V333.9H927.5V378.3H928.5V337.5H929.5V285.0H930.5V352.1H931.5V353.5H932.5V313.3H933.5V320.9H934.5V345.0H935.5V344.8H936.5V315.0H937.5V344.8H938.5V316.6H939.5V314.2H940.5V332.7H941.5V316.4H942.5V314.5H943.5V311.6H944.5V300.0H945.5V300.9H946.5V297.6H947.5V334.2H948.5V323.9H949.5V329.4H950.5V336.9H951.5V308.7H952.5V312.1H953.5V318.2H954.5V323.1H955.5V349.7H956.5V330.2H957.5V326.7H958.5V287.0H959.5V314.6H960.5V308.7H961.5V338.9H962.5V342.1H963.5V318.5H964.5V336.6H965.5V304.2H966.5V320.7H967.5V325.1H968.5V302.2H969.5V306.0H970.5V319.9H971.5V319.3H972.5V297.1H973.5V326.0H974.5V294.0H975.5V345.8H976.5V312.0H977.5V319.6H978.5V321.0H979.5V364.9H980.5V331.4H981.5V349.5H982.5V370.2H983.5V368.2H984.5V321.2H985.5V344.3H986.5V346.8H987.5V350.5H988.5V330.9H989.5V330.2H990.5V314.2H991.5V317.3H992.5V345.6H993.5V324.1H994.5V332.3H995.5V339.4H996.5V324.8H997.5V320.1H998.5V362.1H999.5V334.1H1000.5V320.5H1001.5V345.6H1002.5V311.3H1003.5V314.8H1004.5V365.1H1005.5V365.3H1006.5V354.9H1007.5V329.3H1008.5V341.4H1009.5V326.7H1010.5V331.2H1011.5V326.9H1012.5V333.4H1013.5V361.1H1014.5V336.2H1015.5V340.2H1016.5V378.2H1017.5V348.7H1018.5V347.5H1019.5V334.2H1020.5V383.9H1021.5V363.6H1022.5V357.0H1023.5V360.4H1024.5V333.7H1025.5V341.1H1026.5V356.7H1027.5V374.3H1028.5V366.1H1029.5V355.5H1030.5V347.5H1031.5V320.3H1032.5V363.2H1033.5V320.2H1034.5V322.0H1035.5V349.1H1036.5V353.7H1037.5V351.5H1038.5V334.6H1039.5V321.9H1040.5V317.1H1041.5V361.4H1042.5V370.8H1043.5V335.8H1044.5V368.4H1045.5V345.1H1046.5V340.1H1047.5V349.6H1048.5V324.5H1049.5V346.5H1050.5V334.3H1051.5V359.4H1052.5V346.9H1053.5V363.0H1054.5V362.2H1055.5V331.8H1056.5V330.7H1057.5V366.9H1058.5V349.2H1059.5V333.7H1060.5V328.5H1061.5V386.0H1062.5V365.9H1063.5V337.8H1064.5V358.0H1065.5V359.7H1066.5V346.5H1067.5V369.8H1068.5V367.4H1069.5V312.1H1070.5V322.8H1071.5V334.2H1072.5V354.6H1073.5V342.9H1074.5V348.2H1075.5V340.8H1076.5V322.8H1077.5V355.6H1078.5V315.4H1079.5V352.6H1080.5V327.9H1081.5V347.6H1082.5V369.1H1083.5V344.0H1084.5V314.6H1085.5V328.5H1086.5V334.9H1087.5V298.6H1088.5V290.0H1089.5V292.5H1090.5V320.3H1091.5V313.2H1092.5V321.2H1093.5V312.3H1094.5V333.7H1095.5V310.6H1096.5V350.9H1097.5V353.8H1098.5V327.6H1099.5V320.2H1100.5V340.9H1101.5V308.5H1102.5V305.0H1103.5V308.9H1104.5V334.4H1105.5V317.7H1106.5V335.2H1107.5V354.2H1108.5V308.3H1109.5V345.8H1110.5V329.1H1111.5V299.0H1112.5V312.2H1113.5V295.3H1114.5V304.6H1115.5V324.6H1116.5V299.2H1117.5V331.2H1118.5V348.5H1119.5V351.0H1120.5V347.6H1121.5V344.8H1122.5V314.0H1123.5V356.7H1124.5V318.5H1125.5V363.7H1126.5V354.7H1127.5V342.1H1128.5V338.0H1129.5V323.5H1130.5V342.6H1131.5V334.2H1132.5V320.8H1133.5V331.8H1134.5V368.3H1135.5V376.0H1136.5V337.5H1137.5V331.9H1138.5V344.9H1139.5V337.8H1140.5V338.5H1141.5V355.6H1142.5V344.7H1143.5V342.9H1144.5V330.6H1145.5V353.3H1146.5V325.1H1147.5V340.0H1148.5V342.5H1149.5V363.0H1150.5V328.8H1151.5V350.4H1152.5V328.7H1153.5V356.3H1154.5V331.0H1155.5V336.4H1156.5V355.1H1157.5V346.3H1158.5V319.7H1159.5V323.6H1160.5V367.1H1161.5V322.7H1162.5V338.4H1163.5V373.0H1164.5V330.4H1165.5V339.9H1166.5V344.1H1167.5V339.0H1168.5V357.8H1169.5V363.6H1170.5V350.5H1171.5V329.0H1172.5V373.8H1173.5V373.3H1174.5V361.5H1175.5V341.1H1176.5V359.5H1177.5V362.6H1178.5V345.3H1179.5V370.3H1180.5V346.1H1181.5V349.7H1182.5V329.7H1183.5V349.6H1184.5V358.5H1185.5V356.8H1186.5V334.8H1187.5V368.8H1188.5V356.5H1189.5V343.6H1190.5V344.4H1191.5V362.9H1192.5V319.2H1193.5V359.8H1194.5V364.3H1195.5V355.5H1196.5V372.2H1197.5V354.3H1198.5V355.7H1199.5V349.9H1200.5V382.1H1201.5V357.7H1202.5V377.7H1203.5V366.0H1204.5V402.2H1205.5V388.9H1206.5V344.5H1207.5V394.2H1208.5V364.9H1209.5V339.2H1210.5V357.9H1211.5V337.9H1212.5V354.7H1213.5V345.0H1214.5V353.4H1215.5V350.5H1216.5V363.9H1217.5V374.0H1218.5V379.4H1219.5V352.6H1220.5V364.0H1221.5V339.4H1222.5V356.9H1223.5V390.6H1224.5V348.1H1225.5V382.5H1226.5V372.7H1227.5V355.9H1228.5V376.4H1229.5V353.9H1230.5V384.0H1231.5V346.4H1232.5V350.4H1233.5V381.6H1234.5V372.0H1235.5V353.5H1236.5V381.7H1237.5V374.0H1238.5V385.1H1239.5V392.0H1240.5V394.2H1241.5V356.7H1242.5V377.5H1243.5V393.1H1244.5V370.4H1245.5V384.2H1246.5V356.1H1247.5V389.7H1248.5V377.1H1249.5V389.4H1250.5V384.3H1251.5V387.0H1252.5V352.2H1253.5V379.5H1254.5V357.1H1255.5V359.2H1256.5V360.6H1257.5V370.6H1258.5V371.4H1259.5V384.3H1260.5V346.5H1261.5V355.4H1262.5V364.1H1263.5V384.5H1264.5V374.7H1265.5V373.9H1266.5V384.5H1267.5V380.5H1268.5V366.2H1269.5V359.0H1270.5V375.4H1271.5V393.6H1272.5V383.8H1273.5V363.4H1274.5V379.9H1275.5V378.7H1276.5V387.4H1277.5V388.7H1278.5V413.2H1279.5V381.6H1280.5V385.4H1281.5V394.1H1282.5V405.1H1283.5V398.9H1284.5V390.7H1285.5V404.2H1286.5V392.8H1287.5V411.2H1288.5V386.9H1289.5V381.3H1290.5V405.6H1291.5V384.5H1292.5V401.1H1293.5V389.5H1294.5V383.1H1295.5V350.6H1296.5V390.4H1297.5V350.8H1298.5V400.6H1299.5V406.3H1300.5V387.1H1301.5V385.9H1302.5V426.8H1303.5V403.8H1304.5V393.4H1305.5V406.1H1306.5V398.0H1307.5" fill="none" stroke="#ff0000" stroke-width="2" stroke-linejoin="miter"/>
<rect x="722" y="3.3" width="585" height="473.9" fill="none" stroke="#000" stroke-width="1.7"/>
<line x1="722.0" y1="477.2" x2="722.0" y2="486.5" stroke="#000" stroke-width="1.6"/>
<text x="720.8" y="519.5" font-size="36" fill="#000" text-anchor="middle" stroke="#000" stroke-width="0.5" >20</text>
<line x1="770.8" y1="477.2" x2="770.8" y2="483.5" stroke="#000" stroke-width="1.6"/>
<line x1="819.5" y1="477.2" x2="819.5" y2="486.5" stroke="#000" stroke-width="1.6"/>
<text x="818.3" y="519.5" font-size="36" fill="#000" text-anchor="middle" stroke="#000" stroke-width="0.5" >30</text>
<line x1="868.2" y1="477.2" x2="868.2" y2="483.5" stroke="#000" stroke-width="1.6"/>
<line x1="917.0" y1="477.2" x2="917.0" y2="486.5" stroke="#000" stroke-width="1.6"/>
<text x="915.8" y="519.5" font-size="36" fill="#000" text-anchor="middle" stroke="#000" stroke-width="0.5" >40</text>
<line x1="965.8" y1="477.2" x2="965.8" y2="483.5" stroke="#000" stroke-width="1.6"/>
<line x1="1014.5" y1="477.2" x2="1014.5" y2="486.5" stroke="#000" stroke-width="1.6"/>
<text x="1013.3" y="519.5" font-size="36" fill="#000" text-anchor="middle" stroke="#000" stroke-width="0.5" >50</text>
<line x1="1063.2" y1="477.2" x2="1063.2" y2="483.5" stroke="#000" stroke-width="1.6"/>
<line x1="1112.0" y1="477.2" x2="1112.0" y2="486.5" stroke="#000" stroke-width="1.6"/>
<text x="1110.8" y="519.5" font-size="36" fill="#000" text-anchor="middle" stroke="#000" stroke-width="0.5" >60</text>
<line x1="1160.8" y1="477.2" x2="1160.8" y2="483.5" stroke="#000" stroke-width="1.6"/>
<line x1="1209.5" y1="477.2" x2="1209.5" y2="486.5" stroke="#000" stroke-width="1.6"/>
<text x="1208.3" y="519.5" font-size="36" fill="#000" text-anchor="middle" stroke="#000" stroke-width="0.5" >70</text>
<line x1="1258.2" y1="477.2" x2="1258.2" y2="483.5" stroke="#000" stroke-width="1.6"/>
<line x1="1307.0" y1="477.2" x2="1307.0" y2="486.5" stroke="#000" stroke-width="1.6"/>
<text x="1305.8" y="519.5" font-size="36" fill="#000" text-anchor="middle" stroke="#000" stroke-width="0.5" >80</text>
<text x="724.3" y="37.1" font-size="40" fill="#000" text-anchor="start" stroke="#000" stroke-width="0.5" >(b)</text>
<ellipse cx="1114.2" cy="27.3" rx="3.2" ry="1.8" fill="#222"/>
<text x="1123.6" y="36.4" font-size="17.4" fill="#111" text-anchor="start"  letter-spacing="2.35">FTO substrate</text>
<ellipse cx="793.4" cy="81.2" rx="3.2" ry="1.8" fill="#222"/>
<ellipse cx="842" cy="119.5" rx="3.2" ry="1.8" fill="#222"/>
<ellipse cx="880.6" cy="104.7" rx="3.2" ry="1.8" fill="#222"/>
<text transform="translate(692,374.9) rotate(-90)" font-size="48" fill="#000" stroke="#000" stroke-width="0.5">Intensity (a.u.)</text>
<text x="965.5" y="561.2" font-size="46" fill="#000" text-anchor="start" stroke="#000" stroke-width="0.5" >2θ</text>
<circle cx="1023.2" cy="543.5" r="5" fill="none" stroke="#000" stroke-width="1.3"/>
<path d="M56.3,755.4 C58.8,754.9 65.0,753.7 71.0,752.3 C77.0,750.9 85.2,748.9 92.2,747.0 C99.2,745.1 106.6,742.1 113.3,740.7 C120.0,739.3 127.6,738.8 132.2,738.6 C136.8,738.4 137.9,738.9 140.7,739.6 C143.5,740.3 146.4,742.4 149.0,742.8 C151.6,743.1 154.2,743.3 156.5,741.7 C158.8,740.1 160.5,735.4 162.8,733.3 C165.1,731.2 167.9,731.5 170.2,729.1 C172.5,726.7 174.6,721.4 176.5,718.6 C178.4,715.8 180.1,712.0 181.8,712.2 C183.6,712.4 185.4,721.7 187.0,719.6 C188.6,717.5 189.9,708.2 191.3,699.6 C192.7,691.0 194.1,677.0 195.5,668.0 C196.9,659.0 198.3,645.1 199.7,645.8 C201.1,646.5 202.7,660.1 203.9,672.2 C205.1,684.3 204.9,708.4 207.0,718.6 C209.1,728.8 213.9,728.4 216.6,733.3 C219.2,738.2 221.2,741.9 222.9,748.0 C224.6,754.1 225.3,770.2 226.7,770.2 C228.1,770.2 229.5,756.2 231.3,748.0 C233.1,739.8 235.5,731.6 237.6,720.7 C239.7,709.8 242.2,690.1 244.0,682.7 C245.8,675.3 246.8,675.7 248.6,676.4 C250.3,677.1 252.6,679.5 254.5,687.0 C256.4,694.5 257.7,714.9 259.8,721.7 C261.9,728.5 264.4,720.5 267.2,728.0 C270.0,735.5 273.8,755.2 276.6,767.0 C279.4,778.8 280.8,790.4 284.0,798.7 C287.2,807.0 292.6,818.7 295.6,816.6 C298.6,814.5 299.4,785.2 302.0,786.0 C304.6,786.8 308.6,814.4 311.5,821.4 C314.4,828.4 316.6,821.8 319.2,827.8 C321.8,833.8 324.2,842.7 326.8,857.2 C329.4,871.7 331.9,912.6 334.5,914.7 C337.1,916.8 339.4,885.5 342.2,870.0 C345.0,854.5 348.1,833.1 351.1,821.4 C354.1,809.7 357.4,802.7 360.0,799.7 C362.6,796.7 364.8,795.3 366.4,803.6 C368.0,811.9 368.2,851.3 369.5,849.6 C370.8,847.9 372.5,806.5 374.1,793.3 C375.7,780.1 377.5,772.6 379.2,770.3 C380.9,768.0 382.4,774.2 384.3,779.3 C386.2,784.4 388.6,802.9 390.7,801.0 C392.8,799.1 394.8,779.7 397.1,767.8 C399.5,755.9 402.2,736.4 404.8,729.4 C407.4,722.4 410.1,729.2 412.4,725.6 C414.7,722.0 416.7,708.3 418.8,707.7 C420.9,707.1 423.1,708.4 425.2,721.8 C427.3,735.2 429.2,781.4 431.6,788.2 C434.0,795.0 437.2,761.4 439.3,762.7 C441.4,764.0 442.9,799.3 444.4,795.9 C445.9,792.5 446.3,753.7 448.2,742.2 C450.1,730.7 453.8,730.1 455.9,726.9 C458.0,723.7 459.3,726.8 461.0,723.0 C462.7,719.2 463.8,708.6 466.1,703.9 C468.4,699.2 472.6,691.0 475.0,695.0 C477.4,699.0 478.7,728.4 480.2,728.2 C481.7,728.0 481.7,699.7 484.0,693.7 C486.3,687.7 491.6,690.1 494.2,692.4 C496.8,694.7 497.6,706.6 499.3,707.7 C501.0,708.8 502.5,702.8 504.4,698.8 C506.3,694.8 508.7,684.5 510.8,683.4 C512.9,682.3 515.3,680.0 517.2,692.4 C519.1,704.8 521.0,750.4 522.3,757.6 C523.6,764.8 522.8,727.7 524.9,735.8 C527.0,743.9 532.5,803.8 535.1,806.1 C537.7,808.5 538.3,767.8 540.2,749.9 C542.1,732.0 544.5,708.6 546.6,698.8 C548.7,689.0 551.3,693.5 553.0,691.1 C554.7,688.8 555.5,683.2 556.8,684.7 C558.1,686.2 559.2,700.9 560.7,700.0 C562.2,699.1 564.1,679.6 565.8,679.6 C567.5,679.6 569.2,694.0 570.9,700.0 C572.6,706.0 573.7,718.4 576.0,715.4 C578.3,712.4 582.6,683.5 584.9,682.2 C587.2,680.9 588.5,710.9 590.0,707.7 C591.5,704.5 593.2,670.5 593.9,663.0" fill="none" stroke="#00e800" stroke-width="3" stroke-linejoin="round" stroke-linecap="round"/>
<rect x="56" y="611.3" width="539.2" height="436.70000000000005" fill="none" stroke="#111" stroke-width="1.8"/>
<rect x="594.2" y="660" width="2" height="18" fill="#c000c0"/>
<line x1="56.0" y1="1048" x2="56.0" y2="1056" stroke="#111" stroke-width="1.8"/>
<text x="56.0" y="1086.6" font-size="32" fill="#111" text-anchor="middle" stroke="#111" stroke-width="0.5" >2000</text>
<line x1="140.1" y1="1048" x2="140.1" y2="1052.7" stroke="#111" stroke-width="1.8"/>
<line x1="224.1" y1="1048" x2="224.1" y2="1056" stroke="#111" stroke-width="1.8"/>
<text x="224.1" y="1086.6" font-size="32" fill="#111" text-anchor="middle" stroke="#111" stroke-width="0.5" >1500</text>
<line x1="308.1" y1="1048" x2="308.1" y2="1052.7" stroke="#111" stroke-width="1.8"/>
<line x1="392.2" y1="1048" x2="392.2" y2="1056" stroke="#111" stroke-width="1.8"/>
<text x="392.2" y="1086.6" font-size="32" fill="#111" text-anchor="middle" stroke="#111" stroke-width="0.5" >1000</text>
<line x1="476.2" y1="1048" x2="476.2" y2="1052.7" stroke="#111" stroke-width="1.8"/>
<line x1="560.3" y1="1048" x2="560.3" y2="1056" stroke="#111" stroke-width="1.8"/>
<text x="560.3" y="1086.6" font-size="32" fill="#111" text-anchor="middle" stroke="#111" stroke-width="0.5" >500</text>
<text x="64.1" y="652.4" font-size="39" fill="#111" text-anchor="start" stroke="#111" stroke-width="0.5" >(c)</text>
<text transform="translate(34.9,1026.7) rotate(-90)" font-size="45" fill="#111" stroke="#111" stroke-width="0.5">Transmittance (a.u.)</text>
<text x="149.2" y="1132.8" font-size="44.5" fill="#111" text-anchor="start" stroke="#111" stroke-width="0.5" >Wavenumber (cm</text>
<text x="497.4" y="1109" font-size="24" fill="#111">-1</text>
<text x="522.3" y="1132.8" font-size="44.5" fill="#111" text-anchor="start" stroke="#111" stroke-width="0.5" >)</text>
<text x="174.2" y="769.0" font-size="19" fill="#222" text-anchor="start"  letter-spacing="0.6">1545</text>
<text x="200.6" y="805.4" font-size="19" fill="#222" text-anchor="start"  letter-spacing="0.6">1492</text>
<text x="272.1" y="856.6" font-size="19" fill="#222" text-anchor="start"  letter-spacing="0.6">1284</text>
<text x="314.1" y="940.5" font-size="19" fill="#222" text-anchor="start"  letter-spacing="0.6">1172</text>
<text x="355.0" y="886.6" font-size="19" fill="#222" text-anchor="start"  letter-spacing="0.6">1068</text>
<text x="378.0" y="834.7" font-size="19" fill="#222" text-anchor="start"  letter-spacing="0.6">1006</text>
<text x="401.0" y="807.4" font-size="19" fill="#222" text-anchor="start"  letter-spacing="0.6">883</text>
<text x="440.6" y="827.8" font-size="19" fill="#222" text-anchor="start"  letter-spacing="0.6">846</text>
<text x="491.8" y="807.4" font-size="19" fill="#222" text-anchor="start"  letter-spacing="0.6">613</text>
<text x="523.7" y="845.2" font-size="19" fill="#222" text-anchor="start"  letter-spacing="0.6">578</text>
<circle cx="79.1" cy="1001.5" r="1.3" fill="#222"/>
<line x1="87" y1="1001.5" x2="118.8" y2="1001.5" stroke="#333" stroke-width="1.4"/>
<path d="M100.5,974.5 L97.4,974.5 L97.4,1027.4 L100.5,1027.4" fill="none" stroke="#333" stroke-width="1.3"/>
<line x1="109.6" y1="985.7" x2="109.6" y2="1016.2" stroke="#6a6af5" stroke-width="2.4" stroke-linecap="round"/>
<path d="M118.8,1001.5 L131.0,977.6 L157.4,977.6 L169.6,1001.5 L157.4,1025.4 L131.0,1025.4 Z" fill="none" stroke="#3b3bf0" stroke-width="1.5"/>
<line x1="135.0" y1="982.2" x2="153.4" y2="982.2" stroke="#3b3bf0" stroke-width="1.5"/>
<line x1="163.9" y1="1002.7" x2="155.3" y2="1019.4" stroke="#3b3bf0" stroke-width="1.5"/>
<line x1="133.1" y1="1019.4" x2="124.5" y2="1002.7" stroke="#3b3bf0" stroke-width="1.5"/>
<path d="M224.0,1001.5 L236.2,977.6 L262.6,977.6 L274.8,1001.5 L262.6,1025.4 L236.2,1025.4 Z" fill="none" stroke="#3b3bf0" stroke-width="1.5"/>
<line x1="240.2" y1="982.2" x2="258.6" y2="982.2" stroke="#3b3bf0" stroke-width="1.5"/>
<line x1="269.1" y1="1002.7" x2="260.5" y2="1019.4" stroke="#3b3bf0" stroke-width="1.5"/>
<line x1="238.3" y1="1019.4" x2="229.7" y2="1002.7" stroke="#3b3bf0" stroke-width="1.5"/>
<line x1="169.6" y1="1001.5" x2="191" y2="1001.5" stroke="#3b3bf0" stroke-width="1.5"/>
<text x="191.3" y="1006.7" font-size="15.5" fill="#3b3bf0" text-anchor="start"  >N</text>
<line x1="203.5" y1="1001.5" x2="223.8" y2="1001.5" stroke="#3b3bf0" stroke-width="1.5"/>
<line x1="274.8" y1="1001.5" x2="296" y2="1001.5" stroke="#3b3bf0" stroke-width="1.5"/>
<text x="296.6" y="1006.7" font-size="15.5" fill="#3b3bf0" text-anchor="start"  >N</text>
<line x1="302" y1="1008.5" x2="302" y2="1023" stroke="#3b3bf0" stroke-width="1.5"/>
<text x="297.2" y="1035.1" font-size="16" fill="#3b3bf0" text-anchor="start"  >H</text>
<line x1="308" y1="1001.5" x2="341.7" y2="1001.5" stroke="#333" stroke-width="1.4"/>
<path d="M314.5,985.5 L316.8,985.5 L316.8,1016.5 L314.5,1016.5" fill="none" stroke="#3b3bf0" stroke-width="1.3"/>
<text x="318.3" y="1020.9" font-size="17.5" fill="#3b3bf0" text-anchor="start"  stroke="#3b3bf0" stroke-width="0.4">n</text>
<line x1="334.2" y1="985.5" x2="334.2" y2="1016.5" stroke="#f58a8a" stroke-width="2" stroke-linecap="round"/>
<path d="M342.5,1001.5 L354.7,977.6 L381.1,977.6 L393.3,1001.5 L381.1,1025.4 L354.7,1025.4 Z" fill="none" stroke="#f03c3c" stroke-width="1.5"/>
<line x1="358.7" y1="982.2" x2="377.1" y2="982.2" stroke="#f03c3c" stroke-width="1.5"/>
<line x1="387.6" y1="1002.7" x2="379.0" y2="1019.4" stroke="#f03c3c" stroke-width="1.5"/>
<line x1="356.8" y1="1019.4" x2="348.2" y2="1002.7" stroke="#f03c3c" stroke-width="1.5"/>
<path d="M447.3,1001.5 L459.5,977.6 L485.9,977.6 L498.1,1001.5 L485.9,1025.4 L459.5,1025.4 Z" fill="none" stroke="#f03c3c" stroke-width="1.5"/>
<line x1="463.5" y1="982.2" x2="481.9" y2="982.2" stroke="#f03c3c" stroke-width="1.5"/>
<line x1="481.9" y1="1020.8" x2="463.5" y2="1020.8" stroke="#f03c3c" stroke-width="1.5"/>
<line x1="393.5" y1="1001.5" x2="414" y2="1001.5" stroke="#f03c3c" stroke-width="1.5"/>
<text x="414.3" y="1006.7" font-size="15.5" fill="#f03c3c" text-anchor="start"  >N</text>
<line x1="425.5" y1="999.5" x2="447" y2="999.5" stroke="#f03c3c" stroke-width="1.4"/>
<line x1="425.5" y1="1003.5" x2="447" y2="1003.5" stroke="#f03c3c" stroke-width="1.4"/>
<line x1="498.5" y1="999.5" x2="519" y2="999.5" stroke="#f03c3c" stroke-width="1.4"/>
<line x1="498.5" y1="1003.5" x2="519" y2="1003.5" stroke="#f03c3c" stroke-width="1.4"/>
<text x="519.2" y="1006.7" font-size="15.5" fill="#f03c3c" text-anchor="start"  >N</text>
<line x1="531" y1="1001.5" x2="572" y2="1001.5" stroke="#333" stroke-width="1.4"/>
<path d="M538,985.5 L540.4,985.5 L540.4,1016.5 L538,1016.5" fill="none" stroke="#f03c3c" stroke-width="1.3"/>
<text x="543.0" y="1020.9" font-size="17.5" fill="#f03c3c" text-anchor="start"  stroke="#f03c3c" stroke-width="0.4">m</text>
<path d="M557,974.3 L560,974.3 L560,1027.8 L557,1027.8" fill="none" stroke="#333" stroke-width="1.3"/>
<circle cx="577.5" cy="1001.5" r="1.3" fill="#222"/>
<text x="565.6" y="1033.3" font-size="17" fill="#222" text-anchor="start"  >X</text>
<line x1="146.2" y1="971.5" x2="213.5" y2="821.5" stroke="#111" stroke-width="1.9"/>
<path d="M217.6,812.4 L216.0,824.8 L209.4,821.9 Z" fill="#111"/>
<line x1="213.3" y1="994.8" x2="286.4" y2="876.3" stroke="#111" stroke-width="1.9"/>
<path d="M291.6,867.8 L288.4,879.9 L282.2,876.1 Z" fill="#111"/>
<line x1="324.2" y1="986.3" x2="437.0" y2="840.9" stroke="#111" stroke-width="1.9"/>
<path d="M443.1,833 L438.6,844.7 L432.9,840.3 Z" fill="#111"/>
<line x1="434.5" y1="990.6" x2="358.7" y2="917.9" stroke="#111" stroke-width="1.9"/>
<path d="M351.5,911 L362.7,916.7 L357.7,921.9 Z" fill="#111"/>
<path d="M732.9,966.6 C733.3,955.5 734.5,922.7 735.5,900.0 C736.5,877.3 737.8,853.7 738.7,830.4 C739.6,807.1 740.2,779.9 741.0,760.0 C741.8,740.1 742.5,723.1 743.2,711.1 C743.9,699.1 744.3,693.7 745.0,688.0 C745.7,682.3 746.5,678.2 747.3,677.0 C748.1,675.8 748.9,678.4 750.0,681.0 C751.1,683.6 752.9,689.7 754.1,692.4 C755.3,695.1 756.0,695.9 757.0,697.0 C758.0,698.1 758.9,695.4 760.2,699.2 C761.5,703.0 763.2,711.2 765.0,720.0 C766.8,728.8 768.4,740.4 771.1,752.0 C773.8,763.6 777.0,777.0 781.3,789.5 C785.6,802.0 791.6,818.5 796.7,827.0 C801.8,835.5 806.6,835.8 812.0,840.6 C817.4,845.4 823.9,849.7 829.0,855.9 C834.1,862.1 838.9,869.8 842.7,878.0 C846.5,886.2 848.6,894.2 852.0,905.0 C855.4,915.8 859.6,932.8 863.1,942.8 C866.6,952.8 869.6,958.5 873.0,965.0 C876.4,971.5 878.3,975.2 883.5,982.0 C888.7,988.8 898.2,1000.3 904.0,1005.8 C909.8,1011.3 913.5,1012.7 918.0,1015.0 C922.5,1017.3 926.7,1018.8 931.2,1019.5 C935.7,1020.2 940.5,1019.8 945.0,1019.5 C949.5,1019.2 954.7,1019.3 958.5,1017.7 C962.3,1016.1 964.6,1012.8 968.0,1010.0 C971.4,1007.2 972.8,1004.7 979.0,1000.7 C985.2,996.8 997.5,992.3 1005.3,986.3 C1013.1,980.3 1020.1,969.2 1025.6,964.7 C1031.0,960.2 1034.2,960.6 1038.0,959.5 C1041.8,958.4 1043.8,959.8 1048.5,958.3 C1053.2,956.8 1060.2,952.8 1066.4,950.7 C1072.6,948.6 1080.6,946.1 1085.4,945.6 C1090.2,945.1 1091.8,946.4 1095.0,947.5 C1098.2,948.6 1099.5,950.4 1104.5,952.0 C1109.5,953.6 1116.8,956.2 1124.9,957.1 C1133.0,958.0 1145.7,956.8 1152.9,957.6 C1160.1,958.5 1161.4,959.3 1168.2,962.2 C1175.0,965.1 1186.0,972.6 1193.6,974.9 C1201.2,977.2 1207.2,976.5 1214.0,976.2 C1220.8,975.9 1226.0,974.2 1234.3,972.9 C1242.6,971.6 1255.1,968.4 1263.6,968.5 C1272.1,968.6 1278.6,972.1 1285.2,973.6 C1291.8,975.1 1300.0,976.8 1303.0,977.4" fill="none" stroke="#f01414" stroke-width="3.2" stroke-linejoin="round"/>
<line x1="725" y1="611.6" x2="1303.6" y2="611.6" stroke="#333" stroke-width="1.8"/>
<line x1="733" y1="611.6" x2="733" y2="1053.3" stroke="#111" stroke-width="1.8"/>
<line x1="1303.6" y1="611.6" x2="1303.6" y2="1059.3" stroke="#555" stroke-width="2"/>
<line x1="725" y1="1053.3" x2="1303.6" y2="1053.3" stroke="#555" stroke-width="2.6"/>
<line x1="725" y1="611.9" x2="733" y2="611.9" stroke="#222" stroke-width="1.6"/>
<line x1="729" y1="656.0" x2="733" y2="656.0" stroke="#222" stroke-width="1.6"/>
<line x1="725" y1="700.2" x2="733" y2="700.2" stroke="#222" stroke-width="1.6"/>
<line x1="729" y1="744.3" x2="733" y2="744.3" stroke="#222" stroke-width="1.6"/>
<line x1="725" y1="788.5" x2="733" y2="788.5" stroke="#222" stroke-width="1.6"/>
<line x1="729" y1="832.6" x2="733" y2="832.6" stroke="#222" stroke-width="1.6"/>
<line x1="725" y1="876.8" x2="733" y2="876.8" stroke="#222" stroke-width="1.6"/>
<line x1="729" y1="920.9" x2="733" y2="920.9" stroke="#222" stroke-width="1.6"/>
<line x1="725" y1="965.1" x2="733" y2="965.1" stroke="#222" stroke-width="1.6"/>
<line x1="729" y1="1009.2" x2="733" y2="1009.2" stroke="#222" stroke-width="1.6"/>
<line x1="725" y1="1053.4" x2="733" y2="1053.4" stroke="#222" stroke-width="1.6"/>
<line x1="740.4" y1="1053.3" x2="740.4" y2="1058.4" stroke="#333" stroke-width="1.6"/>
<line x1="810.7" y1="1053.3" x2="810.7" y2="1061.8" stroke="#333" stroke-width="1.6"/>
<text x="810.7" y="1095.0" font-size="34" fill="#111" text-anchor="middle" stroke="#111" stroke-width="0.5" >400</text>
<line x1="881.1" y1="1053.3" x2="881.1" y2="1058.4" stroke="#333" stroke-width="1.6"/>
<line x1="951.4" y1="1053.3" x2="951.4" y2="1061.8" stroke="#333" stroke-width="1.6"/>
<text x="951.4" y="1095.0" font-size="34" fill="#111" text-anchor="middle" stroke="#111" stroke-width="0.5" >600</text>
<line x1="1021.8" y1="1053.3" x2="1021.8" y2="1058.4" stroke="#333" stroke-width="1.6"/>
<line x1="1092.1" y1="1053.3" x2="1092.1" y2="1061.8" stroke="#333" stroke-width="1.6"/>
<text x="1092.1" y="1095.0" font-size="34" fill="#111" text-anchor="middle" stroke="#111" stroke-width="0.5" >800</text>
<line x1="1162.5" y1="1053.3" x2="1162.5" y2="1058.4" stroke="#333" stroke-width="1.6"/>
<line x1="1232.8" y1="1053.3" x2="1232.8" y2="1061.8" stroke="#333" stroke-width="1.6"/>
<text x="1232.8" y="1095.0" font-size="34" fill="#111" text-anchor="middle" stroke="#111" stroke-width="0.5" >1000</text>
<text x="742.5" y="643.8" font-size="40" fill="#111" text-anchor="start" stroke="#111" stroke-width="0.5" >(d)</text>
<text x="817.4" y="639.4" font-size="20" fill="#222" text-anchor="start"  >B</text>
<text x="1076.0" y="882.8" font-size="21" fill="#222" text-anchor="start"  >A</text>
<path d="M746.5,676 L746.5,667 Q746.5,661.6 752,661.6 L895,661.6 Q900.9,661.6 900.9,667 L900.9,679" fill="none" stroke="#5b8ad6" stroke-width="1.6"/>
<line x1="823.5" y1="644" x2="823.5" y2="661" stroke="#5b8ad6" stroke-width="1.5"/>
<path d="M1010.4,937 L1010.4,925 Q1010.4,919.4 1016,919.4 L1157,919.4 Q1162.6,919.4 1162.6,925 L1162.6,937" fill="none" stroke="#5b8ad6" stroke-width="1.6"/>
<line x1="1086.2" y1="901" x2="1086.2" y2="919" stroke="#5b8ad6" stroke-width="1.5"/>
<rect x="731.5" y="955" width="3" height="20" fill="#f0f" opacity="0.8"/>
<rect x="1301.5" y="965" width="3" height="25" fill="#f0f" opacity="0.8"/>
<text transform="translate(701.3,1042.7) rotate(-90)" font-size="50.5" fill="#111" stroke="#111" stroke-width="0.5">Absorbance (cm</text>
<rect x="659.5" y="661.3" width="5.7" height="13.9" fill="#111"/>
<path d="M639.5,643.7 L675.9,643.7" stroke="#111" stroke-width="5" fill="none"/>
<path d="M640.5,643.7 L652,654.5" stroke="#111" stroke-width="4.6" fill="none"/>
<text transform="translate(700.5,631.3) rotate(-90)" font-size="46" fill="#111">)</text>
<text x="940.0" y="1162.0" font-size="45" fill="#111" text-anchor="start" stroke="#111" stroke-width="0.5" >λ</text>
<text x="979.5" y="1161.1" font-size="47" fill="#111" text-anchor="start" stroke="#111" stroke-width="0.5" letter-spacing="2.2">(nm)</text>
<line x1="0" y1="1149.6" x2="603" y2="1149.6" stroke="#f2f2f2" stroke-width="1"/>
    </svg></body></html>
